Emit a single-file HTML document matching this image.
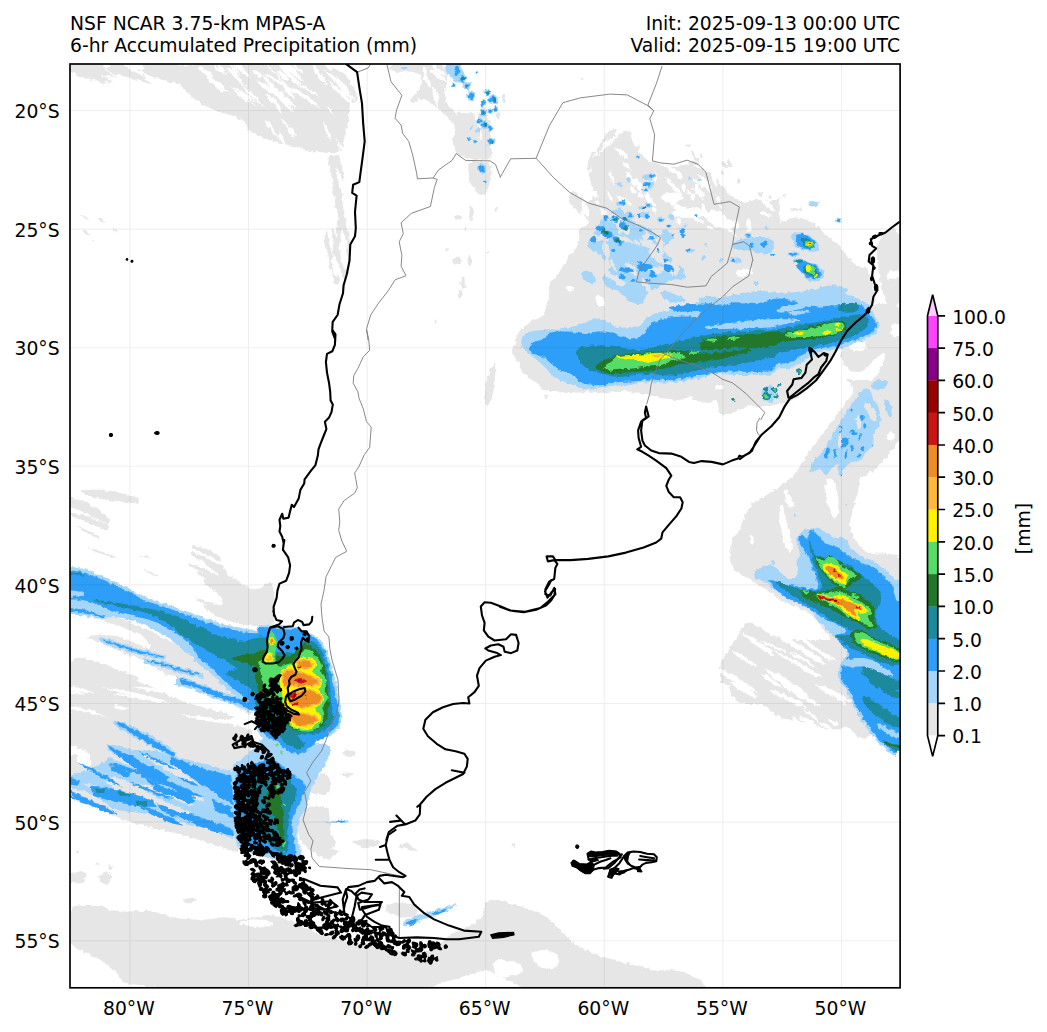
<!DOCTYPE html>
<html><head><meta charset="utf-8"><title>NSF NCAR 3.75-km MPAS-A 6-hr Accumulated Precipitation</title>
<style>
html,body{margin:0;padding:0;background:#fff}
svg{display:block}
text{font-family:"DejaVu Sans","Liberation Sans",sans-serif;font-size:18.75px;fill:#000}
</style></head><body>
<svg width="1047" height="1032" viewBox="0 0 1047 1032">
<rect width="1047" height="1032" fill="#fff"/>
<defs><clipPath id="ax"><rect x="70.0" y="64.0" width="830.1" height="923.8"/></clipPath>
<filter id="sp" filterUnits="userSpaceOnUse" x="50" y="45" width="870" height="960"><feTurbulence type="fractalNoise" baseFrequency="0.22" numOctaves="2" seed="3" result="n"/><feDisplacementMap in="SourceGraphic" in2="n" scale="4.5" xChannelSelector="R" yChannelSelector="G"/></filter>
</defs>
<g clip-path="url(#ax)">
<g filter="url(#sp)">
<path fill="#e6e6e6" fill-rule="nonzero" d="M591.6 166.8 L598.3 156.2 L604.3 148.8 L609.6 144.8 L616.3 138.8 L624.4 130.7 L629.7 131.4 L632.4 140.8 L635.1 147.5 L637.8 151.5 L641.8 155.5 L647.1 159.5 L652.5 163.5 L657.8 167.5 L663.2 168.8 L668.5 167.6 L675.2 166.2 L683.2 164.9 L689.9 164.9 L695.2 166.2 L701.9 168.9 L710 172.9 L716.7 178.2 L722 185 L726.7 191 L730.7 196.3 L734.7 200.3 L738.7 203 L744.7 203 L752.8 200.3 L760.8 199.7 L768.8 200.9 L774.6 200.9 L778.2 199.7 L780 221.7 L780 267.2 L722 289.9 L606.1 289.9 L549.5 287.9 L552.1 283.9 L556.9 279.9 L563.5 275.8 L566.5 270.5 L565.9 263.8 L567.9 257.8 L572.5 252.5 L576.2 247.1 L578.9 241.8 L579.6 236.4 L578.2 231.1 L580.3 227.7 L585.6 226.4 L588.3 223 L588.3 217.7 L585.6 214.3 L580.3 213 L575.6 209 L571.5 202.3 L570.9 198.3 L573.5 197 L576.9 199 L580.9 204.3 L585.6 207 L590.9 207 L593.3 202.3 L592.6 193 L591.3 184.3 L589.3 176.2ZM597.6 183.7 L597.1 180.2 L599 175 L602.1 172.3 L602.5 175.7 L600.7 181ZM594.7 167.2 L595.5 162.5 L599.2 155.2 L603.2 151.1 L602.4 155.8 L598.6 163.1ZM596 175.7 L595.9 172.5 L597.6 167.6 L600.1 164.8 L600.2 167.9 L598.5 172.9ZM597 157.5 L598.1 150.9 L602.4 139.9 L606.7 133.2 L605.6 139.8 L601.3 150.8ZM587.9 165.4 L588.2 160.9 L591.3 154 L595.1 150.3 L594.8 154.8 L591.7 161.7ZM618.1 160.1 L619.1 154.5 L623.7 145.9 L628.7 141.2 L627.7 146.9 L623.1 155.5ZM633.1 156 L633 152.1 L635.8 146.7 L639.7 144.2 L639.7 148.1 L636.9 153.5ZM595.9 153.3 L598.4 147.2 L604.5 137.3 L609.7 131.5 L607.2 137.5 L601.1 147.4ZM587 171.4 L588.5 165.6 L594 157 L599.5 152.5 L598 158.3 L592.5 166.9ZM610.9 138.6 L611 135.1 L613.6 130 L616.9 127.4 L616.7 130.9 L614.2 136.1ZM611.7 169.2 L611.7 165.5 L613.8 159.5 L616.5 156.1 L616.4 159.8 L614.4 165.7ZM600.9 144.5 L602.2 140 L606.4 133.3 L610.6 129.7 L609.3 134.2 L605.1 140.9ZM594.4 173 L595.6 169.2 L599.3 163.3 L602.7 160 L601.5 163.8 L597.9 169.7ZM606.5 142.8 L607.2 138.3 L610.6 131.2 L614.3 127.3 L613.7 131.8 L610.3 138.8ZM616 143.8 L616.1 140.7 L618 135.8 L620.4 132.9 L620.3 136.1 L618.4 141ZM608.4 153.1 L610.3 147 L615.9 137.5 L621.1 132.1 L619.2 138.1 L613.6 147.6ZM601.1 164.7 L603.4 159.1 L609.4 150.5 L614.7 145.6 L612.4 151.2 L606.4 159.8ZM596.2 177.3 L595.9 174.1 L598.3 169.9 L601.8 168.4 L602 171.7 L599.7 175.8ZM727.9 165.9 L728.4 163.7 L730.4 162.8 L732.4 164.3 L731.9 166.4 L729.9 167.3ZM700.4 154.1 L702.3 154.2 L703.7 155.8 L703.2 157.9 L701.3 157.9 L699.9 156.2ZM692.7 158.6 L695.1 157.4 L698.6 158.1 L700.5 160.5 L698.2 161.7 L694.6 161ZM693.5 156.1 L695.3 156.1 L697.1 157.7 L697.2 159.8 L695.4 159.8 L693.6 158.2ZM721.1 171.4 L722.9 171.3 L724.1 172.7 L723.6 174.6 L721.9 174.7 L720.6 173.3ZM684.4 146.5 L686 145.1 L689.1 144.3 L691.5 144.9 L690 146.3 L686.8 147.1ZM722.7 165 L724.9 164.9 L728.1 166.4 L729.7 168.5 L727.5 168.6 L724.2 167.1ZM737.5 178.6 L739.2 179 L740.4 180.8 L739.9 182.8 L738.2 182.4 L737 180.5ZM688.2 161.9 L690.8 162.1 L693.6 164.4 L694.2 167.3 L691.6 167.1 L688.8 164.8ZM690.8 162.1 L693.5 161.2 L697.5 162.2 L699.7 164.6 L697 165.5 L693 164.5ZM726.2 162.3 L727 160.5 L728.9 159.9 L730.6 161.4 L729.8 163.2 L727.9 163.8ZM756.2 194.1 L757.9 192.4 L761 192.2 L763.1 194.1 L761.4 195.8 L758.3 196ZM720.6 162.5 L723.2 162.6 L726.8 164.8 L728.2 167.6 L725.6 167.5 L722 165.3ZM691.1 151.4 L693.4 151.9 L695 154.2 L694.6 156.7 L692.4 156.3 L690.7 153.9ZM778.9 500 L830.4 500 L855.3 502.8 L853.4 508.2 L851.6 515.1 L849.8 523.5 L850.7 531.3 L854.4 538.6 L859 545.1 L864.5 550.6 L871.9 553.4 L881.1 553.4 L888 553.8 L892.6 554.8 L896 557.1 L908 560.8 L908 594.5 L908 658.1 L882.2 690 L847.8 690 L832.3 683.9 L836 671.8 L836 663.9 L832.3 660.1 L832.3 656.5 L836 652.8 L836 648.2 L832.3 642.7 L828.6 637.1 L825 631.6 L820.3 625.2 L814.8 617.8 L808.3 612.5 L801 609.3 L793.2 605.9 L784.9 602.1 L777.1 597.5 L769.7 592 L762.8 587.4 L756.3 583.8 L751.7 580.8 L749 578.4 L744.9 576.4 L739.4 574.5 L734.8 570.4 L731.1 564 L729.7 557.6 L730.5 551.1 L731.5 545.1 L732.4 539.6 L734.3 535.9 L737 534 L739.8 529.4 L742.5 522.1 L744.8 516.5 L746.7 512.9 L749 508.2 L751.7 502.8ZM722.8 658.3 L728.2 651 L732.9 643.6 L736.5 636.2 L740.7 629.8 L745.3 624.2 L749.9 622.4 L754.5 624.3 L761.4 628.4 L770.6 634.9 L777.5 637.6 L782.1 636.7 L787.6 638.1 L794.1 641.8 L801 644.5 L808.3 646.4 L814.8 646.8 L820.3 645.9 L825.9 648.2 L831.4 653.7 L835 658.8 L836.9 663.4 L836.9 668.5 L835 674 L835 680 L836.9 686.7 L808.3 690 L749.5 690 L720 683 L720 669ZM723 660.5 L729.4 656.8 L735.8 652.2 L742.2 646.9 L746.5 643.2 L748.6 641.1 L787 640 L861.6 640 L908 670.6 L908 732 L892.5 755.4 L879.7 741 L870.1 735.4 L863.7 738.6 L857.3 736.5 L850.9 729 L845.1 726.6 L839.8 729.3 L832.3 729.8 L822.7 728.2 L812.6 725.5 L801.9 721.8 L792.3 719.6 L783.8 719.1 L775.8 715.2 L768.3 707.7 L758.2 704 L745.4 704 L736.4 700.8 L731 694.4 L728.9 689.1 L730 684.8 L728.4 678.9 L724.1 671.4 L721.5 666.4 L720.3 663.7ZM80.1 490.2 L97.7 489.7 L115.4 491.5 L138 497.8 L139.3 502.8 L120.4 501.6 L107.8 500.3 L95.2 497.8 L82.6 494ZM62 495.3 L85.1 501.6 L100.2 510.4 L110.3 520.5 L107.8 524.2 L92.7 516.7 L80.1 510.4 L62 504.1ZM62 510.4 L90.2 516.7 L110.3 526 L107.8 530 L92.7 525 L75 517.4ZM77.6 525.5 L90.2 531.8 L100.2 537.6 L97.7 538.6 L87.6 533.6 L77.6 527.5ZM87.6 546.9 L102.8 552 L115.4 557 L112.8 557.8 L100.2 553.2 L87.6 548.2ZM140.5 554.5 L150.6 557.8 L149.4 558.8 L140.5 555.7ZM143.1 568.3 L158.2 575.4 L156.9 576.4 L143.1 569.9ZM228.1 574 L236.9 580.4 L245.1 585.4 L252.6 589.1 L260.2 588.5 L267.8 583.4 L272.5 588.5 L274.4 603.6 L275.3 615 L275.3 622.5 L269.3 625.7 L257.4 624.4 L246.4 622.2 L236.2 619.1 L228.7 614.6 L223.7 609 L223.7 604.9 L228.7 602.4 L229.9 597.3 L227.4 589.8 L225.6 582.2 L224.3 574.7ZM193.5 545.7 L206.1 548.7 L221.2 560.8 L218.7 561.3 L203.5 551.2 L193.5 547.2ZM196 553.2 L211.1 563.3 L226.2 578.4 L223.7 579.4 L208.6 565.8 L196 554.7ZM198.5 570.9 L211.1 576.4 L221.2 583.5 L219.2 584.5 L208.6 578.4 L198.5 572.4ZM196 598.6 L211.1 602.4 L221.2 606.1 L220.2 607.6 L208.6 604.6 L196 600.1ZM206.1 558.3 L218.7 568.3 L231.2 578.4 L226.2 578.4 L213.6 568.3 L204.8 559.8ZM77.5 604.6 L92.7 609 L109 614.4 L126.7 620.6 L145.6 628.8 L165.7 638.9 L184.6 648.3 L202.3 657.2 L216.1 665.4 L226.2 672.9 L235 681.1 L242.6 689.9 L248.3 698.7 L252 707.6 L252 712.6 L248.3 713.9 L240.1 709.5 L227.5 699.3 L213.6 691.1 L198.5 684.9 L184.6 679.8 L172 676.1 L160.7 671.1 L150.6 664.8 L139.3 659.1 L126.7 654 L114.1 649 L101.5 643.9 L92.7 640.1 L87.6 637.6 L90.8 635.8 L102.1 634.4 L114.1 635.7 L126.7 639.5 L138 643.9 L148.1 649 L151.2 647.7 L147.5 640.2 L139.3 633.9 L126.7 628.8 L114.1 624.4 L101.5 620.6 L88.9 617.5 L76.3 615 L62 610.9 L62 605.2ZM75 657.1 L85.2 658.4 L96.5 661.5 L109.1 666.6 L121.7 671 L134.2 674.8 L139.2 678 L136.8 680.5 L139.9 683 L148.7 685.5 L158.8 689.9 L170.1 696.2 L184.6 701.9 L202.3 706.9 L216.1 710.7 L226.2 713.2 L232.5 715.9 L235 718.6 L194.7 720 L111.6 720 L62 704.1 L62 672.4ZM76.3 704.4 L88.9 703.1 L101.5 703.1 L114.1 704.4 L124.2 706.3 L131.7 708.8 L139.9 709.5 L148.7 708.2 L157.5 709.5 L166.4 713.2 L175.8 714.5 L185.9 713.2 L196 714.2 L206 717.3 L216.1 720.5 L226.2 723.6 L235 725.8 L242.6 727.1 L248.3 729 L252 731.5 L252 743.5 L248.3 764.9 L245.1 795.1 L242.6 834.2 L238.8 853.1 L233.7 851.8 L223.6 848.4 L208.6 842.6 L193.4 837.9 L178.4 834.2 L162 830.1 L144.3 825.7 L131.7 822.2 L124.2 819.7 L112.9 815.2 L97.8 808.9 L85.2 804.2 L75 801.1 L62 775.9 L62 728.6ZM76.3 909.4 L88.9 910.1 L101.5 911.3 L114.1 913.3 L126.7 913.6 L139.3 912.2 L151.9 913.5 L164.5 917.3 L177.1 919.2 L189.7 919.2 L202.3 919.8 L214.9 921.1 L227.5 921.1 L240.1 919.8 L252.7 918 L265.3 915.5 L275.4 915.5 L282.9 918 L297.5 924.3 L319.2 934.3 L330 944.5 L330 954.9 L274.4 960 L163.3 960 L104.6 956.7 L98.4 950.2 L90.8 944.4 L82 939.3 L75.7 934.3 L62 929.3 L62 922.4 L62 913.5ZM86.4 876.4 L83.6 878.8 L81.2 881.7 L77.8 879.6 L74 878.2 L74.7 874.8 L77 872 L81.2 871 L85.2 872.9ZM109.3 878.9 L108.3 881.8 L105.1 883.9 L101.6 882.4 L99.3 880.3 L97.9 877.1 L100.9 874.4 L105 874.5 L109 875.5ZM193.5 901.6 L192 902.9 L189.3 903.8 L186.3 903.2 L183.5 902.4 L183.6 900.8 L185.9 899.7 L189.1 899.7 L191.4 900.5ZM79 851.2 L78.6 852 L77.9 852.9 L76.9 852.4 L76.3 851.6 L76 850.6 L76.9 850 L77.9 849.4 L78.9 850ZM99.2 863.8 L98.9 864.8 L98 865.2 L97 865 L96.1 864.3 L96.2 863.2 L96.9 862.4 L97.9 862.5 L98.9 862.8ZM112.3 867.5 L112.1 869 L110.6 869.2 L109.2 869.4 L108.5 868.2 L108.4 866.9 L109.1 865.5 L110.6 865.9 L112.1 866ZM303.1 807.7 L315.7 806.4 L324 806.4 L328 807.7 L330 820.3 L330 844.2 L325.5 855.6 L316.4 854.3 L308.1 849.3 L300.6 840.5 L296.8 829.2 L296.8 815.2ZM296.8 771.8 L306.8 774.3 L316.4 775 L325.5 773.7 L330 778.8 L330 790.1 L324.2 795.1 L312.6 793.8 L303 787.5 L295.5 776.2ZM227.5 56 L309.2 56 L350 76.6 L350 101.8 L348.5 120.4 L345.5 132.6 L343.3 142.4 L342 149.9 L334.5 153.2 L321 152.5 L306.7 150.2 L291.8 146.1 L275.5 141.4 L257.9 136 L247.7 129.6 L245 122 L235.5 116.3 L219.2 112.2 L205 105.8 L192.8 97 L183.3 88.5 L176.5 80.4 L176.5 73.2 L183.3 67.1ZM62 66.6 L76.8 68 L99.9 75 L114.3 82.7 L100.8 81.2 L77.7 74.2ZM137.4 69 L149.7 70 L170.4 76.3 L183.2 83.6 L170.9 82.6 L150.2 76.2ZM62 56 L62 56 L80.4 73.1 L93.3 81.7 L81.1 77.4 L62 67.2ZM84.3 56 L92.1 56 L103.2 66.6 L108.6 74 L100.8 74.7 L89.7 69.8ZM157.4 68.6 L164.4 68.9 L175.5 73.2 L182 78.5 L175 78.2 L163.8 74ZM84.9 56 L99.3 56 L123.8 71.3 L139 82 L124.6 76.1 L100.2 56ZM102.3 66.8 L112.7 67.1 L130.2 72.2 L140.9 78.6 L130.5 78.2 L113 73.2ZM145.1 56 L159.7 56 L183.9 77.8 L198.6 88.4 L183.9 84.6 L159.7 73.3ZM62 56 L62 56 L95.9 75.7 L111.2 86.6 L96.6 80.9 L62 67.6ZM151.6 56 L162.3 56 L179.9 70.8 L190.5 77.8 L179.9 76.7 L162.3 70.5ZM62 56 L62 56 L85.3 56 L99.6 76.9 L84.9 75.3 L62 56ZM99.1 56 L113.4 56 L137.6 75.3 L152.8 84.5 L138.6 80.4 L114.3 70ZM117.8 68.1 L126.2 69.1 L140.3 73.9 L149 79.2 L140.5 78.3 L126.4 73.5ZM150.6 56 L163.7 56 L186.3 70.2 L200.6 76.8 L187.5 75.5 L164.9 69.4ZM134 56 L147.8 56 L170 72.4 L183 83.4 L169.2 79.6 L147 68ZM147.3 56 L164.8 56 L193.6 72.2 L211 84.5 L193.5 81.1 L164.7 69ZM152.1 56 L162.3 56 L179.1 73.7 L189.1 81.7 L178.8 78.6 L162.1 69.9ZM62 56 L75.5 56 L101.3 66.9 L116.9 77.2 L101.4 74.7 L75.7 56ZM148.2 56 L157.6 56 L173 56 L182.5 72.1 L173.1 71 L157.6 56ZM62 56 L82.6 56 L98.5 56 L106.9 75.9 L96.3 74.1 L80.4 56ZM138.1 56 L148 56 L163.3 70.5 L171.8 78.6 L161.9 78.7 L146.6 72.8ZM137.6 56 L146.9 56 L160.9 56 L168.4 73.1 L159.1 72.4 L145 56ZM331.1 155 L337.9 155 L342 159.7 L343.3 169.2 L343.3 179.3 L342 190.2 L342 199.7 L343.3 207.8 L344.7 216 L346 224.1 L347.5 229.5 L349.2 232.2 L350 243.1 L350 262.1 L347.8 274.3 L343.5 279.8 L338.6 279.8 L333.1 274.3 L329.7 266.2 L328.4 255.3 L326.3 247.2 L323.7 241.8 L323.7 236.4 L326.3 230.9 L330.1 226.8 L334.8 224.2 L337.5 218.7 L338.2 210.6 L337.2 201.8 L334.5 192.2 L332.5 182.8 L331.1 173.2 L329.7 165.1 L328.4 158.4ZM89.1 220.3 L87.1 219.6 L84.9 218.7 L82.9 216.9 L80.8 215 L82.2 215 L83.7 215.3 L86.4 216.8 L87.5 218.5ZM105 222.7 L103.5 222.5 L101.2 221.4 L98.7 219.6 L97.1 217.7 L98.3 217.6 L100.1 218.2 L102.6 219.6 L104.4 221.5ZM90.4 235.2 L89.4 235.4 L86.4 233.6 L84 231.6 L81.7 229.5 L82.3 229.1 L84.7 230 L87.8 231.9 L89.7 233.9ZM117.6 232.3 L116.1 232 L114.6 231.7 L112.9 230.2 L112 228.9 L112.7 228.6 L114 228.7 L115.9 229.8 L116.8 231.1ZM94.3 240.4 L93.7 241 L93.2 241.5 L92.4 241.5 L92.2 240.7 L91.9 240 L92.5 239.4 L93.2 239.4 L93.8 239.8ZM332.7 110.2 L338.2 112.9 L341.6 119.7 L342.9 130.6 L342.9 140.1 L341.6 148.1 L338.8 151.5 L334.8 150.2 L332 144.8 L330.7 135.2 L330 125.1 L330 114.2ZM335.1 157 L339.8 161.1 L342.5 169.9 L343.3 183.4 L342.6 195.6 L340.5 206.5 L338.1 210.6 L335.5 207.8 L333.6 199.7 L332.7 186.2 L332.3 173.3 L332.6 161.1ZM332.7 223.5 L338.2 224.8 L342.2 227.5 L345 231.6 L345.6 239 L344.3 249.9 L342.2 259.4 L339.5 267.5 L336.8 270.2 L334 267.5 L332 262.1 L330.7 254 L330 243.1 L330 229.6ZM336.8 77 L339.5 78.3 L341.2 81.7 L341.9 87.1 L340.8 89.1 L338.2 87.8 L336.5 84.4 L335.8 79ZM350.7 85.1 L354.1 86.4 L356.1 91.2 L356.8 99.3 L355.8 102.7 L353 101.4 L351 96.6 L349.7 88.5ZM334.4 275 L337.8 276.3 L339.1 279.1 L338.5 283.1 L336.9 284.8 L334.5 284.2 L333.2 281.4 L332.8 276.7ZM402.2 56 L430 56 L445.3 68.1 L448 73.6 L448 80.4 L445.3 88.5 L445.3 96.6 L448 104.8 L453.4 110.2 L461.6 112.9 L469.7 113.6 L477.8 112.2 L484.6 114.2 L490.1 119.7 L492.1 127.2 L490.8 136.7 L490.8 145.5 L492.1 153.6 L490.1 158.4 L484.6 159.7 L477.8 160.1 L469.7 159.3 L462.9 157.3 L457.5 153.9 L454.1 148.8 L452.8 142.1 L453.5 136.6 L456.1 132.6 L455.5 127.8 L451.4 122.4 L446.7 117 L441.2 111.5 L435.1 106.1 L428.4 100.7 L421.6 99.3 L414.8 102.1 L410.7 102.7 L409.4 101.4 L411.4 98 L416.8 92.5 L420.2 86.4 L421.5 79.7 L419.5 74.9 L414.1 72.2 L406.6 71.2 L397.1 71.9 L391.4 70.5 L389.3 67.1ZM474.5 161.1 L486.7 162.4 L492.1 167.2 L490.8 175.3 L489.4 182.8 L488.1 189.5 L485.3 193.6 L481.2 194.9 L477.2 192.9 L473.1 187.5 L470.4 182.1 L469.1 176.6 L468.4 170.5 L468.4 163.8ZM473.8 211.9 L472.8 216.3 L471.6 220.7 L469.7 219.3 L468.3 215 L468.6 209.2 L469.8 205.5 L471.5 204.1 L472.8 207.7ZM461.1 217.4 L460.4 219 L458.1 219.6 L455.9 219.2 L454.5 218.1 L454.1 216.5 L455.8 215.4 L458.1 215 L459.9 216ZM462.9 260.8 L461.9 263.4 L458.4 264.4 L454.3 264.7 L453.1 261.9 L453.3 259.7 L454.4 257 L458.6 256.5 L461.4 258.5ZM471.2 260.8 L471.1 264.7 L470 265.7 L468.8 266.2 L468.2 262.6 L468 258.6 L468.9 256 L470 256.1 L470.8 257.6ZM465.8 282.5 L465.4 287.6 L463.3 288 L461.5 288.7 L460.3 284.9 L460.6 280.3 L461.4 275.7 L463.3 277 L465.3 277.4ZM462.8 293.3 L461.9 296 L460.6 297.8 L459.1 296.8 L457.9 294.9 L458 291.8 L459.2 290.1 L460.5 289.9 L461.6 291.1ZM467.3 228.2 L466.8 229.2 L466 229.9 L464.7 229.8 L464 228.8 L463.8 227.5 L465 227 L465.9 226.8 L467.1 227ZM488.7 252.6 L488.4 253.5 L487.6 253.9 L486.7 253.8 L485.8 253.2 L485.8 252.1 L486.6 251.3 L487.6 251.2 L488.2 251.9ZM447.8 249.9 L447.8 250.8 L446.9 251.4 L446 251 L445.2 250.4 L445.5 249.5 L446 248.8 L446.9 248.7 L447.7 249.1ZM498.1 209.2 L497.9 210.1 L497.1 210.5 L496.3 210.2 L495.5 209.7 L495.6 208.8 L496.2 208 L497.1 207.7 L497.8 208.4ZM437 321.8 L436.7 323.2 L436 324.4 L435.2 324 L434.9 322.4 L434.7 321 L435.2 319.6 L436 319.9 L436.8 320.2ZM505.7 98 L505.1 101 L504 103.3 L502.6 102.3 L501.7 99.7 L501.6 96.1 L502.7 94 L504 92.9 L505.2 94.8ZM500.2 114.3 L499.9 116.7 L498.6 118.6 L497.1 117.5 L496.5 115.3 L495.9 112.8 L497.1 110.9 L498.6 110.6 L499.5 112.3ZM342.3 68.1 L341.9 69 L341.1 69.7 L340.1 69.5 L339.4 68.7 L339.3 67.6 L340.3 67.2 L341.1 66.7 L342 67.2ZM583.3 79 L583.2 79.7 L582.5 80.2 L581.9 79.8 L581.3 79.4 L581.1 78.6 L581.8 78.1 L582.5 78 L583.2 78.2ZM619.1 260 L726.4 260 L780 293.4 L780 360.3 L764.8 394.4 L734.5 395.7 L714.6 395.7 L705.3 394.4 L695.9 395 L686.6 397.8 L677.9 397.8 L669.8 395 L663.1 392.4 L657.8 389.7 L653.8 387.7 L651.1 386.4 L647.8 386 L643.7 386.7 L635 387.4 L621.7 388 L608.3 389.1 L595 390.4 L582.9 391.8 L572.2 393 L560.9 392.4 L548.8 389.7 L539.4 385.7 L532.8 380.4 L527.4 376.3 L523.4 373.7 L520.4 369 L518.4 362.3 L515.4 357 L511.4 352.9 L510.7 349.6 L513.4 346.9 L515.4 342.6 L516.7 336.5 L519.4 331.2 L523.4 326.5 L529.1 322.5 L536.4 319.2 L544.1 315.1 L552.2 310.5 L554.2 304.8 L550.1 298.1 L548.5 292.1 L549.1 286.8 L551.5 282.1 L555.5 278 L559.5 272 L563.5 264ZM570.1 194.2 L572.8 191.5 L578.2 194.3 L586.3 202.4 L593.1 198.3 L598.6 182.1 L603.5 167.8 L607.8 155.6 L610 197.1 L610 292.4 L586.8 340 L540.4 340 L519.2 336.5 L523.3 329.4 L529.4 324.5 L537.5 321.8 L543 316.3 L545.6 308.2 L547.7 300.1 L549.1 292 L553.2 285.2 L559.9 279.7 L564 272.9 L565.3 264.9 L568 258.1 L572.2 252.6 L576.9 245.8 L582.3 237.7 L586.4 230.2 L589 223.5 L587.7 218.7 L582.3 216 L577.6 212.6 L573.5 208.5 L570.8 203.8 L569.4 198.3ZM650 161 L668 168 L686 170 L706 176 L720 188 L738 200 L761 211 L779 223 L796 217 L814 223 L825 234 L840 246 L854 264 L866 269 L872 278 L875 300 L870 318 L852 332 L840 345 L828 362 L815 380 L800 395 L790 402 L760 408 L752 405 L732 413 L722 415 L719 410 L717 400 L707 403 L691 399 L676 400 L661 398 L646 394 L626 391 L606 393 L583 391 L563 393 L543 390 L535 380 L560 300 L600 260 L650 200ZM883.8 233.7 L894 227.8 L908 246.2 L908 288.6 L896 308.6 L889.6 306 L885.2 300.1 L882.6 290.9 L880.6 283.1 L879.4 276.6 L878.1 268.1 L876.8 257.6 L876.8 248.4 L878.1 240.5ZM908 349.9 L908 430 L875.7 470 L828.8 470 L808 465.3 L813.3 455.9 L818.5 447.9 L823.7 441.4 L828.9 434.2 L834.2 426.3 L838.8 419.1 L842.7 412.6 L848 406.7 L854.5 401.4 L861 394.9 L867.5 387.1 L873.4 379.3 L878.7 371.4 L882.6 363.6 L885.2 355.7 L883.9 353.1 L878.7 355.7 L873.5 360.3 L868.2 366.8 L863 370.8 L857.7 372 L852.5 371.4 L847.3 368.8 L843.4 363.6 L840.7 355.7 L840.7 350.5 L843.4 347.8 L848 347.8 L854.5 350.5 L862.3 350.5 L871.5 347.8 L878.7 343.9 L883.9 338.7 L884.5 333.5 L880.7 328.2 L879.4 323.6 L880.6 319.7 L885.7 315.8 L894.7 311.8ZM874.1 304 L891.1 302.7 L908 313.1 L908 335.4 L893.7 347.8 L882 350.5 L872.8 350.5 L866.3 347.8 L864.3 341.3 L866.9 330.8 L867.6 320.4 L866.2 309.9ZM841.4 219.6 L840.9 220.9 L839.8 221.8 L838.2 221.7 L837.6 220.3 L837.4 218.9 L838.5 218 L839.8 217.6 L841 218.3ZM819.5 203.9 L818.4 205 L816.4 205.4 L814.1 205.5 L812.7 204.5 L812.9 203.4 L814.3 202.6 L816.4 202.4 L818.1 203ZM76 905.7 L88.1 904.7 L100.1 906.2 L112.1 910.2 L126.1 911.7 L142.2 910.7 L156.2 912.2 L168.3 916.2 L181.3 918.7 L195.4 919.7 L209.4 919.2 L223.4 917.2 L234.4 918.2 L242.5 922.2 L252.5 923.7 L264.6 922.7 L274.6 921.2 L282.6 919.2 L290.6 921.2 L298.7 927.2 L314.7 933.2 L338.8 939.3 L360.8 944.3 L380.9 948.3 L400.9 951.3 L421 953.3 L435 949.8 L443.1 940.7 L453.1 933.7 L465.1 928.7 L475.8 922.2 L485.3 914.2 L490 929.6 L490 968.2 L399.1 996 L217.2 996 L123.2 982.8 L117.1 973.1 L107.1 964.3 L93 956.3 L82 950.3 L74 946.3 L62 934.8 L62 915.7ZM485 901.6 L495.1 900.6 L505.1 901.6 L515.1 904.7 L526.1 908.2 L538.2 912.2 L548.2 918.2 L556.2 926.2 L564.2 934.2 L572.3 942.3 L582.3 948.8 L594.3 953.8 L606.3 957.8 L618.4 960.8 L631.4 964.3 L645.5 968.3 L659.5 970.3 L673.6 970.3 L684.6 972.3 L692.6 976.4 L701.6 980.7 L711.7 996 L657.5 996 L539.2 996 L480 966.2 L480 923.5ZM84.6 878.1 L84.5 882.3 L79.3 883.6 L74.7 882.6 L62 879.8 L62 876.1 L73.7 872.3 L79.1 873.3 L83 874.8ZM112.3 878.1 L109.6 881.5 L107.2 885.1 L103.3 883.6 L100.1 880.6 L101.6 876.2 L103.3 872.6 L107.2 871 L109.9 874.4ZM196.9 900.1 L194.2 901.5 L191.3 902.5 L187.6 902.2 L185.1 901 L184.7 899.3 L188 898.4 L191.4 897.7 L195 898.5ZM336.5 854 L334.4 856.6 L329 859.3 L321.4 857.7 L316.6 855.5 L315.4 852.4 L321.8 850.6 L328.5 850 L337.1 850.5ZM418 910.2 L414.6 915.1 L405.7 917.9 L396.5 915.7 L387.2 913 L385.4 907 L393.7 902.2 L405.5 902.9 L415.5 904.9ZM852.4 380 L882.1 380 L896.9 393.1 L896.9 419.2 L895.2 433.6 L891.7 436.2 L888.2 441.4 L884.8 449.3 L882.1 455.4 L880.4 459.8 L877.8 463.3 L874.2 465.9 L871.6 468.9 L869.9 472.4 L866.8 475 L862.5 476.8 L859.9 480.2 L859 485.5 L857.7 491.6 L856 498.6 L852.9 503 L848.6 504.6 L845.9 509 L845.1 516 L846.4 523.9 L849.9 532.5 L854.2 541.3 L859.5 550 L863 555.8 L864.6 558.5 L834.1 559.9 L771.4 559.9 L740 554.1 L740 542.6 L740.9 532.5 L742.6 523.9 L745.2 516 L748.8 509 L753.1 503.8 L758.3 500.3 L763.5 496.9 L768.8 493.4 L774 489.9 L779.2 486.4 L784.4 482.9 L789.7 479.4 L794 475 L797.5 469.8 L801 464.6 L804.5 459.3 L808 454.1 L811.5 448.9 L815.8 442.8 L821.1 435.8 L826.3 428.8 L831.6 421.9 L836.8 414.9 L842 407.9 L847.2 400.9 L852.5 394 L853.4 387.9 L849.9 382.6 L845.5 380 L840.2 380ZM886.2 456.7 L886.2 458.5 L885 459.2 L883.7 459.2 L883.4 457.4 L882.8 455.7 L883.8 454.4 L885 454.7 L886.3 454.9ZM880.4 458.5 L880.4 459.9 L879.7 460.3 L878.9 460.4 L878.7 459 L878.6 457.8 L879 456.9 L879.7 456.1 L880.4 456.9ZM873.7 470.7 L873.4 471.7 L872.8 472.9 L871.9 472.2 L871.4 471.3 L871.2 470 L871.7 468.6 L872.7 469 L873.7 469.2ZM908 556.1 L895.9 557.5 L892.5 557.9 L889.3 557.8 L887 556.8 L887.2 555.5 L889.6 554.6 L892.5 554.2 L895.6 554.8ZM780.3 199.5 L779.9 200.6 L779 201.6 L777.6 201.2 L776.7 200.2 L777.1 199 L777.6 197.8 L778.9 198.1 L779.7 198.6ZM785.7 195.2 L785.6 196.2 L784.7 196.7 L783.7 196.5 L783.1 195.7 L783.2 194.7 L783.6 193.7 L784.7 193.5 L785.7 194.1ZM802 209.7 L801.4 210.9 L797.1 211.4 L792.7 211.3 L789.9 210.3 L791.2 209.2 L792.4 208 L797 208.3 L801.4 208.5ZM771.6 196.6 L771 197.6 L770.1 197.9 L769.1 198.1 L768.7 197 L768.5 196.1 L769.2 195.4 L770.1 195.4 L770.8 195.9ZM818.4 203.9 L818.5 206 L814.4 206.5 L810.6 206.4 L807.6 205 L808.1 202.9 L810.2 201.1 L814.6 200.6 L818.7 201.7ZM820.9 202.4 L820.4 203.4 L819.6 204.3 L818.3 204.1 L817.6 203.1 L817.9 201.9 L818.5 201.1 L819.6 200.9 L820.7 201.2ZM319.2 836.8 L328 835.6 L333.5 837.5 L336 842.4 L334.1 846.8 L327.9 850.4 L322.3 851.1 L317.4 848.6 L314.9 844.9 L314.9 839.9ZM357.7 840.9 L368.9 840.2 L375.8 841.1 L378.2 843.6 L375.8 845.8 L368.3 847.7 L361.5 846.8 L355.2 843.1ZM402.4 844 L408.6 844.6 L413.6 846.8 L417.3 850.4 L416.1 851.7 L409.9 850.5 L404.9 848.3 L401.2 845.3ZM515.3 844.9 L515 846.8 L513.9 847.9 L512.6 847.5 L511.4 846.1 L511.9 844 L512.5 842.3 L513.9 842 L515.1 842.9ZM355.9 753.5 L354.9 755.7 L350.2 755.8 L345.5 756.5 L344.2 754.3 L342.5 752.3 L345.5 750.4 L350.3 750.7 L354.7 751.3ZM352.4 774.8 L351.8 776.1 L348 776.5 L344.5 776.3 L341.5 775.5 L339.9 773.9 L343.5 772.7 L348.3 772.6 L352.4 773.3ZM321.9 808.9 L320.3 810.9 L316.1 811.5 L312.3 811.2 L308.4 810 L308 807.7 L311.8 806.2 L316.3 805.7 L319.7 807.1ZM310.6 819.6 L308.2 822.6 L304.1 825.6 L298.7 823.5 L295.3 821.2 L293.7 817.6 L297.8 814.6 L304 813.8 L308.8 816.2ZM332.2 836.6 L331.1 843.1 L322 846.6 L312.4 844.7 L307.4 839.5 L305.7 833.3 L313.4 829.7 L321.4 828.9 L328.8 831.3ZM381.2 843 L376.2 845.8 L368.9 847.8 L360.8 846.2 L356.2 844.2 L352.7 841.4 L360.1 839.4 L368.3 839.3 L377 840ZM340.2 851.5 L336.6 853.6 L329.9 854.7 L322.2 854.3 L319.3 852.4 L318.8 850.6 L322.3 848.8 L329.9 848.4 L335.1 849.9ZM412.2 846.2 L409.1 847.7 L405.8 848.6 L401.8 848.2 L398.3 847.1 L398.4 845.3 L401.1 843.7 L406 843.3 L410.5 844.3ZM326.6 786.5 L323.8 789 L320.3 790 L316 790.4 L314.3 787.7 L314.1 785.2 L315.9 782.5 L320.6 782.1 L323.9 784ZM314.4 768.4 L312.9 772 L311.5 775.5 L309.3 774.3 L308.5 770.2 L307.6 765.8 L309.1 761.9 L311.3 763 L313.3 764.1ZM309.3 794 L308.9 797.1 L307 797.8 L305.3 797.7 L304.6 795.2 L304.1 792.5 L305.2 789.9 L307 790.6 L308.8 790.8ZM494.5 385.2 L491.8 398.7 L487.4 405.9 L484.2 403.1 L484.1 390.9 L487.5 378.1 L490.9 368.4 L495.2 362.2 L495.2 374.2ZM547.5 396.8 L547.6 398.3 L546.1 398.9 L544.8 398.4 L543.4 397.6 L543.8 396 L544.7 394.9 L546.1 394.6 L547.2 395.5ZM497.8 209.9 L497.6 210.9 L496.7 211.7 L495.6 211.3 L494.7 210.5 L494.6 209.2 L495.5 208.3 L496.7 208.2 L497.7 208.9ZM213.9 575.7 L220.5 576.8 L227.1 578.9 L233.7 582.2 L239.2 586.6 L243.5 592.1 L249 595.4 L255.6 596.6 L261.1 593.2 L265.5 585.6 L269.1 582.2 L271.8 583.3 L273.5 589.4 L274 600.4 L274 610.8 L273.5 620.8 L269.6 626 L262.5 626.5 L254.5 626.2 L245.8 625.2 L237 623.2 L228.2 620.5 L220.5 617.5 L213.9 614.1 L208.4 610.9 L204 607.5 L204 605.3 L208.4 604.2 L213.9 604.2 L220.5 605.3 L223.3 603.7 L222.1 599.3 L218.8 594.9 L213.3 590.5 L208.4 586.6 L204 583.4 L204 580.1 L208.4 576.8ZM193 545.5 L206.2 548.8 L221.6 556.5 L220.5 559.8 L206.2 554.3 L193 548.3ZM191.9 552.1 L206.2 557.6 L223.8 567.5 L228.2 575.1 L221.6 573 L206.2 563.1 L191.9 555.4ZM188.6 563.1 L206.2 569.7 L228.2 580.6 L226 583.9 L206.2 574.1 L188.6 565.9ZM198.5 571.9 L210.6 576.2 L223.8 585 L221.6 587.2 L210.6 580.6 L198.5 574.7ZM196.3 597.6 L210.6 602.6 L223.8 611.4 L221.6 613.6 L210.6 607 L196.3 600.4Z"/>
<path fill="#fff" fill-rule="nonzero" d="M702 202.6 L705.4 206 L708 213.3 L707.3 218.9 L703.9 215.5 L701.3 208.3ZM706.8 225.9 L709.3 225.8 L712.1 227.8 L712.9 230.5 L710.4 230.6 L707.6 228.7ZM686.5 190.4 L688.5 190.4 L690.7 192.1 L691.2 194.3 L689.2 194.3 L687 192.7ZM759.7 211.4 L762.5 210.6 L765.8 212.3 L766.9 215.4 L764.1 216.2 L760.8 214.5ZM614.5 146.7 L619.6 148.3 L626.6 153.8 L629.6 159.4 L624.5 157.8 L617.5 152.2ZM760.8 198.8 L765.9 200.4 L772.7 206 L775.6 211.6 L770.5 210 L763.7 204.4ZM638.2 193.5 L640.6 193.2 L642.7 194.9 L642.6 197.6 L640.2 197.9 L638.1 196.2ZM673.2 205.5 L675.6 204 L678.5 204.9 L679.5 208 L677.1 209.4 L674.2 208.5ZM727.8 219.8 L730.3 219.6 L732.4 221.5 L732.2 224.3 L729.7 224.6 L727.6 222.7ZM724.4 224.6 L728.8 227 L735 233 L738 238.1 L733.6 235.8 L727.4 229.8ZM684.1 210.8 L686.5 212.2 L687.5 215.4 L686 218.1 L683.6 216.8 L682.6 213.5ZM647.4 187 L649.3 191.6 L650.2 200 L649.2 205.8 L647.3 201.2 L646.4 192.8ZM693.2 217.5 L696.7 217.4 L701.8 219.5 L704.5 222.6 L701.1 222.7 L695.9 220.6ZM678.6 217.5 L680.6 219.3 L681 222.8 L679.1 225.3 L677 223.4 L676.6 219.9ZM702.9 213.9 L705.3 213.6 L708.3 215.1 L709.4 217.7 L707 218.1 L704 216.5ZM664.6 177.7 L668.8 179.1 L674.4 183.7 L677 188.2 L672.9 186.8 L667.2 182.2ZM734.9 219.2 L737.6 221.4 L739.1 226.1 L737.9 229.9 L735.3 227.8 L733.7 223ZM716 194.5 L718.9 197.8 L721.7 204.8 L721.9 210 L719.1 206.6 L716.3 199.7ZM629.9 177.2 L634.3 178.5 L640.2 183.3 L642.7 188.1 L638.3 186.8 L632.4 182.1ZM712.3 171.7 L715.1 175.5 L717.2 183.1 L716.5 188.6 L713.7 184.9 L711.6 177.3ZM643.9 194.3 L648.2 195.7 L653.6 200.7 L655.5 205.8 L651.2 204.4 L645.8 199.4ZM748.2 217 L750.6 220.8 L751.2 227.8 L749 232.6 L746.6 228.9 L746 221.8ZM683.4 183.3 L685.6 185.2 L686.1 189 L684 191.6 L681.8 189.7 L681.4 186ZM668.7 201 L673.2 201.5 L679.4 205.2 L682.4 209.5 L677.9 209 L671.7 205.3ZM697.9 211.6 L702.1 211.2 L708.4 213.6 L711.7 217.2 L707.6 217.5 L701.3 215.2ZM609.3 170.8 L611.9 173.8 L614.6 180.1 L615 184.8 L612.4 181.8 L609.7 175.5ZM667.3 166.8 L671.3 167.6 L676.7 171.3 L679 175.5 L675.1 174.7 L669.7 170.9ZM584.8 194.2 L587.2 194.2 L589.7 196.4 L590.1 199.2 L587.6 199.2 L585.1 197ZM694.8 182.6 L699 185.9 L703.2 193.6 L703.7 199.9 L699.5 196.6 L695.3 188.9ZM692.7 192.9 L694.8 194.7 L695.4 198.2 L693.8 200.8 L691.7 199.1 L691.1 195.6ZM655.1 172.2 L656.6 174.4 L656.9 178.5 L655.4 181.3 L654 179.1 L653.7 175ZM676.3 170.7 L679.7 171.6 L682.6 175.3 L682.4 179.2 L679.1 178.4 L676.1 174.7ZM635 178.7 L637.6 179.1 L639.9 181.7 L639.8 184.7 L637.3 184.3 L634.9 181.8ZM763 212.8 L765.7 212.8 L769.4 214.9 L771.1 217.6 L768.4 217.5 L764.7 215.5ZM699.4 174.3 L702.2 177.4 L704.4 183.7 L704 188.6 L701.2 185.6 L698.9 179.2ZM600.1 209.3 L603.1 209.8 L606.6 212.9 L607.5 216.3 L604.5 215.8 L601.1 212.7ZM637.6 181.6 L639.9 184.1 L641.8 189.4 L641.4 193.5 L639.1 190.9 L637.2 185.6ZM625.7 171.4 L629.9 174.3 L634.6 181.4 L635.6 187.4 L631.3 184.5 L626.7 177.4ZM581 209.2 L583.7 211.4 L585.7 216.4 L585.2 220.4 L582.5 218.2 L580.5 213.2ZM700.2 175.4 L704.4 177.8 L710.3 183.9 L712.9 189.2 L708.6 186.7 L702.8 180.6ZM670.2 186.3 L673.7 186.8 L678.8 189.6 L681.4 193 L677.9 192.5 L672.8 189.6ZM696.5 215.1 L698.1 216.5 L698.9 219.5 L698 221.9 L696.4 220.4 L695.6 217.4ZM581.8 199.5 L585.6 203.3 L589 211.5 L588.8 217.9 L585 214.1 L581.6 205.9ZM615.6 195.5 L620.7 196.2 L628.4 200.3 L632.4 205 L627.3 204.3 L619.6 200.1ZM607.5 191.1 L609.9 193.2 L612.3 197.9 L612.7 201.7 L610.4 199.6 L607.9 194.9ZM584.6 188.5 L589.2 188.7 L595.7 192.1 L598.8 196.5 L594.2 196.3 L587.7 192.9ZM691.4 179.2 L696.3 179.8 L704.3 183.2 L708.9 187 L703.9 186.4 L696 183ZM702.2 176.5 L705.8 179.9 L709.7 187.4 L710.5 193.3 L706.9 189.8 L703 182.4ZM630.1 185.9 L633.1 186.9 L635.6 190.3 L635.5 193.9 L632.5 193 L630 189.5ZM652.6 206.3 L655.2 207.5 L657 210.9 L656.1 214.1 L653.5 212.9 L651.8 209.5ZM595.5 199.5 L597.4 200.5 L599 203.3 L599 205.9 L597.1 204.8 L595.4 202ZM710.3 216.6 L712.9 216.8 L715.6 219.2 L715.9 222.2 L713.2 222.1 L710.6 219.7ZM622.2 160.6 L625.7 162.3 L630.3 167 L632.1 171.3 L628.6 169.6 L624 164.9ZM706.3 212.6 L709.7 214 L712.9 218.4 L713 222.7 L709.6 221.3 L706.4 216.9ZM691.3 188.6 L695.6 189.1 L702.3 192.3 L705.9 196 L701.6 195.5 L694.9 192.3ZM665.9 193.3 L676.5 192.6 L682.5 194.3 L683.9 198.3 L679.1 201 L668.5 202.3 L662.5 200.7 L661.1 195.9ZM679.2 208 L695.3 207.3 L703.9 209.7 L705.2 215 L697.9 217.7 L681.8 217.7 L673.1 215.3 L671.9 210.7ZM710.6 210.3 L720 211.7 L725.4 215.7 L726.6 222.3 L722.6 225.4 L713.3 224.7 L707.9 220.7 L706.6 213.4ZM719.4 218.4 L730 219.7 L735.4 222.4 L735.4 226.4 L730 228.4 L719.4 228.4 L714 225.7 L714 220.4ZM739.4 270.2 L747.4 268.2 L752.1 268.8 L753.4 272.2 L750.1 274.8 L742 276.9 L737.4 276.2 L736 272.9ZM781.7 505.5 L783.5 509.2 L785.1 514.2 L786.5 520.7 L787.9 527.1 L789.3 533.6 L790.9 539.6 L792.7 545.1 L792.7 549.3 L790.9 552 L788.6 551.1 L785.8 546.5 L783.5 540.1 L781.7 531.8 L780.3 524.4 L779.4 517.9 L779.4 512 L780.3 506.4ZM751.7 538.2 L753.3 540.9 L753.7 543 L752.8 544.4 L751.9 544.2 L750.9 542.3 L750.5 540.2 L750.8 537.9ZM731.3 650.5 L739 653 L750.9 660.3 L757.7 667 L750.1 664.5 L738.1 657.3ZM729.3 681.3 L737.9 683.5 L751.3 690.9 L759 698.1 L750.5 695.9 L737 688.5ZM770.4 671.3 L779.1 674.4 L792.7 682.9 L800.5 690.6 L791.8 687.6 L778.2 679.1ZM709.2 666.2 L718.4 668.5 L734.2 674.9 L744 680.7 L734.8 678.4 L719 672ZM791.9 642.4 L801.8 646.2 L817.6 656.3 L826.6 665.3 L816.6 661.5 L800.9 651.4ZM797.4 635.3 L807.2 640.6 L823.1 652.4 L832.6 661.8 L822.8 656.5 L806.8 644.7ZM802.8 641.6 L811.9 645.3 L827.1 653.9 L836.3 661.1 L827.2 657.5 L812 648.9ZM744.7 634.4 L753.3 638.4 L767 648.3 L774.9 656.7 L766.2 652.6 L752.5 642.7ZM771.1 672.8 L782 676.9 L799.5 687.8 L809.5 697.5 L798.6 693.4 L781.1 682.5ZM715.9 667.8 L727.6 672.1 L746.5 683.3 L757.8 693.1 L746.1 688.8 L727.1 677.6ZM794.1 652.5 L800.6 655.7 L811.1 663.1 L817.3 669.1 L810.9 665.8 L800.4 658.4ZM792.4 642.7 L798.3 645 L807.5 651.1 L812.7 656.5 L806.8 654.3 L797.6 648.2ZM774 632.5 L785.3 636.2 L803.5 646.5 L814.2 655.8 L802.9 652.1 L784.7 641.9ZM759.4 640.4 L767.3 642.3 L780.5 647.9 L788.8 652.8 L781 650.9 L767.7 645.4ZM768.4 689.3 L779.2 692.1 L797.2 700.4 L808.1 708.2 L797.2 705.4 L779.3 697.1ZM788.4 652.3 L794.5 654 L804.8 658.7 L811.1 663.1 L804.9 661.5 L794.6 656.7ZM813 683.7 L823.9 686.4 L842.1 694.6 L853 702.4 L842.1 699.7 L824 691.5ZM763.4 667.8 L773.3 672.1 L788.7 683 L797.4 692.5 L787.5 688.1 L772.1 677.2ZM799.6 667.3 L806.1 668.3 L816.6 672.7 L822.9 677.4 L816.4 676.5 L805.8 672.1ZM819 684.5 L827.2 688.8 L840.4 698.4 L848.3 706.2 L840.1 702 L826.8 692.3ZM782.8 685.6 L793.6 689.5 L811.7 699.1 L822.7 707.4 L811.9 703.5 L793.9 693.8ZM794.9 660.5 L800.8 662.8 L810 669.1 L815.2 674.7 L809.3 672.3 L800 666.1ZM741 633.1 L750.1 636.8 L765.2 645.6 L774.4 652.8 L765.3 649.1 L750.2 640.4ZM772.2 650 L783.8 654.8 L803.6 665.5 L816.1 673.9 L804.5 669.1 L784.7 658.4ZM759.5 672.6 L766.3 675.3 L776.9 682.3 L783 688.4 L776.3 685.7 L765.6 678.7ZM816.9 721.7 L821.6 722.7 L829.2 726.5 L833.6 730.3 L828.8 729.3 L821.3 725.5ZM802.3 707.6 L807.5 710.1 L815.5 716.4 L819.8 721.9 L814.6 719.4 L806.6 713ZM791.9 716.8 L795.7 718 L800.9 722.1 L803.2 726.2 L799.3 725.1 L794.2 721ZM807.1 721.4 L811 723.2 L816.9 727.9 L819.9 732.1 L816 730.2 L810.2 725.5ZM798.7 716.7 L804.8 717.6 L814.2 722.3 L819.4 727.4 L813.3 726.5 L803.9 721.8ZM827.7 719.3 L831.2 719.1 L836.1 721.4 L838.5 724.8 L835 725 L830 722.7ZM101.3 687.3 L117.9 689.2 L147.2 695.4 L166.4 701.3 L149.8 699.3 L120.4 693.2ZM112.2 693.7 L127.4 694.9 L154.4 699 L172.2 703.1 L157 701.8 L130 697.7ZM62 699.4 L62 703.2 L93.8 711.6 L109.2 718.4 L95.7 714.6 L62 706.2ZM62 690.6 L62 690.3 L77.8 691.9 L85.8 694.4 L78.8 694.6 L62 693ZM62 683.9 L62 684.3 L83.5 688.4 L96.1 693.5 L84.8 693.1 L62 689ZM133.2 686.8 L147 687.2 L171.4 690.7 L187.5 694.8 L173.7 694.4 L149.2 690.9ZM179.8 714.8 L195.6 715.4 L223.5 719.7 L241.8 724.7 L226 724.1 L198 719.8ZM80.1 748.5 L85.1 749.8 L88.9 754.2 L91.4 761.7 L90.2 766.1 L85.1 767.4 L81 765.5 L77.9 760.4 L76.6 755.4 L77.3 750.4ZM62 745.7 L75.7 746.3 L78.2 748.5 L79.5 752.3 L77.6 754.5 L62 755.1 L62 752.9 L62 747.9ZM119.2 704.7 L126.7 706.7 L128.9 708.4 L125.8 709.9 L121.4 709.9 L115.6 708.4 L113.4 706.7 L114.8 704.7ZM337.8 56 L341.6 56 L346.5 68.7 L348.5 72.6 L344.8 72.6 L339.9 69.7ZM235.6 91.3 L240.5 92.4 L247.4 97.1 L250.7 102 L245.8 100.9 L238.9 96.2ZM273.8 87.2 L280.7 91.4 L290.8 101.1 L295.9 109.2 L289 105.1 L279 95.3ZM276.5 69.7 L281 71.2 L286.9 76.3 L289.4 81.3 L285 79.7 L279.1 74.6ZM326.1 78.7 L334 84.5 L346.5 96.8 L353.7 106.1 L345.8 100.3 L333.2 88.1ZM273.4 56 L280.9 56 L292.9 78.3 L300 87.7 L292.5 81.4 L280.5 68.8ZM336.8 82.4 L341 83.9 L346.3 88.7 L348.3 93.5 L344.2 92 L338.9 87.1ZM208.3 56 L213.2 56 L221 69.5 L225.5 76.2 L220.6 71.6 L212.8 56ZM261.8 74 L266.8 77.5 L273.7 85.5 L276.9 92 L271.9 88.5 L265 80.6ZM226.4 68.3 L232.4 72.2 L241.9 80.7 L247.4 87.3 L241.4 83.4 L231.9 74.9ZM262 72.2 L269.4 74.9 L281.5 81.7 L288.7 87.7 L281.4 85.1 L269.3 78.2ZM341.7 67.9 L346.5 71.7 L353.6 79.9 L357.1 86.4 L352.3 82.6 L345.3 74.3ZM334.6 74 L339.1 77.9 L345.9 85.7 L349.7 91.7 L345.3 87.8 L338.4 79.9ZM205.9 77.6 L211 79.9 L218.9 85.7 L223.4 90.6 L218.4 88.3 L210.4 82.5ZM208.1 56 L214.2 56 L223.2 67.8 L227.7 74.7 L221.6 71.4 L212.7 56ZM215.1 84.5 L218.3 86.1 L222.4 90.6 L224.1 94.5 L220.9 92.8 L216.8 88.4ZM323.5 69.3 L331.2 74.1 L343.5 84.5 L350.7 92.6 L343 87.8 L330.7 77.5ZM270.6 88.7 L277.4 93.6 L287.8 104 L293.7 112.1 L287 107.2 L276.5 96.7ZM279.2 56 L286.7 70 L298.1 80.2 L304.2 88.5 L296.8 84.1 L285.4 73.9ZM330.2 56 L336.3 56 L345.8 56 L351.1 72.4 L345 69.8 L335.4 56ZM252.3 70 L256.2 70.4 L261 73.8 L262.9 77.9 L259.1 77.5 L254.2 74.1ZM197.9 66.9 L202.9 67.9 L210.3 72.4 L214.1 77.1 L209 76.1 L201.7 71.7ZM221.7 56 L227.4 56 L236.5 69.7 L242 75.1 L236.3 72.2 L227.1 56ZM292.6 87.3 L300.1 92 L312.9 101.5 L320.8 108.6 L313.3 103.9 L300.5 94.4ZM318.3 56 L322.6 56 L329.1 56 L332.4 70.7 L328 69.1 L321.6 56ZM298.8 83.5 L304.6 86 L314 92.2 L319.6 97.3 L313.8 94.7 L304.4 88.6ZM220.2 56 L225.9 56 L235 70.5 L240.2 78.1 L234.5 72.9 L225.4 56ZM280.8 56 L287.2 56 L297.5 67.2 L303.5 72.5 L297.1 70.6 L286.8 56ZM254 56 L260.6 56 L271.6 69.2 L278.4 76.6 L271.8 71.5 L260.7 56ZM339.7 90.3 L344.4 91.5 L351.6 95.7 L355.6 99.9 L350.9 98.7 L343.7 94.5ZM228.7 85.2 L236.1 89.8 L248.7 99.3 L256.5 106.2 L249.1 101.6 L236.5 92.2ZM278.3 56 L286 56 L297.8 73.5 L304.2 81.9 L296.5 77.6 L284.7 67.5ZM235 87.7 L241 90.6 L250.8 97.3 L256.7 102.7 L250.7 99.7 L240.9 93ZM255.3 80.2 L263.7 83.2 L277 91.5 L284.7 99 L276.3 96 L262.9 87.7ZM240.9 84.6 L247.8 89.4 L258.7 99.7 L265 107.6 L258.1 102.7 L247.2 92.5ZM213 56 L216.4 67.1 L221.5 70.4 L224.1 73.7 L220.7 72.9 L215.6 69.7ZM265.9 93.5 L269.6 95.6 L274.6 101 L276.6 105.7 L272.8 103.6 L267.9 98.2ZM273.8 70.4 L279.7 76.4 L289.3 88 L295 96.4 L289.1 90.4 L279.5 78.7ZM283.5 85 L291.6 88.5 L305.4 96.3 L314.1 102.3 L306 98.7 L292.2 91ZM200.7 70.8 L209.4 75.2 L223.1 85.6 L230.9 94.3 L222.2 89.9 L208.5 79.5ZM281.6 82.9 L286.5 85.8 L292.7 93.1 L295.1 99.4 L290.2 96.5 L284 89.3ZM291.4 87 L299.3 90.8 L312 99.7 L319.4 107.1 L311.5 103.4 L298.8 94.5ZM227.1 68.9 L231 69.3 L236.1 72.7 L238.2 76.7 L234.3 76.3 L229.2 73ZM230.8 56 L236.6 56 L245.9 72.4 L251.1 78.1 L245.3 75.3 L236 68.6ZM311 56 L316.7 68.9 L324.5 78.3 L328 85.9 L322.3 81.8 L314.5 72.4ZM335.5 137.2 L339.5 143 L345.4 154.1 L348.5 161.9 L344.5 156.1 L338.6 145.1ZM285.4 122.6 L287.9 124.8 L290.9 129.6 L292 133.4 L289.5 131.2 L286.5 126.4ZM264.9 119.4 L266.8 121.4 L268.8 125.6 L269.3 128.9 L267.5 126.9 L265.4 122.6ZM280.4 117.7 L285.2 121.7 L292.6 130.1 L296.5 136.5 L291.6 132.5 L284.3 124.1ZM323.2 120.1 L326.4 125.1 L329.8 134.9 L330.6 142 L327.5 137 L324 127.1ZM278.4 132 L281.5 135.3 L285 142.3 L286 147.6 L282.9 144.3 L279.4 137.4ZM272.5 96.5 L276.1 100.1 L280.3 107.8 L281.6 113.7 L278 110.1 L273.8 102.4ZM287.4 128.1 L290.1 130.4 L293.6 135.5 L295 139.4 L292.4 137.1 L288.8 132.1ZM326.4 106.1 L329 107.9 L332.7 112 L334.4 115.4 L331.8 113.6 L328.1 109.5ZM265.7 119.1 L270.2 124.1 L276.8 134 L280.1 141.3 L275.6 136.3 L269 126.4ZM339.3 240.9 L343.8 246.1 L347.9 256.8 L347.9 264.9 L343.4 259.8 L339.3 249.1ZM338.3 144.8 L341.7 155 L345.7 173.8 L347 186.6 L343.6 176.4 L339.6 157.6ZM341.8 227.8 L345.1 235.8 L347.2 250.6 L345.9 260.8 L342.6 252.8 L340.5 238ZM323.6 191.8 L329 203 L335.2 224 L337 238.7 L331.6 227.6 L325.4 206.5ZM332.6 255 L335.7 260.2 L337.6 270.2 L336.4 277.2 L333.3 272 L331.4 262.1ZM326.9 179.2 L330.8 185.6 L334.8 198.1 L335.5 207 L331.6 200.6 L327.6 188.1ZM342.1 249.1 L347.1 255.1 L352.2 267.3 L353.1 276.5 L348.2 270.5 L343 258.3ZM327.1 210.7 L330.7 221.4 L333.4 241 L332.6 254.4 L329 243.7 L326.3 224.1ZM340.3 252.1 L343.9 256.9 L347.7 266.4 L348.3 273.5 L344.6 268.8 L340.9 259.2ZM323.7 192.2 L329.6 200.7 L336.3 217.4 L338 229.7 L332.2 221.2 L325.5 204.4ZM331.9 251 L337.2 260.6 L343.7 278.8 L346 291.6 L340.8 282 L334.3 263.8ZM336.1 166.6 L340.8 175.4 L346.1 192.3 L347.4 204.3 L342.7 195.4 L337.4 178.5ZM476.4 121.1 L479.6 120.9 L482.5 123.5 L482.4 127.2 L479.2 127.4 L476.3 124.8ZM417.7 96.9 L420.1 100.3 L422.5 107.2 L422.9 112.2 L420.5 108.8 L418 101.9ZM473.5 103.3 L476.3 107.6 L478.1 116.1 L477 122.1 L474.2 117.7 L472.5 109.3ZM428.6 68.7 L434.1 70.2 L442.1 75.8 L446.1 81.3 L440.6 79.8 L432.6 74.2ZM446.3 99.2 L448.8 100.7 L451.5 104.7 L452.1 108.2 L449.6 106.6 L446.9 102.6ZM434.4 70.6 L438.9 73 L446 78.9 L449.8 83.7 L445.3 81.2 L438.3 75.4ZM429.1 110.9 L432.4 113.1 L435.7 118.5 L436.1 123.2 L432.9 121 L429.6 115.6ZM430.6 56 L435.4 66.9 L442.9 71.5 L446.9 76 L442.1 74.5 L434.6 69.9ZM451.2 100.8 L453.8 103.7 L456.5 109.7 L456.9 114.4 L454.2 111.5 L451.5 105.5ZM423.3 66.7 L425.2 68.6 L426.7 72.8 L426.5 76 L424.6 74 L423.1 69.9ZM480.2 129.6 L481.6 132.3 L481.9 137.3 L480.8 140.7 L479.4 138 L479 133ZM423.7 73.7 L427.2 76.4 L430.7 82.7 L431.1 87.9 L427.5 85.3 L424 79ZM433.1 86.4 L435.9 89.4 L438.3 95.7 L438 100.5 L435.2 97.5 L432.8 91.2ZM432.4 87.6 L434.9 92.6 L437.5 102.1 L437.9 108.7 L435.4 103.7 L432.8 94.3ZM596.9 295.1 L601 295.8 L603.6 298.5 L605 303.1 L603.6 305.8 L599.6 306.5 L596.9 303.8 L595.6 297.8ZM568.5 285.7 L571.9 286.4 L573.2 288 L572.5 290.8 L571 291.8 L568.6 291.1 L567.3 289.5 L567 286.8ZM716 385.4 L720 384.7 L722.3 385.4 L723 387.4 L721.3 388.7 L717.3 389.4 L715 388.7 L714.3 386.7ZM686.5 397.5 L690.6 397.1 L692.7 397.8 L693 399.5 L691.1 400.6 L687.1 401 L685 400.3 L684.6 398.6ZM889.1 271.6 L894.4 271 L908 272.6 L908 276.5 L895.5 278.8 L890.3 279.5 L887.5 277.9 L886.8 273.9ZM892 325 L895.4 323.6 L908 326.3 L908 332.8 L896.5 336.8 L893.3 338 L891.4 335.4 L890.8 328.9ZM499 959.3 L513.1 961.3 L521.1 965.3 L523.1 971.3 L517.1 975.3 L503 977.4 L495 973.4 L493 963.3ZM535.1 950.3 L549.2 950.3 L557.2 954.3 L559.2 962.3 L555.2 967.3 L545.2 969.3 L537.2 965.3 L531.1 955.3ZM240.5 921.2 L252.5 919.2 L263.5 919.7 L273.6 922.7 L273.6 925.2 L263.5 927.2 L252.5 926.7 L240.5 923.7ZM827.1 480.2 L830.6 478.5 L833.7 481.1 L836.3 488.1 L838.1 496.8 L838.9 507.3 L838.1 514.2 L835.5 517.8 L832.5 516 L829 509 L826.8 502.4 L825.8 496.4 L825.4 490.2 L825.4 484.2ZM785.6 489.4 L787.7 492 L790.1 496.4 L792.8 502.4 L793.2 506.4 L791.5 508.1 L789.3 506.8 L786.6 502.5 L785.1 497.2 L784.7 491.2ZM780.1 507.2 L781.8 510.8 L782.9 515.5 L783.4 521.7 L783 523.4 L781.6 520.8 L780.5 516 L779.7 509ZM751.4 534.3 L753 536 L753.7 538.2 L753.3 540.9 L752.5 541.5 L751.4 540.2 L750.7 538 L750.6 534.9ZM888.2 431.9 L891.7 431 L893.8 432.8 L894.8 437.1 L893.5 439.7 L890 440.6 L887.8 438.8 L886.9 434.5ZM577.2 864.6 L582.9 866.1 L586.4 866.6 L582.9 867.5 L578.3 866.4ZM582.9 870 L587.5 870.7 L588.7 871.9 L584.6 871.5Z"/>
<path fill="#a6d5fa" fill-rule="nonzero" d="M522.6 337.2 L524.2 335.2 L526.5 333.5 L529.3 332.2 L532.7 331.2 L536.8 330.5 L541.3 329.9 L546.3 329.4 L551.8 329 L557.9 328.7 L563.5 328.1 L568.9 327.3 L573.9 326.2 L578.6 324.9 L582.8 323.6 L586.4 322.2 L589.6 320.9 L592.3 319.5 L595 318.8 L597.6 318.6 L600.3 319 L603 320 L605.7 321.2 L608.3 322.5 L611 324 L613.7 325.7 L617 326.9 L621 327.5 L625.7 327.7 L631.1 327.4 L635.5 326.6 L639 325.2 L641.6 323.4 L643.3 321 L645.3 318.9 L647.6 317.1 L650.3 315.5 L653.3 314.2 L656.5 313 L660 312 L663.8 311.2 L667.8 310.5 L671.6 310 L675.3 309.7 L678.8 309.5 L682.2 309.5 L685.2 309.1 L687.9 308.2 L690.2 307 L692.2 305.3 L694.2 303.7 L696.2 302.2 L698.2 300.8 L700.3 299.4 L702.9 298.6 L706.3 298.2 L710.3 298.4 L715 299.1 L719.7 299.9 L724.3 300.9 L729 302.1 L733.7 303.5 L738.9 304.3 L744.6 304.7 L750.8 304.5 L757.4 303.8 L762.6 303 L766.3 302 L768.5 300.8 L769.1 299.4 L770.2 298.5 L771.8 298 L773.8 297.9 L776.3 298.3 L778.1 303.4 L779.4 313.2 L780 327.9 L780 347.2 L778.4 361.7 L775.1 371.2 L770.3 375.8 L763.8 375.5 L757.8 375.2 L752.2 375.1 L747.1 375 L742.4 375 L737.6 374.9 L732.6 374.8 L727.4 374.5 L722 374.2 L717 374.3 L712.3 374.8 L708 375.7 L703.9 377 L699.9 378.2 L695.9 379.2 L691.9 380 L687.9 380.7 L683.6 381.3 L678.9 381.8 L673.9 382.2 L668.5 382.5 L663.5 382.7 L658.8 382.7 L654.5 382.5 L650.4 382.2 L646.4 382.2 L642.4 382.5 L638.4 383.2 L634.4 384.2 L630.1 384.9 L625.4 385.4 L620.4 385.7 L615 385.7 L609.8 386 L604.8 386.7 L600 387.7 L595.3 389.1 L591 389.8 L587 389.8 L583.3 389.1 L579.9 387.7 L576.1 386.2 L571.7 384.5 L566.9 382.7 L561.5 380.7 L557 378.5 L553.3 376.2 L550.5 373.7 L548.5 371 L546.2 368.3 L543.5 365.7 L540.5 363 L537.1 360.3 L534.1 358 L531.4 356 L529.1 354.3 L527.1 352.9 L525.4 351.2 L523.9 349.2 L522.6 346.9 L521.6 344.2 L521.3 341.7 L521.6 339.4ZM585.1 270.7 L587.4 270.7 L589.6 271.4 L591.6 272.7 L593.4 274.7 L595.1 277.4 L595.9 279.6 L595.9 281.5 L595.1 282.9 L593.4 283.9 L591.7 284.2 L589.8 283.9 L587.9 282.9 L585.9 281.2 L584.3 279.5 L583.2 277.6 L582.4 275.7 L582.1 273.7 L582.4 272.2 L583.4 271.2ZM605.6 263.3 L608.3 262 L614.3 261 L623.7 260.3 L636.4 260 L652.4 260 L664.3 260.7 L672 262 L675.5 264 L674.8 266.7 L675.1 268.9 L676.5 270.5 L678.8 271.7 L682.2 272.4 L684.5 273.3 L685.9 274.5 L686.2 275.9 L685.5 277.6 L684.2 278.8 L682.2 279.4 L679.5 279.6 L676.2 279.2 L673 279.5 L670 280.3 L667.2 281.7 L664.5 283.7 L661.8 285.4 L659.2 286.7 L656.5 287.7 L653.8 288.4 L651.5 289.6 L649.5 291.2 L647.8 293.4 L646.4 296.1 L645.1 298.4 L643.7 300.4 L642.4 302.1 L641.1 303.5 L639.3 304.1 L636.9 304.1 L634.1 303.5 L630.7 302.1 L627.9 300.6 L625.5 298.9 L623.7 297.1 L622.4 295.1 L620.7 293.3 L618.7 291.6 L616.4 290.1 L613.7 288.7 L611.5 287 L609.9 285 L608.7 282.7 L608 280 L607.2 277.3 L606.2 274.7 L605 272 L603.6 269.3 L603.3 267 L603.9 265ZM666.5 291.4 L670.5 292.8 L674.2 294.1 L677.5 295.5 L680.5 296.8 L683.2 298.1 L684.4 299.4 L684 300.5 L682.2 301.6 L678.8 302.6 L675.5 302.9 L672.1 302.6 L668.8 301.6 L665.5 299.9 L663 298.2 L661.3 296.3 L660.5 294.4 L660.5 292.4 L661.5 291.2 L663.5 290.9ZM706 297.2 L710 297.9 L713.9 298.3 L717.6 298.1 L721.3 297.6 L724.8 296.5 L728.7 295.6 L733 294.7 L737.6 293.9 L742.6 293.1 L747 292.4 L750.7 291.8 L753.9 291.2 L756.4 290.8 L759.6 290.6 L763.3 290.9 L767.7 291.5 L772.7 292.5 L777.5 293.1 L782 293.4 L786.2 293.2 L790.3 292.8 L794.3 292.2 L798.3 291.8 L802.3 291.2 L806.3 290.8 L810 290.1 L813.5 289.4 L816.8 288.5 L819.8 287.5 L823.1 286.7 L826.6 286.1 L830.3 285.6 L834.4 285.4 L837.9 285.5 L840.9 286 L843.4 286.9 L845.4 288.1 L846.6 289.3 L847.1 290.4 L846.9 291.5 L845.9 292.5 L845.9 293.5 L846.9 294.5 L848.9 295.5 L851.9 296.6 L854.7 297.6 L857.2 298.6 L859.4 299.6 L861.5 300.6 L863.4 301.6 L865.1 302.6 L866.8 303.6 L868.2 304.6 L869.8 306.2 L871.2 308.5 L872.8 311.4 L874.2 314.9 L875.6 318 L876.7 320.7 L877.6 323.1 L878.4 325.1 L878.6 327 L878.4 328.7 L877.6 330.4 L876.4 331.9 L874.8 333.4 L872.9 334.9 L870.8 336.4 L868.2 337.9 L865.6 339.3 L862.9 340.6 L860 341.7 L856.9 342.7 L853.9 343.8 L850.9 344.9 L847.9 346.1 L844.9 347.3 L841.9 348.3 L838.9 349.1 L835.9 349.6 L832.9 349.8 L829.9 350.2 L826.9 350.7 L823.9 351.3 L820.8 352.1 L817.8 353.1 L814.8 354.3 L811.8 355.8 L808.8 357.6 L805.9 359.4 L803.2 361.3 L800.5 363.2 L798 365.2 L795 366.7 L791.5 367.7 L787.5 368.2 L783 368.2 L778.6 368.4 L774.3 368.8 L770.2 369.4 L766.2 370.1 L761.9 370.8 L757.4 371.5 L752.7 372.1 L747.6 372.6 L742.6 373 L737.6 373.4 L732.6 373.7 L727.6 373.9 L722.6 374.1 L717.6 374.2 L712.6 374.3 L707.5 374.3 L703.8 369.4 L701.3 359.6 L700 344.9 L700 325.4 L701 310.9 L703 301.5ZM777 393.3 L775.4 398 L771 402.3 L764.7 400.3 L760.1 396.3 L760.5 390.5 L765.4 387.4 L770.7 385.6 L776.8 387.7ZM588.6 240.4 L590.6 237.7 L592.4 235 L594.1 232.4 L595.6 229.7 L597 227 L598.5 224.5 L600.2 222.2 L602 220 L604 218 L606.2 216 L608.5 214 L611 212 L613.7 210 L616.2 208.8 L618.5 208.5 L620.7 209 L622.7 210.3 L624.7 212 L626.7 214 L628.7 216.3 L630.7 219 L632.9 221.2 L635.2 222.8 L637.7 224 L640.4 224.7 L643.2 225.7 L646.2 227 L649.4 228.7 L652.8 230.7 L655.8 231.9 L658.5 232.2 L660.8 231.7 L662.8 230.4 L665 229.2 L667.3 228.2 L669.8 227.4 L672.5 226.7 L675.2 226.5 L677.8 226.9 L680.5 227.7 L683.2 229.1 L684.9 230.4 L685.5 231.8 L685.2 233.1 L683.9 234.4 L682.2 235.6 L680.2 236.6 L677.9 237.4 L675.2 238.1 L672.5 239.3 L669.9 240.9 L667.2 243.1 L664.5 245.8 L663.2 248.3 L663.2 250.6 L664.5 252.8 L667.2 254.8 L669.9 256.8 L672.5 258.8 L675.2 260.8 L677.9 262.8 L680.1 264.8 L681.7 266.8 L682.9 268.8 L683.5 270.8 L683.2 272.5 L681.8 273.8 L679.5 274.8 L676.2 275.5 L673 276.3 L670 277.3 L667.2 278.5 L664.5 279.9 L661.8 281.2 L659.2 282.6 L656.5 283.9 L653.8 285.2 L650.8 286.4 L647.4 287.4 L643.8 288.2 L639.7 288.9 L635.1 289.4 L629.7 289.7 L623.7 289.9 L617 289.9 L611.7 289.1 L607.7 287.4 L605 284.9 L603.6 281.5 L603 278.3 L603 275.3 L603.6 272.5 L605 269.8 L605.6 267.1 L605.6 264.5 L605 261.8 L603.6 259.1 L601.9 256.8 L599.9 254.8 L597.6 253.1 L594.9 251.8 L592.6 250.5 L590.6 249.1 L588.9 247.8 L587.6 246.4 L587.1 244.7 L587.4 242.7ZM732.7 243.1 L738 240.4 L744.7 238.4 L752.8 237.1 L760.8 237.1 L768.8 238.4 L773.5 241.1 L774.8 245.1 L773.5 249.1 L769.5 253.1 L764.8 254.4 L759.5 253.1 L754.1 251.8 L748.8 250.5 L743.4 249.8 L738.1 249.8 L734 248.5 L731.4 245.8ZM734.7 258.8 L738.7 258.1 L741 259.1 L741.7 261.8 L740 263.2 L736 263.5 L733.7 262.5 L733 260.2ZM753.4 281.5 L757.4 280.9 L758.8 281.9 L757.4 284.5 L755.4 284.9 L752.8 282.9ZM639.5 156.2 L639.4 157.5 L638.1 158 L636.5 158.3 L635.7 156.9 L636 155.5 L636.8 154.5 L638.1 154 L639.4 154.8ZM651.5 177.6 L651.3 179.9 L648 181 L645.1 179.8 L643.2 178.5 L642.6 176.5 L644.5 174.5 L648 174.3 L651 175.4ZM654.2 185.6 L653 187.5 L650.5 188.7 L648 187.8 L646.2 186.5 L646.9 184.8 L647.7 183.1 L650.5 182.6 L652.9 183.7ZM622.6 185.6 L622.3 187.2 L620.9 188.7 L619 188 L618.3 186.3 L617.4 184.5 L618.8 182.9 L620.8 183.2 L622.2 184ZM630.9 180.2 L630.3 181.9 L628.8 182.5 L627.3 182 L626.8 180.8 L626.1 179.4 L627.4 178.6 L628.8 178 L630.2 178.7ZM624.6 204.3 L623 205.6 L621 206.5 L618.6 206.2 L615.9 205.3 L616.2 203.4 L618.2 202.1 L621 202.2 L623.6 202.7ZM644.6 207 L644.1 208.9 L642.3 209.8 L640.4 209.4 L638.9 208 L639.6 206.2 L640.7 205.1 L642.1 204.9 L643.7 205.4ZM649.4 215 L648.9 217.2 L645.5 218.7 L641.9 217.6 L640.3 215.9 L640.3 214.1 L641.3 211.8 L645.4 211.7 L648.9 212.7ZM662.2 217.7 L662.3 219.2 L660.8 219.4 L659.2 219.8 L658.4 218.4 L658.2 216.8 L659.4 215.9 L660.9 215.4 L662.3 216.1ZM695.6 251.1 L695.4 252.7 L693 252.8 L691.1 252.8 L689.7 251.8 L689.3 250.3 L690.9 249.2 L693.2 248.9 L695.2 249.6ZM723.9 260.5 L723.4 261.7 L722.4 262.6 L720.8 262.5 L719.8 261.3 L720.1 259.8 L720.9 258.6 L722.4 258.1 L723.4 259.3ZM707.3 244.4 L707.4 245.6 L706.2 245.9 L705.2 245.7 L704.3 245 L704.4 243.9 L705.2 243.2 L706.2 242.8 L707.3 243.3ZM691.8 178.9 L690.9 179.8 L690.2 180.4 L689.1 180.3 L688.3 179.5 L688.1 178.3 L689 177.4 L690.2 177.2 L691.2 177.8ZM700.7 180.2 L700.2 181 L699.5 181.4 L698.5 181.6 L698.2 180.6 L698.1 179.8 L698.5 178.9 L699.5 178.9 L700.5 179.2ZM767.4 228.4 L767.4 229.5 L766.4 230.1 L765.3 229.9 L764.7 228.9 L764.6 227.8 L765.5 227.3 L766.4 226.5 L767.3 227.3ZM674.4 217.7 L673.1 219.3 L671.6 220.1 L669.7 220.2 L668.9 218.5 L668.4 216.7 L669.7 215.2 L671.6 215 L673.3 215.9ZM687.3 225.7 L686 227 L684.9 227.6 L683.3 227.8 L682.5 226.5 L682.5 224.9 L683.5 223.9 L684.9 223.6 L686.4 224.1ZM705.2 257.8 L704.6 258.9 L703.6 260 L702.5 259.1 L701.5 258.4 L701.5 257.1 L702.4 256.3 L703.6 255.8 L704.5 256.7ZM606.6 237.3 L605.3 239 L602.4 237.7 L599.8 236.4 L598.2 233.8 L599.4 231.7 L602.4 231.5 L605.5 232.8 L606.4 235.3ZM619.9 222.7 L617.8 223.9 L614.9 222.8 L612.3 221.3 L611.7 219.1 L612.6 217.4 L614.9 216.8 L617.8 218 L619.5 220.3ZM634.6 217.5 L633 219.2 L629.8 218.2 L627.1 216.4 L626.2 213.9 L626.9 211.6 L629.9 211.7 L632.6 213.2 L634.2 215.3ZM651.4 205.2 L650.8 206.8 L648.8 208.1 L646.2 207.6 L645 206 L645 204.4 L646.3 203 L648.6 203.2 L651.3 203.3ZM649.1 190.2 L648.2 191.7 L646.3 192.8 L644.1 192.1 L642.7 190.9 L642 189.2 L644.1 188.3 L646.3 187.4 L647.9 188.8ZM656.2 175.2 L656.1 176.9 L653.8 177.8 L651.6 177.1 L649.7 176.1 L649.6 174.3 L651.6 173.3 L653.6 173.2 L655.5 173.7ZM636.4 272.4 L633.9 273.5 L630.5 273.3 L627 271.8 L624.5 269.3 L626.8 268 L629 267 L632.4 267.9 L635.8 269.9ZM658.9 274.9 L656 275.6 L653 276.1 L650.1 274.1 L647.7 271.9 L648.4 269.9 L651.3 269.1 L655 270.3 L657.1 272.5ZM671 260.3 L668.9 262.1 L666.4 263 L663.1 263.1 L661.8 261.2 L661 259.1 L663.2 257.4 L666.5 257.2 L669.2 258.3ZM637.2 280.3 L636 281.9 L633.9 283.2 L630.4 283.4 L628 281.5 L629.5 279.4 L630.9 277.7 L633.9 277.2 L636.2 278.5ZM687.1 235.2 L685.7 236.8 L683.9 238 L681.1 237.7 L679.8 236.1 L680.1 234.4 L681.6 233.3 L683.8 232.5 L685.5 233.8ZM691.8 250.3 L691 252 L688.9 253.2 L686.2 252.7 L684.7 251.1 L684.9 249.4 L686.7 248.4 L688.9 247.3 L691.2 248.5ZM767.1 245.2 L766.9 247.2 L764 247.9 L761 247.7 L759.3 246.1 L758.9 244.3 L760.9 242.7 L764 242.4 L766.1 243.8ZM736.1 260.3 L735.9 261.9 L733.8 262.5 L731.5 262.3 L730 261.1 L729.8 259.4 L731.5 258.2 L733.9 257.6 L735.5 258.9ZM664.2 220.2 L663.8 222.1 L661.2 222.5 L659 222.3 L657.6 221 L656.8 219.2 L659.2 218.4 L661.1 218.2 L663 218.8ZM617.1 250.3 L615.8 251.7 L613.9 253.1 L610.8 252.8 L609.6 251 L609 249.3 L611.4 248.4 L613.7 248.1 L616.7 248.4ZM662.5 250.3 L661 251.7 L658.8 252.7 L656.4 252.2 L653.6 251.3 L654.1 249.3 L655.9 247.9 L659 247.3 L660.9 248.8ZM752.5 235.2 L752.1 237 L748.9 237.5 L745.9 237.5 L744.4 236 L743.4 234.3 L746.2 233.3 L748.9 233.1 L751.5 233.7ZM841.2 220.2 L841.5 222.1 L839 223 L836.6 222.3 L835.3 221 L834.9 219.3 L836.8 218.4 L838.9 217.7 L841.2 218.5ZM726.9 300.3 L726.2 303.2 L715.3 303.6 L705.8 303.7 L699 301.7 L698.5 298.9 L705.4 296.7 L715.6 296.7 L725.1 297.6ZM761.2 305.3 L761.6 307.9 L750.6 308.4 L740.9 308.2 L735.7 306.4 L736.9 304.3 L739.9 302 L751.2 301.4 L759.7 303.1ZM810.6 528.1 L819 529 L825.9 531.8 L831.4 536.4 L836.9 538.2 L842.4 537.3 L846.1 539.1 L848 543.7 L851.2 548.3 L855.8 552.9 L861.8 556.6 L869.1 559.4 L876 563.1 L882.5 567.7 L887.5 571.8 L891.2 575.5 L894.6 579.6 L908 584.2 L908 612.4 L908 664.1 L886.9 690 L861.5 690 L846.1 686.2 L840.6 678.7 L838.7 671.7 L840.6 665.2 L843.4 659.7 L847 655.1 L846.1 649.6 L840.6 643.1 L836 638.5 L832.3 635.8 L826.8 630.2 L819.4 621.9 L814.8 616 L812.9 612.3 L809.2 609.1 L803.8 606.3 L798.2 603.5 L792.8 600.8 L786.3 597.5 L778.9 593.9 L772.9 589.7 L768.3 585.1 L763.2 581.4 L757.8 578.7 L754.5 576.4 L753.6 574.5 L755.4 571.8 L760 568.1 L764.6 565.4 L769.2 563.5 L773.8 565.4 L778.5 570.9 L784 575.5 L790.4 579.1 L794.5 579.1 L796.4 575.5 L797.1 570.4 L796.6 564 L797.5 559.4 L799.9 556.6 L799.6 551.5 L796.9 544.2 L796.4 538.6 L798.3 535 L801 531.7 L804.7 529ZM838.7 668.8 L841.9 662.4 L845.6 657.6 L849.9 654.4 L847.8 649.6 L839.2 643.2 L851 640 L882.9 640 L908 669.9 L908 729.5 L894.6 756.2 L886.1 749.8 L878.7 742.9 L872.3 735.4 L867 728.5 L862.6 722.1 L858.4 715.2 L854.1 707.7 L850.9 700.8 L848.8 694.4 L845.6 688.5 L841.3 683.2 L838.7 678.4 L837.6 674.1ZM775.1 562.6 L774.7 563.7 L773.6 564 L772.7 563.8 L772 563.1 L772.2 562.1 L772.6 561.3 L773.6 561.3 L774.5 561.6ZM769.5 570 L769.3 571.2 L768.1 571.5 L766.9 571.6 L766.4 570.5 L766.4 569.4 L767.1 568.6 L768.2 568 L769.4 568.6ZM765.5 568.1 L764.9 568.8 L764.4 569.2 L763.7 569 L763.2 568.5 L763.2 567.7 L763.5 567 L764.3 567.2 L765 567.4ZM795.7 515.6 L795.4 516.3 L794.7 516.5 L794.1 516.5 L793.8 515.9 L793.8 515.4 L794.1 514.9 L794.7 514.7 L795.2 515.1ZM847.1 505.5 L846.7 506.1 L846.3 506.5 L845.6 506.4 L845.1 505.9 L845.3 505.2 L845.6 504.6 L846.3 504.6 L846.9 504.9ZM829.3 534.1 L829.2 534.6 L828.7 534.7 L828.2 534.8 L828 534.3 L828 533.8 L828.2 533.3 L828.8 533.2 L829.2 533.6ZM840.8 539.6 L840.6 540.3 L839.9 540.9 L839 540.7 L838.5 540 L838.6 539.2 L839.1 538.7 L839.8 538.7 L840.6 538.8ZM62 565.3 L84.6 569.1 L103 576.5 L121.8 584.9 L146 597.5 L158 601.3 L169.8 605.3 L181.4 609.4 L193 613.5 L203.3 617.9 L214.9 621.4 L226.5 624.9 L238 627.2 L249.8 629.5 L261.4 630.1 L272 626 L272 718 L259 716 L254.4 712 L245 704 L238 698 L226.5 689 L214.9 677 L209 671 L197.4 665 L193 656.5 L181.4 648.4 L169.8 639 L158 632 L146.5 626.3 L134.9 621.6 L123.3 618 L111.6 617 L100 618 L85 614 L62 612ZM100 637 L117.4 641.5 L134.9 647.5 L152.3 652.2 L166 656 L165 660 L151.2 658 L133.7 653.5 L116.3 647.5 L100 642.8ZM143 658 L164 661.5 L181.4 667.3 L203 673 L203 678 L180.2 673.5 L162.8 667.5 L143 663.4ZM176 676 L191.6 679.9 L203.3 684.5 L214.9 689.2 L226.5 693.8 L240.5 697.3 L252 704 L250 713 L238 706 L226.5 702.5 L214.9 698.5 L203.3 693.5 L191.6 689 L176 685ZM62 604.5 L84.6 607.5 L107 614.8 L106 619.5 L84.6 616 L62 612.5ZM287.4 626.6 L294.4 627.3 L300.7 628.9 L306.3 631.4 L312 634.2 L317.7 637.3 L321.8 641.1 L324.2 645.5 L326.4 650.2 L328.4 655.3 L329.9 660.3 L331.2 665.4 L332.8 671 L334.7 677.4 L336.2 683.6 L337.5 690 L338.7 696.2 L340 702.6 L340.9 708.9 L341.6 715.1 L341.3 720.8 L340 725.9 L337.2 730.3 L332.8 734 L327.5 736.8 L321.1 738.8 L311.7 740.7 L299.1 742.5 L286.5 743.5 L273.9 743.5 L264.5 739.7 L258.1 732.2 L255 702.6 L255 650.9 L258.8 625.2 L266.3 625.6 L273.6 625.9 L280.5 626.1ZM73.8 774.3 L81.3 771.8 L90.8 768 L102.1 763 L109 756.7 L111.5 749.2 L117.8 746.6 L128 749.1 L138 750.4 L148.1 750.4 L157.5 751.6 L166.4 754.1 L175.8 756.7 L185.9 759.2 L196 761.8 L206 764.2 L217.4 767.4 L230 771.2 L238.8 773.7 L243.9 775 L243.9 792 L238.8 824.7 L232.5 839.2 L225 835.4 L214.9 831.6 L202.3 827.9 L189.7 824.1 L177.1 820.3 L164.5 817.1 L151.9 814.6 L139.3 812.8 L126.7 811.5 L114.1 809.6 L101.5 807.1 L91.4 805.2 L83.9 803.9 L77.6 800.1 L62 793.9 L62 786.9 L62 779.4ZM122 722 L137.7 728.4 L153.5 736.5 L169.2 746.7 L176.5 753.4 L175.2 756.8 L166.7 754.5 L151 746.3 L135.5 738 L120.4 729.5 L113.1 723.6 L113.8 720.5ZM114.7 744.8 L128.6 751.1 L139.9 758 L148.7 765.5 L152.5 770.4 L151.2 772.5 L146.2 772.8 L137.4 771.3 L126.7 766.1 L114.1 757.3 L107.8 750.1 L107.8 744.4ZM233.1 764.9 L242 758.5 L250.2 751.6 L257.7 744.1 L264 735.9 L269.1 727.1 L275.4 724.6 L282.9 728.3 L291.7 734 L301.8 741.6 L312.6 744.8 L324.2 743.4 L330 746.6 L330 754.1 L325.5 764.8 L316.4 778.8 L310.6 790.7 L308.1 800.8 L304.9 808.9 L301.2 815.2 L298.7 822.8 L297.4 831.7 L298.1 840.5 L300.6 849.3 L299.9 856.9 L296.1 863.1 L290.4 865 L282.9 862.5 L270.9 858.7 L254.6 853.7 L243.2 849.3 L237 845.5 L232.5 824.7 L230 786.9ZM448 56 L456.1 56 L461.5 68.1 L464.3 73.6 L463.6 78.3 L459.5 82.4 L455.5 82.4 L451.4 78.3 L448 73.6 L445.3 68.1ZM402.6 66.8 L406.6 66.8 L408 67.8 L406.7 69.9 L404.8 70.8 L402.3 70.4 L401 69.4 L400.6 67.7ZM462 70.9 L460.9 74.4 L458.3 76.8 L455 76.4 L454 72.4 L452.9 68.8 L455 56 L458.4 56 L461.2 67ZM466.4 79 L465.9 81.5 L463.7 83.6 L460.4 83.3 L458.4 80.6 L458.8 77.5 L460.9 75.5 L463.7 74.4 L466.6 75.9ZM470.9 85.8 L470.7 88.9 L467.8 90 L464.7 89.7 L463.5 87 L462.7 84.2 L464.7 81.9 L467.6 82.1 L471 82.4ZM474.2 96.6 L474.2 100.6 L471.6 101.6 L469.6 100.5 L467.3 98.7 L467.2 94.5 L469.3 91.9 L471.8 90.6 L474.2 92.6ZM486.2 103.4 L485.7 105.5 L483.9 107.1 L481.3 106.9 L480.5 104.4 L479.4 102 L481.7 100.7 L483.9 99.7 L485.4 101.6ZM486.8 112.9 L486.2 115.3 L483.9 116.4 L481.2 116.5 L479.4 114.3 L479.9 111.7 L480.8 108.6 L484.1 108.3 L487.2 109.6ZM482.7 121 L482.1 123.5 L479.7 123.9 L477.3 124.3 L476.1 122.2 L475.8 119.8 L477.8 118.6 L479.8 117.6 L481.3 119.3ZM489.3 125.1 L488.1 128 L485.3 128.9 L482.2 129.4 L481 126.4 L479.9 123.4 L482.8 121.9 L485.5 120.4 L487.6 122.6ZM493.9 127.8 L492.7 130 L490.7 131.2 L488.3 130.8 L487.5 128.7 L487 126.7 L488.3 124.7 L490.6 124.8 L492.5 125.8ZM495.4 141.4 L494.4 143.9 L492.1 145.3 L489.2 145.3 L487.5 142.8 L487.1 139.8 L489.2 137.5 L492 138.2 L494.8 138.5ZM470.6 138.7 L470 140.1 L468.7 140.6 L467.3 140.6 L466.4 139.4 L466.4 138 L467.2 136.6 L468.7 136.9 L469.9 137.3ZM477.6 141.4 L476.7 142.7 L475.5 143.6 L474 143.4 L472.8 142.2 L472.8 140.5 L474.3 139.9 L475.5 139.4 L476.5 140.2ZM486.2 168.5 L485.4 172.2 L482.6 173.5 L479.8 173 L478.1 170.2 L477.4 166.5 L479.4 163.1 L482.7 163.1 L485.3 165ZM487.2 182.1 L486.3 183.4 L485.1 184.5 L483.7 183.7 L482.7 182.8 L482.7 181.4 L483.7 180.5 L485 180.1 L486.2 180.7ZM455.8 85.8 L455 87.1 L453.9 88.2 L452 88.2 L451.6 86.4 L451.1 84.9 L452.2 83.6 L453.9 83.2 L455.6 84ZM478.2 72.2 L477.8 73.3 L476.8 74 L475.7 73.6 L474.7 72.9 L475.1 71.7 L475.8 71 L476.8 70.6 L477.7 71.2ZM499.1 99.3 L497.7 102.7 L493.9 104.6 L489.8 103.5 L486.8 101.1 L487.5 97.8 L490.2 95.7 L493.8 94.8 L497.3 96.2ZM491 92.6 L489.6 94.5 L487.9 95.6 L485.9 95.1 L484.6 93.6 L484.3 91.4 L485.9 90 L488 88.8 L490.1 90.2ZM498.1 108.8 L497.8 110.8 L495.9 111.3 L493.9 111.5 L492.6 109.9 L493.4 108.1 L494.1 106.4 L496 105.8 L497.2 107.4ZM493.3 111.5 L491.8 113 L490.5 114.2 L488.9 113.6 L487.4 112.5 L487.7 110.7 L488.6 109 L490.6 108.5 L492.5 109.5ZM479.8 130.5 L479.3 132.7 L478.2 133.5 L476.9 133.4 L475.8 131.8 L476 129.4 L476.8 127.3 L478.2 126.9 L479.4 128.2ZM472.5 127.8 L472.2 128.8 L471.3 129.3 L470.4 129 L469.5 128.4 L469.8 127.4 L470.4 126.7 L471.4 126 L472.5 126.6ZM840.7 219.6 L840.4 220.4 L839.7 221 L838.7 220.9 L838.3 220 L838.2 219.2 L838.8 218.6 L839.6 218.4 L840.4 218.8ZM863.8 389.6 L867.3 387.9 L869.9 389.6 L871.6 394.8 L874.2 400 L877.8 405.3 L879.9 412.2 L880.8 421 L879 427.1 L874.7 430.6 L873 435.8 L873.8 442.8 L872.1 448 L867.7 451.5 L864.6 454.9 L863 458.4 L859.5 460.6 L854.2 461.6 L849.9 463.3 L846.4 465.9 L843.7 469.8 L842 475 L840.2 476.8 L838.5 475 L838.1 471.1 L838.9 465.1 L837.2 464.2 L832.9 468.5 L829 472 L825.5 474.6 L823.3 474.1 L822.4 470.6 L819.8 469.3 L815.4 470.2 L812.3 471.6 L810.6 473.3 L810.2 471.6 L811 466.3 L813.2 461.5 L816.8 457.2 L820.7 452.4 L825 447.1 L829 441.4 L832.5 435.4 L835.9 429.2 L839.4 423.2 L842.9 417.5 L846.4 412.2 L849.9 407 L853.4 401.8 L856.9 397 L860.4 392.7ZM879 380 L885.2 380 L887.8 381.8 L886.9 385.2 L883.9 387.9 L878.6 389.6 L874.2 389.6 L870.8 387.9 L870.8 385.2 L874.2 381.8ZM884.8 398.7 L888.2 401.4 L890.9 405.8 L892.5 411.8 L892.1 415.3 L889.5 416.2 L887.3 414.4 L885.6 410.1 L884.3 405.3 L883.4 400ZM847.1 504.7 L846.9 505.1 L846.5 505.4 L846 505.3 L845.7 504.9 L845.6 504.4 L845.8 503.8 L846.5 504 L847.1 504ZM795.9 515.1 L795.7 515.8 L795.1 516.1 L794.5 515.9 L794.1 515.5 L794 514.8 L794.5 514.4 L795.1 514.3 L795.5 514.6ZM841.1 548.3 L840.9 548.8 L840.4 549 L839.8 549 L839.4 548.6 L839.5 548 L839.9 547.6 L840.4 547.2 L840.9 547.7ZM828.7 534.3 L828.5 534.7 L828.2 535.1 L827.7 534.9 L827.3 534.6 L827.5 534.1 L827.7 533.7 L828.2 533.7 L828.5 534ZM819.1 250.5 L811.7 252 L803.5 250.4 L794.5 245.5 L790.4 237.7 L794 232.3 L802.8 232.7 L811.8 236.5 L818.3 243.4ZM799.9 254.2 L797.8 256.3 L794.2 257.6 L790.4 256.8 L787.4 255.3 L787.8 253.1 L790.1 251.3 L794 251.6 L798.3 251.8ZM822.8 278.1 L817.2 281.4 L807.6 281.1 L801.1 273.1 L797.3 266.6 L800 261.8 L807.5 261.5 L816.9 264.3 L824.6 271.8ZM805.7 261.2 L803.6 263.1 L800.1 264.5 L796.6 263.2 L793.8 262.1 L793.9 260.2 L795.9 258.5 L800 258.3 L803.2 259.4ZM817.5 203.9 L817.5 205.8 L814.2 206.2 L811.1 206.2 L808.8 204.9 L809.2 203 L810.9 201.4 L814.4 201 L817.6 201.9ZM405.3 920.6 L409.5 918.1 L416 915.6 L424.8 913.1 L432.8 910.7 L440.3 908.2 L447.1 906.1 L453.3 904.2 L456.1 904.2 L455.5 906.1 L451.2 908.9 L443.1 912.5 L435.4 915.6 L427.9 918.1 L420.5 920.9 L413 924.1 L407.8 925.9 L404.7 926.5 L403.1 925.6 L403.1 923.1ZM330.1 821.2 L342.9 820.1 L349.3 820.4 L349.3 822 L344 823 L333.2 823.5 L326.8 823.3 L324.8 822.2Z"/>
<path fill="#e6e6e6" fill-rule="nonzero" d="M623 225.8 L627.3 226.1 L630.2 229.9 L628.9 234.6 L624.7 234.3 L621.8 230.5ZM652.6 249.3 L657 250.6 L660.8 255.7 L660.5 261.1 L656.1 259.8 L652.3 254.7ZM655.7 259.6 L661.5 259.4 L670.5 262.9 L675.5 267.7 L669.6 267.9 L660.6 264.4ZM600.4 263.8 L604.2 264.7 L606.9 268.7 L605.8 273 L602 272.1 L599.4 268.1ZM662.3 225.7 L667.9 224.6 L676.3 227.3 L680.7 232.4 L675.1 233.5 L666.7 230.8ZM654.2 210.6 L657.3 216.2 L657.8 226.3 L654.9 233.2 L651.8 227.6 L651.3 217.5ZM585.4 233.2 L590.6 232.6 L598.1 235.7 L601.7 240.7 L596.5 241.3 L589.1 238.2ZM613.9 215.3 L618.1 218.4 L622.1 225.8 L622.3 232 L618.2 228.8 L614.1 221.4ZM634.2 239.9 L636.9 240.2 L639.6 242.8 L639.9 246 L637.2 245.7 L634.5 243.1ZM658.7 235.5 L662 240 L663.8 248.8 L662 255.1 L658.6 250.7 L656.9 241.9ZM648.1 236.1 L651 235.1 L655.5 236 L658.1 238.4 L655.2 239.4 L650.7 238.6ZM649.8 211.8 L654.4 216 L658.1 225.3 L657.4 232.6 L652.9 228.4 L649.2 219.1ZM639.1 239.5 L645.5 239.1 L654.1 243.6 L657.9 250.1 L651.6 250.4 L642.9 245.9ZM625 262.4 L629.9 264.2 L636 270.2 L638.1 276 L633.2 274.2 L627.1 268.3ZM679.2 230.7 L683.1 229.8 L687.6 232.3 L688.8 236.7 L684.9 237.7 L680.4 235.2ZM675.2 226.3 L678.4 231.6 L680.2 241.7 L678.9 248.8 L675.7 243.6 L673.9 233.5ZM657 267.9 L660.2 266.7 L665.3 267.6 L668.2 270.3 L665 271.5 L659.9 270.6ZM603.6 260.3 L606.5 261 L609 264.3 L608.7 267.7 L605.8 267 L603.4 263.8ZM598.2 235.9 L601.8 234.2 L606.9 235.7 L609.1 239.8 L605.4 241.5 L600.4 240ZM657.6 247.3 L661.6 250.7 L663 257.8 L660 263.1 L656 259.6 L654.6 252.6ZM642.3 277.3 L646.7 280.2 L650.8 287.3 L650.9 293.4 L646.5 290.6 L642.4 283.5ZM599.3 260.8 L603.8 263.8 L609.8 270.8 L612.3 276.7 L607.8 273.8 L601.8 266.7ZM645.9 230.2 L649.9 234.5 L651.3 242.9 L648.4 249 L644.5 244.7 L643 236.3ZM616.2 213.6 L620.1 218.2 L622.7 227.6 L621.3 234.6 L617.4 230 L614.8 220.6ZM671.8 225.6 L675 229.2 L677.4 236.7 L676.7 242.3 L673.4 238.7 L671 231.3ZM649.7 227 L654.5 226.6 L660.9 229.8 L663.7 234.7 L658.9 235.1 L652.5 231.9ZM606 244.5 L608.6 246.6 L609.2 250.7 L606.7 253.7 L604.1 251.6 L603.5 247.5ZM666.8 258.8 L669.8 262.8 L672.9 271 L673.1 277 L670.1 273 L667.1 264.8ZM601.6 272 L605.5 271.2 L611 273.4 L613.6 277.3 L609.7 278 L604.2 275.8ZM663.9 225.4 L670 225.1 L679.2 228.6 L684.3 233.6 L678.3 233.9 L669 230.5ZM649.5 251.3 L653 249.7 L656.3 251.4 L656.7 255.7 L653.2 257.3 L649.8 255.6ZM657.2 237.6 L660.8 238.5 L663.8 242.5 L663.2 246.8 L659.6 245.9 L656.7 241.9ZM648.8 246.7 L653.9 245.8 L661 248.8 L664.2 253.9 L659.1 254.8 L652 251.8ZM604.1 240.1 L608.2 244.4 L610.3 253.1 L608.2 259.7 L604.1 255.4 L602 246.7ZM627 266.4 L630 264.8 L634.2 265.8 L636.4 269 L633.4 270.5 L629.2 269.6ZM647.9 268.7 L652.1 266.7 L658.2 268.2 L661.2 272.7 L657 274.7 L650.9 273.1ZM614.9 235.3 L620.6 235.7 L629.8 239.3 L635 243.7 L629.3 243.3 L620.1 239.7ZM613.6 279.6 L617.9 278.1 L623.3 280.4 L625.4 285.2 L621.1 286.6 L615.6 284.4ZM674.6 254.8 L678.2 260.2 L679.1 270.3 L675.7 277.1 L672.1 271.7 L671.3 261.7ZM606.1 274.2 L611.7 274.2 L620.3 277.7 L624.9 282.3 L619.4 282.3 L610.8 278.8ZM671.8 242.8 L677 243.7 L682.2 249.1 L682.7 255.1 L677.5 254.2 L672.4 248.9ZM609.8 258 L613.4 260.9 L616.7 267.6 L616.7 273 L613.1 270.1 L609.9 263.5ZM671.2 223.1 L676.8 225.4 L682.9 232.6 L684.2 239.6 L678.6 237.4 L672.5 230.1ZM606.1 257.8 L608.7 260.4 L610.1 265.9 L608.7 270 L606.1 267.4 L604.8 261.9ZM606.2 213.4 L612.6 213.6 L620.8 218.7 L623.9 225.6 L617.5 225.4 L609.3 220.2ZM84.1 784.1 L94 784.9 L110.1 790.7 L119.7 797.6 L109.8 796.8 L93.7 791ZM137.4 782.4 L152.5 786.1 L178.2 796.3 L194.2 805.8 L179.1 802.1 L153.5 791.9ZM62 787.1 L84 790.7 L103.2 801 L114.4 810.6 L102.5 807.1 L83.4 796.7ZM139.8 753.1 L155.8 759.1 L183 773.3 L199.9 785 L183.8 778.9 L156.7 764.7ZM152.4 798.4 L166.2 804.3 L189.5 817.5 L204.1 828.1 L190.3 822.2 L166.9 809ZM108 778.1 L118.4 778.6 L135.5 784.3 L145.8 791.3 L135.4 790.8 L118.3 785.1ZM170.6 786.5 L180.3 788.5 L196.5 795.2 L206.3 801.9 L196.6 799.9 L180.4 793.2ZM142.8 793.6 L162 799.6 L194.5 814.9 L214.7 828.2 L195.4 822.2 L162.9 806.8ZM109.4 775.8 L126.4 781.5 L154.6 796.2 L171.9 809 L154.9 803.2 L126.7 788.6ZM98.2 749.2 L112.6 753.2 L137 764.1 L152 774 L137.6 769.9 L113.2 759ZM151.3 759.6 L167.7 763.2 L195.8 773.5 L213.5 782.9 L197.1 779.3 L169 769.1ZM103.7 780.8 L118.6 784.3 L143.1 795.2 L158.1 805.7 L143.2 802.1 L118.7 791.2ZM864.7 403.1 L869.9 404 L873.8 408.3 L876.5 416.2 L876.5 420.5 L873.8 421.4 L871.6 420.1 L869.9 416.6 L867.3 411.8 L863.8 405.8ZM838.5 436.2 L840.2 433.6 L841.6 434.9 L842.4 440.2 L842 444.5 L840.3 448 L838.9 446.6 L838.1 440.6ZM856 417.5 L857.7 415.8 L859.5 417.5 L861.2 422.7 L861.2 426.6 L859.5 429.3 L857.7 427.6 L856 421.4Z"/>
<path fill="#2e9ff8" fill-rule="nonzero" d="M530.6 345.8 L532.3 344.1 L534.2 342.7 L536.4 341.5 L538.8 340.6 L541.5 339.9 L543.6 339 L545.1 337.8 L546 336.4 L546.3 334.7 L548 333.4 L551 332.4 L555.3 331.7 L561 331.4 L566.4 331.4 L571.6 331.7 L576.5 332.4 L581.2 333.4 L585.3 333.9 L588.6 333.9 L591.3 333.4 L593.3 332.4 L595.8 331.7 L598.8 331.4 L602.3 331.4 L606.3 331.7 L609.8 332.3 L612.8 333.1 L615.3 334.2 L617.4 335.6 L619.9 336.7 L622.9 337.5 L626.4 338.1 L630.4 338.4 L634.1 338.2 L637.4 337.6 L640.4 336.4 L643.1 334.7 L645.3 332.9 L646.9 330.9 L648.1 328.7 L648.8 326.4 L650.3 324.3 L652.6 322.5 L655.8 320.9 L659.8 319.5 L664.1 318.4 L668.8 317.6 L673.8 317 L679.2 316.7 L683.9 316.5 L687.9 316.5 L691.2 316.7 L693.9 317 L696.2 316.8 L698.2 316.2 L699.9 315 L701.3 313.3 L703 311.6 L705 310 L707.3 308.3 L710 306.6 L713 305.4 L716.3 304.8 L720 304.6 L724 305 L728.2 305.3 L732.5 305.7 L737 306 L741.7 306.3 L747.2 306.4 L753.4 306.2 L760.4 305.8 L768.3 305.1 L774.1 308.8 L778 316.8 L780 329.2 L780 345.9 L778.4 358.5 L775.1 367.1 L770.3 371.5 L763.8 371.8 L757.3 372 L750.7 372 L744.1 371.8 L737.3 371.5 L731.2 371.4 L725.5 371.6 L720.3 372 L715.6 372.7 L710.8 373.4 L705.8 374.3 L700.6 375.2 L695.2 376.2 L690.2 377.1 L685.5 378 L681.2 378.7 L677.2 379.4 L672.9 379.8 L668.2 380 L663.2 379.9 L657.8 379.5 L652.8 379.4 L648.1 379.6 L643.8 380 L639.7 380.7 L635.7 381.2 L631.7 381.5 L627.7 381.7 L623.7 381.7 L619.7 381.9 L615.7 382.4 L611.7 383.2 L607.6 384.2 L603.8 384.9 L600.1 385.2 L596.6 385.2 L593.3 384.9 L590.1 384.5 L587.1 384 L584.3 383.4 L581.6 382.7 L579.4 381.8 L577.8 380.6 L576.6 379.2 L575.9 377.5 L574.7 376.1 L573.1 374.9 L570.9 374 L568.2 373.3 L565.4 372.3 L562.4 371 L559.2 369.3 L555.8 367.3 L553 365.4 L550.6 363.5 L548.8 361.8 L547.5 360.1 L545.7 358.6 L543.3 357.3 L540.5 356.1 L537.1 355.1 L534.4 354 L532.2 352.9 L530.6 351.6 L529.6 350.3 L529.3 348.9 L529.6 347.4ZM707.5 302.4 L712.6 303.9 L717.6 304.9 L722.6 305.5 L727.6 305.7 L732.6 305.5 L737.4 305.2 L741.9 305 L746.1 304.7 L750.2 304.5 L754.1 304 L757.8 303.2 L761.5 302.2 L765 301 L768.6 300 L772.3 299.2 L776.2 298.7 L780.2 298.5 L783.5 298.5 L786 298.9 L787.7 299.6 L788.8 300.6 L789.1 301.6 L788.9 302.6 L788 303.6 L786.5 304.6 L784.8 305.6 L783.1 306.6 L781.2 307.6 L779.2 308.6 L778 309.5 L777.5 310.4 L777.7 311.2 L778.7 312 L780.5 312.4 L783 312.4 L786.2 312 L790.3 311.2 L794.3 310.4 L798.3 309.5 L802.3 308.6 L806.3 307.6 L809.8 307 L812.8 306.7 L815.3 306.9 L817.3 307.4 L819.8 307.5 L822.8 307.4 L826.3 307 L830.4 306.2 L834.1 305.6 L837.6 305.1 L840.9 304.7 L843.9 304.5 L846.9 304.3 L849.9 304.2 L852.9 304.1 L855.9 304.1 L858.5 304.4 L860.8 304.9 L862.7 305.6 L864.2 306.6 L865.6 307.8 L866.9 309.2 L868 310.7 L869 312.5 L870.1 314.2 L871.4 316 L872.8 317.7 L874.2 319.5 L875.4 321.2 L876.3 322.8 L876.9 324.4 L877.1 325.9 L876.9 327.3 L876.1 328.7 L874.9 330 L873.1 331.2 L871.2 332.5 L869 333.7 L866.7 335 L864.2 336.3 L861.5 337.5 L858.8 338.6 L855.9 339.7 L852.9 340.7 L849.9 341.7 L846.9 342.7 L843.9 343.7 L840.9 344.7 L837.9 345.5 L834.9 346.1 L831.9 346.6 L828.8 346.8 L825.7 347.2 L822.4 347.7 L819 348.3 L815.5 349.1 L812.3 350 L809.3 351.1 L806.5 352.4 L804 353.9 L801.7 355.4 L799.4 356.9 L797.3 358.4 L795.3 359.9 L792.8 361.2 L789.8 362.2 L786.3 362.9 L782.2 363.4 L778.2 364 L774.2 364.6 L770.2 365.3 L766.2 366.1 L761.9 366.7 L757.4 367.2 L752.7 367.6 L747.6 367.8 L742.6 368.1 L737.6 368.5 L732.6 369 L727.6 369.5 L722.6 369.8 L717.6 370 L712.6 369.9 L707.5 369.6 L703.8 365.1 L701.3 356.3 L700 343.3 L700 326 L701.3 313.4 L703.8 305.5ZM596.2 239.1 L596.4 241.4 L594.2 242.6 L591.9 242.1 L590 240.4 L590.7 238 L592.2 236.7 L594.2 235.5 L595.7 237.3ZM604.6 228.4 L603.3 230 L601 231 L597.6 231.5 L596.6 229.3 L595.2 227.1 L598.2 226 L601.1 225.2 L603.9 226.3ZM612.7 237 L610.3 238.7 L606.1 237.3 L602.2 235 L601.1 231.8 L603.2 230.3 L605.9 229.6 L609.4 231.4 L612.6 234.1ZM619.4 219 L618.4 221.1 L615.6 221.7 L613.1 221.5 L610.6 220.2 L610.8 217.9 L613.1 216.6 L615.6 216.3 L618 217.1ZM626.4 225.7 L625.9 228.1 L623.7 229.3 L621.5 228.3 L619.7 226.9 L619.3 224.3 L620.8 221.9 L623.6 222.3 L626.4 222.9ZM622.7 243.3 L621 245 L617 243.7 L614 241.3 L612.5 238.7 L613.4 236.6 L616.6 236.8 L619.7 238.6 L622.1 240.8ZM608.7 217.7 L607.9 219.6 L606.2 220.8 L604.5 219.6 L603.6 218.4 L603.4 216.9 L604.4 215.5 L606.2 214.7 L607.8 215.9ZM624.4 203 L624.4 204.1 L622.3 204.6 L620.4 204.1 L618.8 203.5 L618.2 202.3 L620 201.5 L622.2 201.4 L624.6 201.7ZM641 215 L640.9 216.5 L639.4 216.9 L638 216.9 L637 215.7 L636.8 214.2 L638.2 213.5 L639.4 213.3 L640.7 213.7ZM650.1 216.3 L649.3 217.4 L647.6 217.9 L645.9 217.5 L644.6 216.9 L645 215.9 L645.6 214.7 L647.5 215 L649.6 215.1ZM650.7 184.2 L650.3 185.8 L647.8 186.5 L645.3 186 L643 185.1 L643.1 183.4 L645 182.1 L647.7 182.3 L650.4 182.7ZM652.8 176.2 L652.5 177.4 L651.5 178.4 L650.1 178.1 L649.3 176.9 L649 175.5 L649.9 174.2 L651.5 173.8 L653.1 174.6ZM638.9 156.2 L638.7 157 L637.9 157.3 L637 157.5 L636.4 156.6 L636.7 155.8 L637.1 155.1 L638 154.8 L638.8 155.3ZM654.9 237.7 L653.7 238.8 L651.8 239.6 L649.2 239.4 L648.4 238.2 L648.3 237.2 L649.5 236.3 L651.7 236.1 L653.8 236.6ZM684.8 231.1 L683.6 232.5 L682.4 234.1 L680.4 233.7 L679.6 231.9 L679.6 230.2 L680.6 228.9 L682.4 228.2 L684 229.2ZM671 225.7 L670.4 227.3 L668.8 227.4 L667.6 227.3 L666.5 226.4 L666.7 225.1 L667.5 224 L668.9 223.6 L670.1 224.4ZM633 269.8 L630.6 271.5 L627.1 272.9 L622.9 271.8 L619.8 270.7 L620.1 269 L621.9 267.2 L626.8 267.4 L630.1 268.3ZM653.1 267.2 L650.2 269.4 L645.9 271 L640 270.8 L637.9 268.3 L636.7 265.8 L639.8 263.4 L645.6 264.1 L650.9 264.6ZM673.5 268.5 L672.1 270.8 L669.3 272 L665.9 272 L663.8 269.8 L663.9 267.2 L665.8 264.9 L669.4 264.4 L672.2 266.1ZM655.7 275.2 L655.8 276.8 L653.1 277.4 L650.6 277 L649.1 275.9 L648.8 274.4 L650.4 273.1 L653 273.5 L654.8 274.1ZM624.8 276.5 L623.8 278.3 L622.1 279 L620.4 278.8 L618.7 277.6 L619.5 275.7 L620.1 273.8 L622.2 273.8 L623.7 274.8ZM767.4 244.4 L766.4 246.2 L764.1 247.1 L761.8 246.5 L759.6 245.4 L760.4 243.6 L761.9 242.6 L764.2 241.5 L766.7 242.5ZM774.2 255.1 L773.9 256.1 L773.1 256.8 L771.9 256.7 L771.2 255.7 L771.1 254.5 L771.9 253.6 L773.1 253.4 L774 254.1ZM753.4 245.8 L752.9 247 L751.8 248.3 L750.3 247.7 L749.6 246.4 L749.3 245 L750.4 244 L751.8 243.7 L753.3 244.2ZM605 236.4 L604.4 237.2 L602.8 236.5 L601.3 235.7 L600.4 234.4 L601 233.3 L602.6 233.3 L604.4 234 L604.9 235.3ZM618 221.6 L616.9 222.2 L615.3 221.5 L613.9 220.7 L613.5 219.5 L613.9 218.7 L615.2 218.4 L616.7 219.1 L617.7 220.3ZM625.5 227.7 L624.8 228.8 L623.4 229.1 L622.1 229 L620.9 228.3 L621 227.1 L622.1 226.5 L623.5 226.1 L624.6 226.8ZM632.8 216.5 L632 217.3 L630.2 216.7 L628.7 215.8 L628.2 214.4 L628.5 213.3 L630.2 213.4 L631.6 214.2 L632.6 215.3ZM642.9 230.2 L642.1 231.2 L640.9 231.6 L639.7 231.5 L638.4 230.8 L639.1 229.8 L639.7 229 L641 228.7 L642.1 229.3ZM650 205.2 L649.7 206 L648.5 206.6 L647 206.4 L646.3 205.6 L646.3 204.8 L647.1 204.1 L648.4 204.2 L649.9 204.3ZM647.6 190.2 L647.1 191.1 L646 191.8 L644.7 191.3 L644 190.6 L643.5 189.6 L644.8 189.1 L646 188.5 L646.9 189.4ZM654.9 175.2 L654.8 176.2 L653.5 176.8 L652.2 176.3 L651.2 175.7 L651.1 174.6 L652.2 174 L653.4 174 L654.5 174.3ZM639.6 157.7 L639.3 158.3 L638.4 158.6 L637.3 158.6 L636.8 158 L636.6 157.3 L637.3 156.7 L638.4 156.8 L639.3 157ZM633.7 271.4 L632.4 272 L630.6 271.8 L628.7 271 L627.3 269.7 L628.5 269 L629.7 268.6 L631.6 269.1 L633.4 270.1ZM643.6 262.8 L642.2 263.6 L641 264.2 L639.3 264.2 L638.1 263.3 L637.9 262.2 L639.5 261.6 L641.1 261.1 L642.8 261.7ZM656.3 273.9 L654.7 274.2 L653.1 274.5 L651.5 273.4 L650.2 272.3 L650.5 271.3 L652.1 270.9 L654.1 271.6 L655.3 272.7ZM668.6 260.3 L667.5 261.2 L666 261.6 L664.3 261.7 L663.5 260.7 L663 259.7 L664.3 258.9 L666.1 258.7 L667.6 259.3ZM675.3 270.3 L674.7 271.3 L673.5 271.7 L672.1 271.6 L671.3 270.8 L671.3 269.8 L672.3 269.1 L673.5 268.8 L674.8 269.3ZM635.4 280.3 L634.7 281.1 L633.5 281.8 L631.6 281.8 L630.3 280.9 L631.1 279.8 L631.9 279 L633.6 278.7 L634.8 279.4ZM650.6 280.3 L649.9 281.2 L648.5 281.5 L647.1 281.3 L645.7 280.8 L645.4 279.7 L647 279.1 L648.5 278.9 L650.1 279.3ZM685.4 235.2 L684.6 236.2 L683.6 236.9 L682 236.7 L681.2 235.8 L681.4 234.8 L682.3 234.1 L683.5 233.6 L684.5 234.4ZM690.3 250.3 L689.8 251.3 L688.6 252 L687 251.7 L686.2 250.8 L686.3 249.7 L687.3 249.1 L688.6 248.5 L689.9 249.2ZM765.2 245.2 L765.1 246.4 L763.6 246.8 L762.1 246.7 L761.3 245.8 L761.1 244.7 L762.1 243.7 L763.6 243.5 L764.7 244.3ZM734.9 260.3 L734.7 261.2 L733.5 261.6 L732.3 261.5 L731.4 260.8 L731.2 259.7 L732.2 259 L733.6 258.7 L734.5 259.4ZM624.3 200.2 L624.3 200.9 L623.4 201.3 L622.2 201.2 L621.8 200.5 L621.8 199.9 L622.5 199.5 L623.4 199.2 L624.1 199.6ZM662.7 220.2 L662.4 221.4 L661 221.6 L659.7 221.5 L658.9 220.7 L658.4 219.6 L659.8 219.1 L660.9 219 L662 219.4ZM674.7 235.2 L674.2 235.8 L673.4 236.4 L672.3 236.3 L671.6 235.6 L671.8 234.9 L672.3 234.2 L673.4 234.3 L674.4 234.5ZM697.3 215.2 L696.9 215.9 L695.9 216.2 L695 216 L694.4 215.5 L694.3 214.9 L694.9 214.3 L695.9 214.4 L696.8 214.6ZM615.1 250.3 L614.5 251.1 L613.5 252 L611.9 251.8 L611.3 250.7 L611 249.7 L612.3 249.2 L613.4 249 L614.9 249.1ZM660.3 250.3 L659.6 251.1 L658.5 251.7 L657.3 251.4 L655.9 250.9 L656.1 249.7 L657 248.8 L658.5 248.5 L659.5 249.4ZM750.6 235.2 L750.4 236.3 L748.6 236.6 L746.9 236.6 L746.1 235.7 L745.5 234.6 L747.1 234.1 L748.6 233.9 L750 234.3ZM840 220.2 L840.1 221.4 L838.7 221.9 L837.3 221.5 L836.6 220.7 L836.4 219.7 L837.5 219.1 L838.7 218.7 L840 219.2ZM709 307.8 L704.3 310.5 L691.2 311.2 L676.5 311.9 L669 309.2 L672.1 306.6 L679.7 304.9 L691.4 304.1 L705.9 304.8ZM764.4 305.3 L759.5 307.7 L746.7 308.8 L732.8 308.5 L721.2 306.7 L727.8 304.3 L733.1 302.2 L746.2 302.4 L757.6 303.2ZM798.3 302.8 L794.9 304.8 L786.4 306.3 L777 305 L767.7 303.9 L769.3 301.8 L777.1 300.7 L785.5 300.2 L796.3 300.6ZM810.2 530 L813.9 530.8 L817.6 534 L821.2 539.5 L826.8 543.7 L834.1 546.5 L840.6 549.7 L846.1 553.4 L851.6 557.1 L857.1 560.8 L863.1 563.5 L869.6 565.4 L875.1 568.1 L879.7 571.8 L884.3 575.9 L888.9 580.5 L892.1 586 L894 592.5 L896 599.4 L908 606.8 L908 630.4 L908 670.1 L889.6 690 L869.8 690 L857.1 686.7 L851.6 680 L847 673 L843.4 665.7 L844.2 661.1 L849.8 659.2 L851.6 656 L849.8 651.4 L846.1 646.8 L840.6 642.2 L836.4 638.8 L833.7 636.4 L836.4 634.6 L844.8 633.2 L846.6 630.7 L842 627 L835.6 623.4 L827.2 619.6 L820.8 616.4 L816.2 613.7 L812.5 610.9 L809.8 608.2 L805.6 605.9 L800.1 604 L793.6 601.2 L786.3 597.6 L779.8 593 L774.3 587.5 L770.6 583.3 L768.8 580.6 L771.1 580.1 L777.6 581.9 L784.9 583.7 L793.2 585.6 L801 587.4 L808.3 589.3 L813.9 589.3 L817.5 587.4 L818.5 584.2 L816.6 579.6 L814.3 573.2 L811.6 564.9 L809.8 559.4 L808.8 556.6 L806.5 552.9 L802.9 548.3 L800.1 543.7 L798.2 539.1 L798.7 536.3 L801.4 535.5 L804.2 536.8 L807 540.5 L808.4 539.1 L808.4 532.7ZM852.6 640 L883.4 640 L908 669 L908 727.2 L895.7 753.8 L889.3 749 L882.9 743.4 L876.5 737 L871.2 730.6 L866.9 724.2 L862.1 716.8 L856.8 708.2 L853.1 700.8 L850.9 694.4 L847.2 687.5 L841.9 680 L840.3 672.5 L842.4 665 L845.6 659.7 L849.9 656.5 L848.3 651.2 L840.8 643.7ZM62 568.8 L84.6 572.6 L103 580 L121.8 588.4 L146 601 L158 604.8 L169.8 608.8 L181.4 612.9 L193 617 L203.3 621.4 L214.9 624.9 L226.5 628.4 L238 630.7 L249.8 633 L261.4 633.6 L272 629.5 L272 712 L259 710 L254.4 706.3 L245 698 L238 692.3 L226.5 683 L214.9 671.4 L209 665.6 L197.4 657 L191.6 646 L181.4 637 L169.8 629 L158 623 L146.5 619 L121.8 613.5 L112.5 610.7 L103 607 L89.3 601.4 L80 599.5 L62 599.5ZM103.5 639 L117.4 643.7 L134.9 649.5 L152.3 654.2 L164 656.5 L163.4 657.7 L151.2 655.6 L133.7 651.3 L116.3 645.5 L103.5 640.8ZM146.5 660 L164 663.5 L181.4 669.3 L200 674 L200 675.7 L180.2 671 L162.8 665.2 L146.5 661.4ZM180 678.4 L191.6 681.9 L203.3 686.5 L214.9 691.2 L226.5 695.8 L240.5 699.3 L252 706 L250 710 L238 703 L226.5 700 L214.9 696 L203.3 691 L191.6 686.5 L180 683ZM62 607 L84.6 609.8 L105 615.8 L104 617.2 L84.6 613.5 L62 609.8ZM287.1 628.4 L293.5 628.7 L299.8 630.1 L306 632.6 L311.4 635.5 L315.8 638.6 L319.4 642.4 L322.2 646.8 L324.6 651.5 L326.4 656.6 L328.2 662.2 L329.8 668.6 L331.4 674.5 L332.9 680.2 L334.2 686.1 L335.1 692.5 L336.2 698.8 L337.5 705.1 L338.4 711 L339.1 716.7 L338.4 721.7 L336.6 726.2 L333.1 729.9 L328 733.1 L322.1 735.6 L315.1 737.4 L307 739 L297.5 740.3 L288.1 741.2 L278.6 741.9 L269.2 738.1 L259.7 729.9 L255 701.1 L255 651.7 L258.8 627.1 L266.3 627.2 L273.6 627.5 L280.5 628ZM117.9 721.4 L145.6 735.3 L175.8 754.2 L173.3 756.7 L143.1 740.3 L116.6 723.9ZM107.8 745.4 L135.5 757.9 L150.6 770.5 L135.5 768 L110.3 750.4ZM127.9 759.2 L153.1 766.8 L170.8 778.1 L165.7 780.6 L145.6 775.6 L130.5 765.5ZM170.8 756.7 L201 768 L231.2 775.6 L233.8 805.8 L211.1 790.7 L188.4 775.6 L170.8 763ZM110.3 765.5 L130.5 773.1 L127.9 778.1 L111.6 770.5ZM62 775.6 L80.1 780.6 L77.6 785.7 L62 783.1ZM90.2 785.7 L107.8 786.9 L135.5 794.5 L153.1 800.8 L155.7 807.1 L135.5 805.8 L110.3 800.8 L92.7 795.7ZM153.1 785.7 L175.8 790.7 L196 800.8 L190.9 803.3 L170.8 795.7 L153.1 789.4ZM170.8 810.9 L190.9 813.4 L211.1 820.9 L231.2 828.5 L233.8 836.1 L211.1 831 L188.4 820.9ZM80.1 798.3 L87.6 800.8 L85.1 803.3 L80.1 802ZM211.1 798.3 L231.2 808.3 L233.8 818.4 L216.1 810.9ZM238.2 769.2 L247 766.8 L256.5 763 L266.6 757.9 L276 759.8 L284.8 768.7 L293.6 775.6 L302.4 780.6 L305.6 787.5 L303.1 796.4 L299.9 803.9 L296.1 810.2 L293.6 817.8 L292.3 826.6 L293 836 L295.5 846.2 L295.5 853.7 L293 858.7 L288.5 860 L282.2 857.5 L270.9 853.7 L254.6 848.6 L243.9 844.9 L238.8 842.4 L235.7 823.5 L234.4 788.1ZM246.4 703.8 L246.4 701.2 L267.3 700 L309.1 700 L330 708.8 L330 726.5 L328 735.9 L324 737.2 L318.2 740.9 L310.6 747.2 L304.3 751.6 L299.3 754.1 L292.4 752.9 L283.5 747.9 L277.2 741.6 L273.5 734 L269.1 726.4 L264 718.9 L257.7 712.6 L250.2 707.5ZM139.9 775.6 L153.2 781.2 L176 793.6 L190.3 803.6 L176.9 798 L154.1 785.5ZM108 763 L116.7 763.8 L131.2 768.4 L140.2 773.7 L131.5 772.8 L117 768.2ZM77.7 762.7 L89.7 767.3 L110.1 778 L122.7 786.9 L110.7 782.3 L90.4 771.5ZM161.7 805.9 L175.5 810.6 L199 821.8 L213.7 831.3 L199.9 826.6 L176.4 815.4ZM173.8 788.5 L180.4 789.5 L191 794.1 L197.2 799.1 L190.6 798.1 L180 793.5ZM62 794.3 L82.9 797.7 L104.7 806.8 L118.3 814.9 L105.5 811.6 L83.7 802.5ZM137.7 786.4 L147.2 788.4 L163.5 794 L173.8 799.2 L164.4 797.2 L148.1 791.5ZM129.3 768.3 L139.6 771.2 L156.9 778.9 L167.7 785.9 L157.4 783 L140.1 775.2ZM156.1 804.4 L162.9 805.3 L173.4 810.6 L179 816.7 L172.1 815.7 L161.7 810.4ZM150.3 777 L164.6 780.1 L189.1 789.2 L204.5 797.7 L190.2 794.6 L165.7 785.5ZM137.2 805 L149.5 808 L170.2 817.1 L182.8 825.7 L170.4 822.7 L149.8 813.6ZM137.1 750.3 L148.1 754.5 L166.8 763.8 L178.7 771.2 L167.8 767.1 L149 757.8ZM177.8 777 L183.4 778.3 L192.8 782.4 L198.6 786.3 L193 784.9 L183.6 780.8ZM128.4 781.4 L139.6 784.9 L159 793.2 L171.3 800.1 L160.1 796.5 L140.7 788.2ZM62 782.6 L62 787.2 L85.9 797.4 L99.3 805.5 L87.1 800.9 L62 790.7ZM187.7 771.6 L194.6 773.7 L205.9 779.6 L212.7 784.9 L205.8 782.8 L194.5 776.9ZM460.3 70.9 L459.6 73.3 L458 75 L455.9 74.7 L455.3 72 L454.6 69.4 L455.9 67 L458 66.7 L459.8 68.1ZM465.1 79 L464.8 80.5 L463.4 81.8 L461.4 81.7 L460.1 80 L460.3 78 L461.7 76.8 L463.4 76.1 L465.2 77.1ZM469.4 85.8 L469.3 87.7 L467.5 88.4 L465.6 88.2 L464.8 86.6 L464.3 84.8 L465.6 83.3 L467.4 83.5 L469.5 83.7ZM473 96.6 L473 99.4 L471.4 100.1 L470.2 99.4 L468.7 98.1 L468.7 95.1 L470 93.3 L471.5 92.4 L473 93.8ZM485.1 103.4 L484.8 104.7 L483.7 105.7 L482 105.6 L481.6 104 L480.9 102.5 L482.3 101.7 L483.7 101.1 L484.6 102.3ZM485.5 112.9 L485.1 114.4 L483.7 115.1 L482 115.2 L480.9 113.8 L481.1 112.1 L481.7 110.2 L483.8 110 L485.7 110.8ZM481.5 121 L481.2 122.7 L479.6 123 L478 123.2 L477.1 121.8 L477 120.2 L478.3 119.4 L479.6 118.8 L480.6 119.9ZM487.6 125.1 L486.8 126.9 L485.1 127.5 L483.1 127.8 L482.4 125.9 L481.7 124 L483.5 123.1 L485.2 122.2 L486.5 123.6ZM492.6 127.8 L491.8 129.3 L490.5 130.1 L488.9 129.8 L488.4 128.4 L488 127.1 L488.9 125.8 L490.4 125.8 L491.7 126.4ZM494.1 141.4 L493.4 143 L491.9 144 L489.9 144 L488.8 142.3 L488.5 140.3 L489.9 138.8 L491.8 139.2 L493.7 139.5ZM469.8 138.7 L469.4 139.5 L468.6 139.9 L467.7 139.9 L467.1 139.1 L467.1 138.2 L467.6 137.4 L468.6 137.6 L469.4 137.8ZM476.6 141.4 L476.1 142.2 L475.4 142.8 L474.4 142.6 L473.7 141.9 L473.7 140.9 L474.6 140.4 L475.4 140.2 L476 140.7ZM484.6 168.5 L484.1 171.1 L482.4 172 L480.6 171.7 L479.6 169.7 L479.1 167.1 L480.4 164.7 L482.4 164.7 L484 166ZM486.3 182.1 L485.6 182.9 L484.9 183.6 L484.1 183.1 L483.5 182.5 L483.4 181.6 L484.1 181.1 L484.9 180.9 L485.6 181.2ZM455 85.8 L454.5 86.6 L453.7 87.4 L452.5 87.4 L452.2 86.2 L451.9 85.2 L452.6 84.3 L453.7 84.1 L454.9 84.6ZM477.6 72.2 L477.4 73 L476.7 73.4 L475.9 73.2 L475.3 72.6 L475.5 71.9 L476.1 71.4 L476.7 71.1 L477.3 71.6ZM496.8 99.3 L495.9 101.6 L493.5 102.8 L490.9 102.1 L489 100.5 L489.4 98.3 L491.1 96.9 L493.4 96.3 L495.7 97.2ZM489.8 92.6 L488.9 93.8 L487.7 94.6 L486.4 94.2 L485.5 93.2 L485.3 91.8 L486.4 90.9 L487.8 90.1 L489.2 91ZM497.1 108.8 L496.9 110 L495.7 110.3 L494.6 110.4 L493.8 109.5 L494.3 108.4 L494.6 107.3 L495.8 107 L496.5 108ZM492 111.5 L491.1 112.4 L490.3 113.1 L489.4 112.8 L488.5 112.1 L488.6 111 L489.2 110 L490.4 109.7 L491.5 110.3ZM829.6 453.7 L828.3 456.6 L826.6 459.1 L825.3 457.4 L824.9 454.6 L825.6 451.3 L826.8 448.1 L828.7 447.3 L829.3 450.5ZM836.5 452.6 L835.7 455.6 L834.4 458 L833.7 455.8 L833 453.9 L834 450.7 L835 448.9 L836.2 447.6 L836.5 449.9ZM847.3 443.7 L845.9 447 L843.4 447.6 L841.9 445.9 L841.1 443.4 L842.1 439.9 L844.6 437.7 L847.2 437.6 L848.6 440.2ZM856 434.6 L854.7 435.1 L852.3 434.9 L850.5 432.5 L849.3 430.1 L851.3 429.8 L853 429.2 L855.2 431.1 L856.6 433.2ZM861.4 438 L860.5 440.1 L859.3 441.1 L858.3 440.8 L858.9 438.2 L859.7 436.1 L860.8 434.3 L861.7 434.3 L861.8 435.9ZM853.1 448.4 L852.2 450.9 L850.9 451.9 L850 451 L849.9 448.8 L850.6 446.5 L851.7 444.9 L852.9 444.1 L853.4 445.9ZM848 455.3 L846.9 457.9 L845.8 459.6 L845.1 458.2 L844.4 456.5 L845.2 453 L846.3 451.2 L847.5 450.1 L848 452.2ZM863.8 417.5 L863.2 418.9 L862.3 419.9 L861.3 419.4 L860.8 418.2 L860.3 416.6 L861.3 415.7 L862.3 415.3 L863.2 416.1ZM866.3 426.2 L865.6 427.5 L864.9 428.6 L863.9 428.3 L863.3 427 L863.4 425.4 L864 424.3 L864.9 423.7 L865.8 424.7ZM842.3 427.1 L842.4 428.1 L841.4 428.7 L840.4 428.4 L839.9 427.5 L839.8 426.6 L840.4 425.8 L841.4 425.7 L842.1 426.3ZM841.9 432.3 L841.3 433.2 L840.5 433.8 L839.6 433.4 L839.1 432.7 L838.9 431.8 L839.6 431.2 L840.5 431.2 L841.2 431.5ZM852.6 410.5 L852.5 411.3 L851.8 411.5 L851 411.5 L850.4 410.9 L850.6 410.1 L851.1 409.7 L851.8 409.5 L852.4 409.9ZM861.4 455.9 L860.7 456.9 L859.8 457.9 L858.5 457.5 L857.5 456.5 L857.8 455.3 L858.6 454.4 L859.7 454.2 L860.6 454.8ZM841.3 474.2 L840.9 474.7 L840.4 475 L839.8 474.9 L839.1 474.6 L839.3 473.8 L839.8 473.4 L840.4 473.1 L841.2 473.4ZM873.4 446.3 L873.3 447 L872.7 447.4 L871.9 447.3 L871.7 446.6 L871.6 445.9 L872.1 445.5 L872.7 445.3 L873.5 445.5ZM864.1 448.9 L863.8 449.6 L863.2 450.4 L862.3 450 L861.5 449.4 L861.6 448.4 L862.2 447.6 L863.2 447.3 L864.2 447.8ZM813.3 246.6 L810.1 249.2 L803.3 248.5 L795.7 243.9 L796.1 238.8 L796.2 234.1 L802.1 232.6 L809.7 237.2 L816.5 242.8ZM820.7 277.5 L814.8 278.8 L807.5 278.1 L801.9 272.6 L795.4 266.2 L798.1 261 L806.6 262 L815.2 265.2 L821.4 271.8ZM797.2 254.2 L796 255.6 L793.8 256.4 L791.5 255.9 L789.7 254.9 L789.9 253.5 L791.3 252.3 L793.6 252.5 L796.2 252.7ZM406.8 922.2 L411.7 920.3 L415.4 919.7 L417.9 920.3 L416.7 921.9 L411.8 924.4 L408.1 925 L405.6 923.7ZM432.2 913.2 L438.4 910.7 L443.4 909.2 L447.1 908.5 L446.5 909.8 L441.6 912.8 L436.6 914.4 L431.6 914.4ZM345.4 821 L343.9 821.9 L341.5 822.3 L338.6 822.1 L336.9 821.5 L336.9 820.6 L338.8 820.1 L341.6 819.6 L344 820.2Z"/>
<path fill="#a6d5fa" fill-rule="nonzero" d="M730.7 324.2 L734.7 323.3 L739.4 322.5 L744.7 321.7 L750.8 321 L757.4 320.4 L763.3 319.9 L768.2 319.7 L772.2 319.7 L775.3 319.9 L777.7 320.5 L779.2 321.4 L780 322.7 L780 324.4 L778.4 325.7 L775.1 326.7 L770.3 327.4 L763.8 327.7 L757.8 328 L752.2 328.4 L747.1 328.7 L742.4 329 L738.2 329 L734.6 328.7 L731.4 328 L728.7 327 L727.7 326 L728.4 325.1ZM713.8 325 L720.3 324.2 L726.6 323.5 L732.6 322.7 L738.4 322 L743.9 321.2 L749.1 320.6 L754.1 320.1 L758.9 319.7 L763.4 319.5 L767.8 319.3 L772.1 319.2 L776.2 319.1 L780.2 319.1 L784.3 319.2 L788.6 319.3 L793 319.5 L797.5 319.7 L800 320.1 L800.5 320.6 L799 321.2 L795.5 322 L791.7 322.8 L787.4 323.7 L782.8 324.6 L777.7 325.6 L772.7 326.4 L767.7 327 L762.7 327.5 L757.6 327.7 L752 328 L745.7 328.2 L738.9 328.5 L731.4 328.7 L724.8 328.9 L719.3 329 L714.8 329.1 L711.3 329.1 L708.5 328.9 L706.5 328.5 L705.2 328 L704.8 327.2 L706 326.5 L709 325.7ZM791.7 311.4 L796.8 310.9 L801 310.6 L804.5 310.6 L807.3 310.9 L809.3 311.4 L809.8 311.9 L808.8 312.5 L806.3 313.2 L802.3 314 L798.5 314.4 L795 314.4 L791.8 314 L788.7 313.2 L787.7 312.5 L788.7 311.9ZM843.3 660.6 L854.4 657.9 L864.5 657.9 L873.7 660.6 L880.1 664.3 L883.9 668.9 L881.1 669.8 L871.9 667.1 L862.7 666.2 L853.5 667 L846.1 666.1 L840.6 663.4ZM869.1 661.6 L877.6 664.3 L885.1 667.7 L891.4 672 L893.6 674.9 L891.4 676.5 L886.1 675.4 L877.6 671.7 L869.6 668.2 L862.1 665 L860 662.6 L863.2 661.1ZM877.1 725 L880.3 724.5 L886.1 726.6 L894.6 731.4 L908 735.4 L908 738.6 L895.7 738.6 L889.3 735.4 L883.5 731.7 L878.1 727.4ZM62 589.3 L83.7 592.1 L84.6 595.8 L62 597.7Z"/>
<path fill="#1c8a9c" fill-rule="nonzero" d="M577.9 348.9 L579.9 347.6 L582.9 346.6 L586.9 345.9 L591.9 345.6 L598 345.6 L603.7 345.8 L609 346.1 L614 346.6 L618.7 347.3 L623 348 L627 348.6 L630.7 349.3 L634.1 349.9 L637.9 350.1 L642.3 349.7 L647.1 348.9 L652.5 347.6 L657.2 346.4 L661.2 345.4 L664.5 344.6 L667.2 343.9 L670.2 343.2 L673.5 342.3 L677.2 341.4 L681.2 340.4 L685 339.5 L688.7 338.6 L692.2 337.9 L695.6 337.2 L699.4 336.5 L703.8 335.6 L708.6 334.7 L714 333.7 L719.2 332.9 L724.2 332.4 L729 332 L733.7 331.9 L739.7 331.7 L746.9 331.4 L755.4 331.1 L765.3 330.7 L772.6 332 L777.5 335.1 L780 339.9 L780 346.5 L778.5 351.6 L775.7 355.4 L771.3 357.8 L765.5 358.8 L760.1 359.8 L755.2 360.8 L750.8 361.8 L746.7 362.8 L742.1 363.7 L736.7 364.6 L730.7 365.3 L724 366 L717.3 366.8 L710.6 367.8 L703.9 369 L697.2 370.3 L691.2 371.6 L685.9 372.7 L681.2 373.8 L677.2 374.8 L672.9 375.4 L668.2 375.6 L663.2 375.3 L657.8 374.7 L652.8 374.3 L648.1 374.1 L643.8 374.2 L639.7 374.5 L635.7 374.9 L631.7 375.4 L627.7 376 L623.7 376.7 L619.7 376.9 L615.7 376.8 L611.7 376.2 L607.6 375.2 L603.8 374.2 L600.1 373.2 L596.6 372.2 L593.3 371.2 L590.3 370 L587.6 368.7 L585.3 367.2 L583.2 365.5 L581.6 363.8 L580.2 362.2 L579.2 360.5 L578.6 358.8 L577.9 357.2 L577.3 355.7 L576.6 354.3 L575.9 352.9 L575.9 351.6 L576.6 350.2ZM704.5 337.1 L707.5 336.3 L710.9 335.6 L714.6 335 L718.8 334.4 L723.3 333.9 L728 333.4 L732.7 332.9 L737.6 332.4 L742.6 331.9 L747.6 331.4 L752.6 331 L757.6 330.7 L762.7 330.5 L767.7 330.1 L772.7 329.6 L777.7 329 L782.8 328.2 L787.8 327.4 L792.8 326.5 L797.8 325.6 L802.8 324.6 L807.4 323.7 L811.7 323 L815.5 322.4 L819 321.9 L822.7 321.2 L826.4 320.5 L830.3 319.6 L834.4 318.6 L838.1 317.7 L841.6 317 L844.9 316.4 L847.9 315.9 L850.8 315.4 L853.5 315 L856.2 314.7 L858.7 314.5 L861 314.5 L863 314.7 L864.8 315.2 L866.2 316 L867.4 317.1 L868.1 318.6 L868.5 320.5 L868.5 322.7 L868 324.8 L867 326.7 L865.5 328.4 L863.4 329.9 L861.2 331.3 L858.7 332.7 L855.9 334 L852.9 335.3 L850 336.5 L847.3 337.6 L844.6 338.7 L842.1 339.7 L839.6 340.6 L837.1 341.5 L834.6 342.3 L832.1 343.1 L829.3 343.8 L826 344.4 L822.4 344.9 L818.3 345.4 L814.6 345.9 L811.1 346.4 L807.8 346.9 L804.8 347.4 L801.9 348 L799.2 348.6 L796.5 349.3 L794 350.1 L791.3 350.8 L788.3 351.4 L785 351.9 L781.5 352.4 L777.8 352.9 L774.1 353.3 L770.2 353.6 L766.2 353.8 L762.6 354.3 L759.3 354.9 L756.4 355.7 L753.9 356.7 L751.4 357.7 L748.9 358.7 L746.4 359.7 L743.9 360.7 L740.7 361.7 L737 362.7 L732.6 363.7 L727.6 364.7 L722.6 365.6 L717.6 366.3 L712.6 366.9 L707.5 367.4 L703.8 365.9 L701.3 362.4 L700 356.9 L700 349.4 L700.8 343.6 L702.2 339.5ZM844.9 303.4 L847.9 302.9 L850.6 302.7 L853.1 303 L855.4 303.6 L857.4 304.6 L858.6 305.7 L859.1 307 L858.9 308.4 L857.9 309.9 L856.4 311 L854.4 311.9 L851.9 312.5 L848.9 312.7 L846.3 312.7 L844 312.5 L842.1 312 L840.6 311.2 L839.6 310.3 L839.1 309.2 L839.1 307.9 L839.6 306.4 L840.8 305.1 L842.5 304.1ZM771.2 396.3 L770.2 399.1 L767 400.3 L763.9 399.6 L761.4 397.8 L761.9 395 L763.8 392.9 L767.1 391.8 L770.2 393.5ZM777.5 389.3 L777.3 391.6 L775.1 392.1 L773.2 391.7 L771.8 390.3 L771.9 388.3 L773.3 387.1 L775 386.9 L776.5 387.7ZM778.7 396.3 L778 397.5 L777 398.5 L775.7 397.9 L775 396.9 L774.4 395.5 L775.8 394.9 L777 394.2 L778.3 394.9ZM768.5 389.3 L767.9 390.7 L766.6 391.9 L764.9 391.5 L764.2 390 L763.9 388.5 L765.1 387.4 L766.5 387.4 L767.8 388ZM781.1 385.3 L780.3 386.2 L779.5 386.6 L778.3 386.9 L777.5 385.9 L777.5 384.7 L778.5 384 L779.5 384 L780.3 384.4ZM801.9 371.3 L801.6 373.2 L799.8 374.1 L797.6 374.1 L796.5 372.3 L796.2 370.1 L798 369.1 L799.8 368.2 L801.3 369.6ZM734.7 398.7 L734.9 400.2 L733.4 400.7 L732.1 400.4 L731.3 399.4 L730.9 397.9 L732 396.9 L733.4 397.1 L734.7 397.4ZM608.9 234.3 L607.4 235.1 L605.1 234.6 L602.6 233.3 L601.8 231.2 L602.5 229.5 L604.8 228.8 L607.5 230.5 L609.2 232.5ZM620.9 242.2 L619.7 243.4 L617.2 242.6 L615.3 241 L614.4 239.3 L615 238 L617 238.1 L619 239.2 L620.5 240.6ZM617.7 219 L617.1 220.3 L615.4 220.6 L613.8 220.5 L612.2 219.7 L612.4 218.4 L613.8 217.6 L615.4 217.4 L616.9 217.9ZM626.5 219 L625.7 220.1 L624.7 221 L623.1 221.2 L622.4 219.7 L622.4 218.3 L623.3 217.1 L624.7 217 L626.2 217.5ZM628 227.8 L627.6 229.9 L626.1 231 L624.6 230.1 L624 228.6 L623.7 226.9 L624.6 225.4 L626.1 225 L627.4 226.1ZM645.4 207.5 L645 208.6 L643.9 208.9 L642.7 209.1 L641.8 208.2 L641.9 206.9 L642.9 206.2 L643.9 205.9 L645 206.3ZM809.3 539.6 L811.1 545.1 L812.9 549.7 L814.8 553.4 L817.6 555.7 L821.2 556.6 L825.9 558 L831.4 559.9 L837.8 561.7 L845.2 563.5 L851.6 566.7 L857.1 571.3 L861.8 575 L865.4 577.8 L870 581.5 L875.5 586.1 L879.2 591.1 L881.1 596.6 L880.6 602.2 L877.9 607.7 L876 612.3 L875.1 616 L876 620.6 L878.8 626.1 L885 631.6 L894.7 637.1 L908 645.4 L908 656.5 L896 661.1 L889.2 659.2 L881.1 656.9 L871.9 654.2 L864.1 651.4 L857.6 648.7 L850.2 645 L841.9 640.4 L836.9 637.4 L835 636 L837.8 635.3 L845.2 635.3 L850.7 634.6 L854.4 633.2 L853.5 631.1 L848 628.4 L841.5 625.2 L834.2 621.5 L827.7 617.9 L822.2 614.1 L816.6 610.4 L811.1 606.8 L805.6 603.5 L800.1 600.8 L794.1 597.1 L787.6 592.5 L781.6 587.9 L776.1 583.3 L775.7 581.5 L780.3 582.3 L786.3 584.2 L793.6 587 L801 589.3 L808.3 591.1 L814.8 591.1 L820.3 589.3 L822.2 585.6 L820.3 580.1 L818 574.1 L815.3 567.6 L813 561.2 L811.1 554.7 L809.8 547.8 L808.8 540.5ZM863.6 666.6 L870.9 668.5 L878.3 671.2 L885.7 674.9 L891.9 678.6 L908 682.2 L908 685.6 L908 688.5 L894.2 690 L883.6 690 L875.5 687.1 L870 681.5 L865.4 675.4 L861.8 668.9ZM866.9 674.1 L888.2 686.9 L908 695.4 L908 699.7 L892 697 L878.1 687.4 L867.5 678.9 L860 671.4ZM863.7 696.5 L870.1 698.6 L879.7 704.5 L892.5 714.1 L908 721.5 L908 726.9 L894.6 727.4 L886.1 723.1 L878.1 717.8 L870.6 711.4 L865.3 705 L862.1 698.6ZM886.1 741.8 L894.6 745 L908 747.9 L908 750.6 L896.2 750.8 L890.9 748.8 L886.7 745.8 L883.5 742.1ZM852.6 640 L883.4 640 L908 646.9 L908 660.8 L892.5 665.6 L879.7 661.3 L868 656.5 L857.3 651.2 L848.3 646.4 L840.8 642.1ZM94 599.5 L112.5 602 L131 605 L146.5 608 L158 610.5 L169.8 614 L181.4 618.5 L191.6 623.7 L203.3 628.4 L214.9 634.2 L226.5 637.7 L238 640 L247.4 641.2 L252 637.7 L261.4 636.5 L272 636.5 L272 655 L261.4 664.4 L259 685.3 L254.4 692.3 L245 685.3 L235.8 679.5 L226.5 674.9 L228.8 670.2 L238 669 L226.5 661 L214.9 655 L203.3 648 L191.6 641 L180 634 L169.8 624.5 L158 618 L146.5 613 L131 609 L112.5 605 L94 601.3ZM62 571.2 L84.6 574.4 L85.5 575.8 L62 574.9ZM257.8 638 L263.5 638.6 L266.6 640.8 L267.3 644.6 L270.8 648.1 L277 651.2 L283.3 652.8 L289.7 652.8 L294.1 652.2 L296.6 650.9 L298.6 648.5 L300.2 645 L303.4 642.5 L308 641 L312.3 641.5 L316.1 644 L319.2 647.1 L321.8 650.9 L323.8 655.3 L325.4 660.4 L326.6 665.1 L327.6 669.5 L328.3 673.9 L329 678.3 L329.6 683 L330.3 688.1 L330.6 693.1 L330.6 698.1 L331.2 703.1 L332.5 708.2 L333.1 713.2 L333.1 718.3 L331.8 722.7 L329.3 726.5 L325.5 729.6 L320.5 732.1 L314.9 733.7 L308.5 734.3 L300.7 734.6 L291.2 734.6 L281.8 733.1 L272.3 729.9 L264.5 725.2 L258.1 718.9 L255 696.3 L255 657.2ZM95.2 788.2 L105.3 788.2 L104 793.2 L96.5 792.7ZM135.5 800.8 L148.1 802 L145.6 805.8 L136 804.6ZM117.9 792 L130.5 793.7 L129.5 796.2 L118.4 795.2ZM251.4 775 L261.5 773.7 L270.3 773.7 L277.8 775 L284.8 777.5 L291 781.2 L294.8 786.2 L296.2 792.6 L294.9 799.5 L291.1 807.1 L288.6 815.9 L287.3 826 L287.3 834.8 L288.6 842.3 L287.9 848.6 L285.4 853.7 L282.3 855 L278.5 852.5 L274.1 848.7 L269 843.6 L264 837.3 L258.9 829.8 L253.9 821 L248.9 810.8 L246.4 798.2 L246.4 783.2ZM275.4 725.8 L282.9 727.1 L289.2 729.6 L294.3 733.4 L299.3 737.8 L304.3 742.9 L304.3 746.6 L299.3 749.1 L293 747.9 L285.4 742.8 L279.1 736.5 L274.1 729ZM465.1 78.4 L464.4 79.7 L463.3 80.3 L462 80.1 L461 79.2 L461.3 77.8 L461.9 76.6 L463.2 76.8 L464.2 77.4ZM468.2 85.8 L468.2 86.7 L467.2 87.1 L466.3 87 L465.9 86.2 L465.7 85.3 L466.3 84.5 L467.2 84.6 L468.2 84.7ZM489.2 92.6 L488.5 93.5 L487.6 94.1 L486.6 93.8 L486 93.1 L485.8 92 L486.6 91.3 L487.7 90.7 L488.7 91.4ZM496 99.3 L496.1 101 L494.5 101.4 L492.9 101.5 L492.2 100 L492 98.6 L492.9 97.2 L494.5 97.4 L495.5 98.2ZM485.5 112.9 L485.4 114 L484.4 114.7 L483.4 114.1 L482.4 113.5 L482.3 112.3 L483.3 111.5 L484.4 111.2 L485.6 111.7ZM486.1 124.6 L486 125.7 L485 126.4 L483.8 126 L483.2 125.1 L483.3 124.1 L483.8 123.2 L484.9 123.1 L486.1 123.4ZM493.1 141.9 L493.1 142.9 L492.2 143.4 L491.3 143 L490.9 142.3 L490.9 141.5 L491.3 140.7 L492.2 140.5 L493.1 141ZM813.4 246.5 L811 248.1 L806.7 247.5 L802 244.6 L801.7 241.2 L802 238 L806.1 237.5 L810.6 240.4 L815.4 243.7ZM818.8 275.5 L815.2 277.4 L809.4 275.8 L803.6 272.5 L802.4 268 L804.4 265.2 L808.9 264.8 L815.2 266.5 L817 271.3ZM803.6 261.2 L802.2 262.3 L799.8 263.1 L797.3 262.4 L795.3 261.7 L795.4 260.6 L796.8 259.6 L799.7 259.5 L801.9 260.1Z"/>
<path fill="#22772a" fill-rule="nonzero" d="M596.6 365 L598.6 363.6 L600.8 362.3 L603.1 360.9 L605.6 359.6 L608.3 358.3 L611.3 357.1 L614.6 356.1 L618.3 355.3 L622.4 354.6 L626.7 354 L631.4 353.5 L636.4 353.1 L641.8 352.8 L647.1 352.5 L652.5 352.1 L657.8 351.8 L663.2 351.4 L668.2 351.2 L672.9 351 L677.2 350.9 L681.2 350.9 L685.5 351.1 L690.2 351.6 L695.2 352.4 L700.6 353.4 L704.8 354.5 L707.8 355.7 L709.6 356.9 L710.3 358.3 L709.6 359.5 L707.6 360.5 L704.3 361.3 L699.6 362 L694.9 362.7 L690.2 363.3 L685.6 364 L680.9 364.6 L676.5 365.4 L672.5 366.2 L668.8 367.1 L665.5 368.2 L662 369 L658.3 369.7 L654.5 370.2 L650.4 370.5 L646.4 370.8 L642.4 371.2 L638.4 371.5 L634.4 371.8 L630.4 372.1 L626.4 372.5 L622.4 372.8 L618.3 373.2 L614.6 373.3 L611.3 373.3 L608.3 373.2 L605.6 372.8 L603.1 372.2 L600.8 371.4 L598.6 370.3 L596.6 369 L595.6 367.7 L595.6 366.3ZM705.6 338.7 L709 337.7 L713.2 336.9 L718.2 336.2 L724 335.7 L730.7 335.4 L737.4 335 L744.1 334.5 L750.8 333.9 L757.4 333.2 L763.3 332.6 L768.2 332.1 L772.2 331.7 L775.3 331.4 L777.7 332.1 L779.2 333.7 L780 336.4 L780 340.1 L778.9 342.9 L776.6 344.9 L773.3 346.1 L768.8 346.4 L764.6 346.7 L760.7 347.1 L757.1 347.4 L753.7 347.8 L750.4 347.9 L747 347.7 L743.7 347.3 L740.4 346.6 L737.1 346 L733.7 345.5 L730.4 345.1 L727 344.7 L723.5 344.4 L719.8 344 L716 343.7 L711.9 343.4 L708.6 343 L705.9 342.5 L703.9 341.9 L702.6 341.2 L702.4 340.5 L703.4 339.6ZM693.2 353 L697.3 353.4 L701.9 353.6 L707.3 353.4 L713.3 352.9 L720 352.1 L726.3 351.3 L732.3 350.6 L738 349.9 L743.4 349.3 L747.4 349 L750.1 349.2 L751.4 349.8 L751.4 350.8 L750.1 351.8 L747.4 352.7 L743.4 353.6 L738 354.4 L732.3 355.2 L726.3 356 L720 356.7 L713.3 357.4 L707.3 357.5 L701.9 357.1 L697.3 356.1 L693.2 354.6 L691.2 353.6 L691.2 353ZM615 363.8 L625.7 359.5 L632.4 367ZM633.7 363 L641.7 364.8 L635.1 367ZM707.5 339.4 L712.6 338.9 L717.6 338.4 L722.6 337.9 L727.6 337.4 L732.6 336.9 L737.6 336.4 L742.6 335.9 L747.6 335.4 L752.7 334.9 L757.7 334.5 L762.7 334 L767.7 333.6 L772.7 333.1 L777.7 332.6 L782.7 332 L787.7 331.2 L792.8 330.4 L797.3 329.5 L801.3 328.7 L804.8 327.8 L807.8 327 L810.8 326.2 L813.8 325.4 L816.8 324.7 L819.8 324.1 L823.1 323.4 L826.6 322.7 L830.3 322 L834.4 321.2 L837.8 320.9 L840.5 320.9 L842.6 321.2 L844.1 322 L845.3 322.9 L846.2 323.9 L846.8 325 L847 326.2 L846.8 327.5 L846 328.7 L844.8 330 L843 331.2 L841 332.4 L838.6 333.6 L835.9 334.6 L832.9 335.7 L829.6 336.6 L826.1 337.3 L822.4 337.9 L818.3 338.4 L814.3 338.9 L810.3 339.3 L806.3 339.6 L802.3 339.8 L798.3 340.1 L794.3 340.5 L790.3 340.9 L786.2 341.4 L782 341.9 L777.5 342.3 L772.7 342.6 L767.7 342.8 L763.4 343.2 L759.9 343.7 L757.2 344.3 L755.1 345.1 L752.2 345.8 L748.5 346.4 L743.9 346.9 L738.4 347.4 L733.1 347.9 L728.1 348.4 L723.3 348.9 L718.8 349.4 L714.6 349.8 L710.9 350.1 L707.5 350.2 L704.5 350.2 L702.2 349.6 L700.8 348.3 L700 346.4 L700 343.9 L701.3 341.9 L703.8 340.4ZM704.5 355.8 L707.5 355.6 L710.9 355.1 L714.6 354.5 L718.8 353.7 L723.3 352.7 L727.3 352 L730.8 351.6 L733.9 351.6 L736.4 351.8 L737.6 352.3 L737.6 353.1 L736.4 354.1 L733.9 355.3 L731.1 356.4 L728.1 357.4 L724.8 358.3 L721.3 359.1 L717.6 359.7 L713.9 360.2 L710 360.6 L706 360.8 L703 360.7 L701 360.2 L700 359.3 L700 358.1 L700.8 357.1 L702.2 356.3ZM608.3 233.6 L607.5 234.4 L605.7 234.3 L604.7 232.8 L603.5 231.5 L604.5 230.9 L605.7 230.5 L607.5 231.1 L608.1 232.5ZM620.2 242.1 L619.3 242.6 L617.9 242.2 L616.6 241.4 L616.3 240.4 L617 239.8 L617.8 239.2 L619.4 239.8 L620 241ZM816.2 556.1 L820.8 558 L825 558 L828.6 556.1 L832.3 556.6 L836 559.4 L840.6 562.6 L846.1 566.3 L851.2 569 L855.8 570.9 L859 573.6 L860.9 577.4 L859.5 580.1 L854.8 581.9 L851.1 584.2 L848.4 587 L844.7 587.9 L840.1 587 L836 585.1 L832.3 582.4 L828.6 579.1 L825 575.5 L821.7 571.3 L819 566.7 L816.7 562.1 L814.8 557.5ZM802.4 589.3 L808.8 591.1 L814.8 592 L820.3 592 L825.9 591.1 L831.4 589.3 L836 587.9 L839.6 587 L843.4 587.9 L847 590.6 L851.6 592.5 L857.1 593.4 L862.7 596.2 L868.2 600.8 L872.4 605 L875.1 608.6 L875.6 612.3 L873.7 616 L874.2 620.6 L876.9 626.1 L875.5 628.9 L870 628.9 L864.5 627 L859 623.4 L853.5 620.6 L848 618.7 L842.4 616 L836.9 612.3 L831.4 609.1 L825.9 606.3 L820.3 604 L814.8 602.2 L809.7 599.9 L805.1 597.1 L801.9 593.9 L800.1 590.2ZM851.6 631.6 L857.1 629.8 L862.7 630.7 L868.2 634.4 L874.7 638.1 L882 641.8 L889.2 644.5 L896 646.4 L908 651.4 L908 659.7 L896 662.4 L889.2 659.7 L882 656.9 L874.7 654.2 L868.2 651.4 L862.7 648.7 L858 645.9 L854.4 643.2 L851.6 639.5 L849.8 634.8ZM856.3 640 L873.3 640 L886.1 642.1 L894.6 646.4 L908 651.7 L908 658.1 L894.6 660 L886.1 657.3 L876.5 653.6 L865.9 648.8 L857.3 644.8 L850.9 641.6ZM885.9 741.5 L893.8 744.2 L908 746.3 L908 747.9 L894.9 747.7 L889 745.5 L885.1 743.4 L882.9 741.3ZM230 659.2 L240.5 655 L254.4 653.4 L264.9 649.3 L272 655 L266 664.4 L252 666.7 L245 662 L238 661ZM256.9 652.5 L260.7 654.3 L263.9 655.6 L266.4 656.3 L270.8 656.6 L277 656.6 L283.3 656.3 L289.7 655.6 L295 652.8 L299.4 647.7 L302.6 644.6 L304.4 643.3 L307.6 644 L312 646.5 L315.4 649.3 L317.9 652.4 L320.1 656.2 L322.1 660.7 L323.6 664.8 L324.9 668.5 L325.5 672.3 L325.5 676.1 L326.1 679.9 L327.4 683.6 L327.9 687.4 L327.5 691.2 L327.9 695.3 L328.8 699.7 L329.2 704.1 L328.8 708.5 L328.2 712.9 L327.3 717.3 L325.9 721.1 L323.9 724.2 L321.1 727.1 L317.4 729.6 L313 731.2 L307.9 731.8 L302.9 731.8 L297.8 731.2 L293.4 729.6 L289.6 727.1 L285.8 723.3 L282.1 718.3 L277 712.6 L270.8 706.4 L264.5 698.8 L258.1 689.9 L255 677 L255 660ZM266.2 795.8 L268.1 790.7 L270.4 787.1 L273.2 784.8 L275.9 784.4 L278.4 786.1 L280 790.4 L280.7 797.3 L281.8 805.8 L283 815.9 L283.9 825.9 L284.4 836.1 L284.2 843.6 L283.1 848.7 L282 848.7 L280.7 843.6 L279.4 837.3 L277.9 829.8 L276 822.9 L273.9 816.5 L271.6 811.5 L269.1 807.7 L267.2 803.9 L265.9 800.2Z"/>
<path fill="#55dd66" fill-rule="nonzero" d="M605.3 365.3 L610 362 L613.6 359.3 L616.4 357.3 L623.1 355.8 L633.8 354.7 L644.5 353.7 L655.1 352.8 L665.9 352.6 L676.5 353.3 L683.2 354.6 L685.9 356.6 L683.9 358.3 L677.1 359.6 L670.5 361.6 L663.8 364.3 L656.5 366 L648.4 366.6 L641.7 367.3 L636.4 368 L630.4 368.7 L623.7 369.3 L617 370 L610.4 370.7 L606 370 L604 368ZM706 339.3 L711.3 338.5 L715.3 338.6 L718 339.7 L717.3 340.5 L713.3 341.3 L709.3 341.1 L705.3 340.2ZM730 337.8 L735.3 337.3 L738.7 337.6 L740 338.6 L738 339.4 L732.7 339.9 L729.3 339.7 L728 338.6ZM689.9 352.1 L695.2 351.7 L698.6 352 L699.9 353.1 L697.9 353.7 L692.6 354 L689.2 353.7 L687.9 352.8ZM786.7 333.4 L791.8 331.9 L797.8 330.6 L804.8 329.6 L811.3 328.2 L817.3 326.5 L823.3 324.9 L829.4 323.3 L834.9 322.4 L839.9 322.2 L843.1 323.4 L844.6 325.9 L844.1 328.2 L841.6 330.5 L837.4 332.6 L831.4 334.3 L824.4 335.6 L816.3 336.4 L808.3 336.9 L800.3 337.1 L793.8 337 L788.7 336.8 L785.7 336 L784.7 334.8ZM710 339.5 L714 338.9 L716.5 339.1 L717.6 340.1 L716.1 340.9 L712 341.5 L709.5 341.3 L708.5 340.3ZM729.1 337.8 L735.1 337.2 L738.6 337.4 L739.6 338.6 L737.1 339.4 L731.1 339.9 L727.6 339.7 L726.6 338.7ZM768.5 396.7 L767.3 397.7 L766.2 398.7 L764.6 398.2 L763.9 397.3 L763.1 396 L764.8 395.4 L766.1 395.3 L767.3 395.8ZM775.8 389.7 L775.7 390.7 L774.9 391.3 L773.8 391 L773.4 390.1 L773.4 389.3 L773.9 388.5 L774.9 388.3 L775.8 388.7ZM801.1 371.5 L800.9 372.3 L800.1 372.5 L799.3 372.5 L798.7 371.9 L798.9 371.1 L799.2 370.2 L800.1 370.4 L800.9 370.6ZM816.9 558 L821 559.9 L824 559.9 L825.9 558 L828.6 557.1 L832.3 557.1 L835 558.5 L836.9 561.2 L840.6 564.5 L846.1 568.1 L851 571.4 L855.1 574.1 L856 576.4 L853.7 578.3 L851.1 579.7 L848.4 580.5 L846.5 582.9 L845.7 586.5 L843.4 587.5 L839.6 585.6 L836 583.3 L832.3 580.6 L829.1 577.8 L826.3 575 L823.5 571.3 L820.8 566.7 L818.2 562.6 L815.9 558.9ZM803.3 590 L807.9 591.3 L809.3 592.9 L807.4 594.8 L805.1 594.1 L802.4 590.9ZM815.5 593.2 L820.6 593.7 L825.9 593.4 L831.4 592.5 L835.5 591.5 L838.3 590.7 L842 591.6 L846.6 594.3 L851.6 597.1 L857.1 599.9 L862.7 603.1 L868.2 606.8 L871.2 610 L871.7 612.7 L870.8 615 L868.4 616.9 L869.1 620.1 L872.8 624.7 L872.8 627 L869.1 627 L865.4 625.2 L861.8 621.5 L858 619.2 L854.4 618.3 L850.7 617.3 L847 616.5 L844.3 614.6 L842.4 611.9 L838.8 609.1 L833.2 606.3 L827.7 603.5 L822.2 600.8 L817.8 597.8 L814.6 594.6ZM851.9 594.1 L856 594.6 L858.6 595.7 L859.4 597.6 L858 598.3 L854.4 597.8 L851.8 596.7 L850.5 594.8ZM856.7 631.8 L861.3 632.3 L867.3 634.8 L874.6 639.5 L883.6 643.8 L894.2 648 L908 652.8 L908 658.3 L896 660 L889.2 657.6 L882 654.9 L874.7 651.6 L868.2 648.9 L862.7 646.5 L858.5 643.6 L855.8 639.9 L854.4 636.5 L854.4 633.2ZM260 660 L265.1 659.4 L270.1 660.7 L275.2 663.8 L279.3 665.4 L282.4 665.4 L286.2 664.8 L290.6 663.5 L294.1 661.6 L296.6 659.1 L298.8 656.2 L300.7 653.1 L302.6 650.9 L304.4 649.6 L306.6 649.3 L309.1 650 L311.3 651.5 L313.2 654 L315.1 655.9 L317.1 657.2 L318.6 659.1 L319.9 661.6 L321 664.1 L321.9 666.6 L321.9 668.8 L321 670.8 L321.4 673 L323.4 675.5 L324.9 678 L326.2 680.5 L326.5 683 L325.8 685.5 L324.9 687.4 L323.6 688.7 L323.9 690.5 L325.9 693 L327.1 695.6 L327.7 698.1 L327.4 700.6 L326.1 703.1 L324.6 705 L322.7 706.3 L322.4 708.5 L323.7 711.6 L324.3 714.8 L324.3 717.9 L323.4 721.1 L321.4 724.2 L318.9 727.1 L315.8 729.6 L312 731.2 L307.6 731.8 L303.2 731.6 L298.8 730.7 L295 729.1 L291.9 726.9 L289.4 724.2 L287.4 721.1 L286.2 718.2 L285.5 715.8 L284.9 712.9 L284.3 709.8 L283.4 707 L282 704.5 L280.1 702.6 L277.6 701.2 L274.2 699.4 L269.8 696.9 L266.4 693.1 L263.9 688 L262 681.1 L260.6 672.3 L259.4 666 L258.1 662.2ZM268.1 633.3 L270.3 632 L272.6 632.3 L275.1 634.2 L276.5 638 L276.9 643.7 L276.6 648.1 L275.6 651.2 L275.3 655.5 L275.7 660.8 L273.3 663.6 L268.2 664 L264.9 663.5 L263.4 662.2 L262.9 660.4 L263.5 657.9 L264.6 655.3 L266.2 652.8 L267.1 650.2 L267.5 647.8 L267.5 643.4 L267.1 637ZM278.8 786.2 L278.4 787.3 L277.5 788.5 L276 788.2 L275.3 786.8 L275.5 785.6 L276.2 784.6 L277.5 784.2 L278.7 784.9ZM285.4 804.6 L285 805.2 L284.4 805.8 L283.5 805.7 L282.9 805 L282.9 804.1 L283.5 803.4 L284.4 803.4 L285.1 803.7ZM285 843.6 L284.4 845.5 L283.9 847.1 L283 846.8 L282.3 845 L282.4 842.3 L282.9 840.1 L283.9 839.9 L284.5 841.6ZM285.3 851.2 L285 851.9 L284.3 852.1 L283.6 852.1 L283.4 851.5 L283.2 850.8 L283.7 850.3 L284.4 850.1 L285 850.4ZM278.1 745.4 L277.5 746.1 L276.8 746.4 L276 746.3 L275.4 745.8 L275.4 744.9 L275.9 744.1 L276.8 744.3 L277.4 744.7ZM283 752.9 L282.8 753.9 L281.9 754.4 L281.1 753.9 L280.6 753.3 L280.2 752.4 L280.9 751.7 L281.9 751.5 L282.4 752.3ZM814.5 244 L812.9 245.5 L810.9 247.4 L808.1 246.1 L805.6 245 L804.8 242.8 L807.7 241.6 L810.9 240.9 L813 242.4ZM815.2 273.8 L812.1 274.2 L809 273.2 L806.5 270.6 L805.5 267.4 L807.1 265.1 L810.6 265 L814.4 267.1 L815 270.6Z"/>
<path fill="#fff200" fill-rule="nonzero" d="M618.4 356 L625 355.2 L632.4 354.9 L640.4 354.9 L647.1 354.4 L652.4 353.6 L659.1 353.2 L667.2 353.5 L671.9 354.4 L673.1 356 L670.5 357.5 L663.8 358.8 L657.8 360.4 L652.5 362.1 L647.8 362.6 L643.7 362 L639.1 361 L633.8 359.6 L627.8 358.9 L621.1 358.5 L617 357.9 L615.7 356.8ZM792.8 333.4 L797.8 332.5 L802.3 332.4 L806.3 332.9 L806.3 333.6 L802.3 334.7 L798.3 335.2 L794.3 335.3 L791.8 335 L790.8 334.2ZM824.3 331.3 L828.4 330.5 L830.9 330.7 L831.9 331.9 L830.6 332.9 L827.1 333.8 L824.6 333.6 L823.1 332.3ZM835.9 322.9 L838.9 322.4 L840.8 322.9 L841.6 324.4 L840.6 325.5 L837.8 326.1 L835.9 325.6 L834.9 324ZM837.6 328.9 L840.1 328.4 L841.6 328.7 L842.1 329.9 L841.1 330.7 L838.6 331.1 L837.1 330.8 L836.6 329.7ZM823.1 564.7 L826.8 563.3 L830 562.8 L832.7 563.3 L836 565.1 L839.6 568.4 L843.4 571.4 L847 574.1 L848 576.9 L846.1 579.6 L845.7 582.4 L846.5 585.1 L845.2 585.6 L841.5 583.7 L837.9 581.9 L834.1 580.1 L830.9 577.8 L828.2 575 L825.4 571.6 L822.7 567.4ZM816.2 593.8 L820.8 594.5 L825.9 595.2 L831.4 596.2 L836 595.9 L839.6 594.6 L843.4 595.3 L847 598 L851.6 600.8 L857.1 603.5 L862.2 606.3 L866.8 609.1 L867.7 611.4 L865 613.2 L861.8 613.7 L858.1 612.8 L857.6 614.6 L860.4 619.2 L859.9 620.6 L856.2 618.7 L853 616.9 L850.3 615 L848 613.7 L846.1 612.8 L843.8 610.9 L841.1 608.2 L837.4 605.9 L832.8 604 L828.2 602.2 L823.6 600.3 L819.4 597.9 L815.8 595ZM862.7 638.1 L868.2 639.9 L874.7 642.4 L882 645.7 L889.2 648.4 L896 650.8 L908 653.9 L908 657.8 L896 658.8 L889.2 656.7 L882 654 L874.7 650.7 L868.7 647.7 L864.1 645 L861.3 642 L860.4 638.8ZM863.7 641.1 L870.1 643.2 L879.7 646.4 L892.5 650.7 L908 654.1 L908 656.8 L894.6 656.8 L886.1 654.1 L877.6 650.7 L869.1 646.4 L863.2 643.2 L860 641.1 L858.9 640 L860 640ZM298.2 658.5 L301.3 657.2 L304.5 657.1 L307.6 658 L310.4 658.6 L312.9 659 L314.8 660.1 L316.1 661.9 L316.4 664.1 L315.8 666.6 L314.2 668.5 L311.7 669.8 L311.7 671.3 L314.2 673.2 L316.8 675.2 L319.2 677 L321 679.2 L321.9 681.8 L321.9 684 L321 685.8 L319.6 687.1 L317.6 687.7 L318 689.3 L320.5 691.8 L322.4 694.4 L323.7 696.9 L324 699.4 L323.3 701.9 L321.8 703.8 L319.2 705.1 L317.1 706.3 L315.1 707.6 L315.4 709.5 L317.9 712 L319.5 714.8 L320.2 717.9 L319.6 720.8 L317.6 723.3 L315.1 725.6 L312 727.4 L308.5 728.8 L304.8 729.8 L301 729.8 L297.2 728.8 L294.1 727.1 L291.6 724.6 L289.5 721.7 L287.9 718.6 L286.6 715.8 L285.7 713.2 L284.7 709.8 L283.8 705.4 L283 700.7 L282.4 695.6 L281.5 691.2 L280.2 687.4 L279.1 683.6 L278.2 679.9 L278.3 676.1 L279.6 672.3 L281.8 669.8 L284.9 668.5 L288.1 667.3 L291.2 666 L293.8 663.8 L295.7 660.7ZM270.6 637.5 L272.8 637.2 L274 638.8 L274.4 642.2 L273.4 644.5 L271.2 645.4 L269.6 644.9 L268.7 643.1 L268.5 641 L269.2 638.8ZM267.1 653.4 L270 652.1 L272 653.1 L273.3 656.2 L273.6 658.9 L272.9 661.1 L270.9 662.2 L267.4 662.2 L265.2 661.4 L264.3 659.9 L264.3 657.8 L265.2 655.3ZM812.7 243.7 L812.2 245 L810.5 245.9 L808.3 245.8 L807.6 244.3 L807.1 243 L808.7 242.1 L810.4 242.1 L812.6 242.2ZM811.9 268.4 L811 270.1 L809.1 271.1 L807 270.6 L806 269.2 L805.7 267.6 L807 266.2 L809 266.2 L811.1 266.7ZM817.7 275.7 L816.9 276.5 L816.1 276.9 L815 276.9 L814.1 276.2 L814.4 275.3 L814.8 274.3 L816.2 274.1 L817.2 274.7Z"/>
<path fill="#fbb83c" fill-rule="nonzero" d="M652.5 354.9 L657.8 354.4 L662 354.5 L664.9 355.3 L663.6 356.2 L657.9 357.3 L653.8 357.2 L651.1 355.9ZM299.4 659.8 L302.5 659 L305.7 659 L308.8 659.8 L311.3 661.1 L313.2 662.7 L313.6 664.6 L312.3 666.8 L310.1 668.2 L307 668.9 L303.8 668.9 L300.7 668.2 L298.3 666.9 L296.7 665.1 L296.4 663.2 L297.3 661.2ZM285.2 669.8 L290.3 668.5 L294.1 668.5 L296.6 669.8 L299.7 671 L303.5 672.3 L307 673.5 L310.1 674.9 L313.3 676.1 L316.4 677.4 L318.6 679.2 L319.9 681.8 L319.6 683.8 L317.6 685.4 L315.1 686.4 L312 686.6 L309.1 686.5 L306.6 685.8 L304.8 686.5 L303.5 688.3 L301.3 688.7 L298.2 687.4 L295.3 686.5 L292.8 685.8 L290.2 686.8 L287.8 689.3 L285.7 689.3 L284.1 686.8 L282.8 683.6 L281.9 679.9 L281.7 676.1 L282.4 672.3ZM307 688.3 L310.1 689 L313.3 689.9 L316.4 691.2 L319.2 693.1 L321.8 695.6 L322.7 698.5 L322.1 701.6 L320.5 703.7 L318 704.6 L315.1 705.2 L312 705.6 L309.1 706.3 L306.6 707.6 L303.8 708.2 L300.7 708.2 L297.5 707.6 L294.4 706.3 L291.5 704.8 L289 702.8 L287.4 700.6 L286.8 698.1 L288.1 696.2 L291.2 694.9 L294.4 693.4 L297.5 691.5 L300.7 690 L303.8 688.6ZM293.4 711 L297.2 711.7 L301.3 712.3 L305.7 712.9 L309.8 713.5 L313.6 714.2 L316.3 715.8 L317.8 718.2 L317.8 720.5 L316.3 722.3 L313.9 723.9 L310.8 725.2 L307.6 726.1 L304.5 726.8 L301.3 726.8 L298.2 726.1 L295.3 724.9 L292.8 723 L290.7 720.8 L289.2 718.3 L289.2 715.4 L290.7 712.3ZM268.6 656.3 L270.4 655.6 L271.5 656.5 L271.9 659 L270.9 660.5 L268.7 660.8 L267.6 659.9 L267.6 657.7Z"/>
<path fill="#ee8c26" fill-rule="nonzero" d="M825.6 566.8 L828.9 565.8 L832.3 566.8 L836 569.5 L839.6 572.5 L843.4 575.7 L844.3 578 L842.4 579.4 L839.6 579.4 L836 578 L832.7 576.1 L830 573.9 L827.5 571.3 L825.1 568.6ZM818.5 594.8 L824 595.7 L829.5 596.7 L835 597.9 L839.6 599 L843.4 599.8 L847 601 L850.7 602.4 L855.3 604.2 L860.8 606.6 L862.7 608.4 L860.8 609.8 L858 610 L854.4 609.1 L853.9 610.9 L856.7 615.5 L856.7 616.9 L853.9 615 L851.6 613.2 L849.8 611.4 L847 609.4 L843.4 607 L838.8 605 L833.2 603.1 L827.7 601.3 L822.2 599.4 L818.5 597.5 L816.6 595.3ZM300.4 661.2 L302.9 660.5 L305.4 660.5 L307.9 661.2 L310 662.2 L311.5 663.5 L311.8 664.8 L310.9 666.2 L309.1 667.1 L306.6 667.6 L304 667.6 L301.1 666.9 L299.2 666 L298.1 664.7 L298 663.5 L298.7 662.2ZM286.7 671.7 L290.8 670.4 L294.1 670.4 L296.6 671.7 L299.7 672.9 L303.5 674.2 L307 675.4 L310.1 676.7 L312.9 677.8 L315.4 679 L317.2 680.4 L318.1 682.1 L317.8 683.5 L316.3 684.4 L314.2 685 L311.7 685.2 L309.1 685 L306.6 684.3 L304.6 684.9 L303 686.5 L300.8 686.9 L298 685.8 L295.3 685 L292.8 684.3 L290.4 685 L288.2 687 L286.6 687.1 L285.5 685.2 L284.6 682.7 L283.7 679.6 L283.6 676.6 L284.3 673.7ZM307 690.2 L310.1 690.9 L313.1 691.7 L315.9 692.8 L318.2 694.3 L320.2 696.5 L320.8 698.6 L320.2 700.8 L318.8 702.3 L316.6 703.1 L314.2 703.7 L311.7 704 L309.1 704.8 L306.6 706.1 L303.8 706.7 L300.7 706.7 L297.7 706.1 L294.8 704.8 L292.4 703.5 L290.3 702 L289.1 700.3 L288.6 698.5 L289.6 697.1 L292.1 696.3 L294.8 695 L297.7 693.4 L300.7 691.9 L303.8 690.5ZM294.4 712.9 L297.5 713.4 L301.3 713.9 L305.7 714.6 L309.5 715.2 L312.6 715.8 L314.8 717 L316.1 718.6 L316.1 720.1 L314.8 721.5 L312.8 722.7 L309.9 723.7 L307.1 724.6 L304.3 725.2 L301.5 725.2 L298.6 724.6 L296.1 723.5 L293.9 721.8 L292.2 720.1 L290.9 718.2 L290.9 716.1 L292.2 713.8ZM270.9 638.8 L272.5 638.4 L273.3 639.5 L273.3 642 L272.6 643.6 L271.1 644.3 L270.3 643.2 L270.2 640.3Z"/>
<path fill="#cc1414" fill-rule="nonzero" d="M833.2 568.1 L836.3 568.5 L836.9 571.8 L834.1 572.2ZM837.8 574.6 L840.6 575.1 L840.6 577.3 L838.2 577.3ZM815.7 594.8 L823.1 596.1 L830.5 598.5 L837.8 600.3 L839.7 602.2 L830.5 601.3 L821.3 599ZM855.3 605.9 L859.9 606.8 L860.8 608.6 L856.2 608.2ZM295.3 678.9 L297.8 678.3 L300.7 678.1 L303.8 678.5 L305.9 679.4 L306.8 681 L306.2 682.2 L304 683.2 L301.3 683.5 L298.2 683.1 L296 682 L294.6 680.2ZM291.9 692.8 L295 692.1 L296.9 692.7 L297.5 694.7 L296.6 696.2 L294.1 697.5 L291.9 697.8 L289.9 697.2 L289.3 695.9 L290 694.1ZM293.1 703 L296.2 702.7 L298 703.1 L298.3 704.5 L296.9 705.2 L293.8 705.6 L292 705.1 L291.7 703.8ZM298.8 666.5 L300.7 666.1 L301.7 666.5 L301.8 667.4 L301 668 L299.4 668.4 L298.3 668 L298 667.1ZM306.3 694.3 L306.1 694.9 L305.5 694.9 L305 695 L304.6 694.6 L304.8 694.1 L305 693.6 L305.5 693.6 L306 693.8ZM306.6 698.1 L306.5 698.5 L306.1 698.6 L305.7 698.7 L305.5 698.3 L305.5 697.9 L305.7 697.5 L306.1 697.5 L306.6 697.7ZM811.3 243.7 L811.1 244.5 L810.3 244.9 L809.1 244.9 L808.8 244.1 L808.6 243.3 L809.4 242.8 L810.2 242.8 L811.3 242.9Z"/>
<path fill="#990000" fill-rule="nonzero" d="M827.7 598.5 L837.8 600.3 L837.8 602.2 L828.6 600.3ZM292.8 694.3 L295.9 693.7 L295.3 696.9 L292.2 696.9Z"/>
<path fill="#880088" fill-rule="nonzero" d="M300.3 680.5 L299.9 681.2 L299.3 681.8 L298.6 681.3 L298.2 680.8 L298.1 680.1 L298.6 679.7 L299.2 679.6 L299.8 679.9Z"/>
</g>
<path d="M129.9 64.0V987.8M248.5 64.0V987.8M367.1 64.0V987.8M485.7 64.0V987.8M604.3 64.0V987.8M722.9 64.0V987.8M841.5 64.0V987.8M70.0 940.7H900.1M70.0 822.1H900.1M70.0 703.5H900.1M70.0 584.9H900.1M70.0 466.3H900.1M70.0 347.7H900.1M70.0 229.1H900.1M70.0 110.5H900.1" stroke="#000" stroke-opacity="0.065" stroke-width="1.1" fill="none"/>
<path d="M500 177.6 L510.7 158.8 L536.1 158.3 L549.5 125.4 L562.9 102.7 L580.2 97.9 L609.9 94.1 L627.3 94.9 L647.1 105.3 L653.8 110.7 L649.8 118.7 L654.6 134.8 L652.4 161 L660.5 162.9 L673.8 164.2 L687.2 160.2 L697.9 164.2 L705.9 172.2 L711.3 193.6 L714 204.3 L730 201.6 L739.4 207 L735.4 225.7 L732.7 244.4 L743.6 241.7 L749.5 246 L753 260.5M536.1 158.3 L541.5 164.2 L553.5 177.6 L569.5 192.3 L588.3 203 L607 208.3 L620.4 217.7 L639.1 225.7 L652.4 232.4 L660.5 237.7 L657.8 244.4 L648.4 257.8 L639.1 271.2 L636.4 281.9 L649.8 283.2 L671.2 284.5 L687.2 287.2 L705.9 285.9 L711.3 276.5 L727.3 263.1 L732.7 244.4M653.8 110.7 L647.9 105.1 L656.5 83.2 L662.1 66M752.7 260 L748.7 276 L732.7 286.7 L722 297.4 L711.3 305.5 L697.9 317.5 L687.2 328.2 L676.5 340.2 L668.5 350.9 L660.5 359 L655.1 372.3 L651.1 384.4 L649.8 393.7 L646.6 404.4M661 352.5 L676.5 359 L699 366.7 L714 373.7 L722 379 L732.7 383 L746.1 393.7 L756.8 404.4 L764.8 412.4 L760.8 419.9M357.1 72.2 L368 68.1 L370.7 64.1M387 64.9 L391 81.7 L401.9 95.3 L396.5 110.2 L395.1 118.3 L401.1 125.1 L402.7 133.3 L408.7 141.4 L412.7 155 L416.8 173.9 L417.4 178.8 L433.1 178 L437.2 179.4 L434.4 187.5 L430.4 206.5 L411.4 213.3 L401.1 222.8 L403.3 233.6 L399.2 241.8 L401.9 255.3 L401.1 266.2 L406 275.7 L395.1 279.8 L388.3 290.6 L378.8 302.8 L370.7 315 L366.6 328.6 L368 340M433.1 178 L438.5 169.9 L452.1 160.4 L456.2 153.6 L465.6 160.4 L490.1 160.9 L495.5 164.4 L500.4 177.2M366.5 330 L368.6 338.5 L369.7 350.3 L363.3 356.7 L357.9 368.4 L353.7 375.8 L353.2 383.3 L357.9 391.8 L359 398.2 L363.3 408.9 L366.5 421.7 L371.2 427 L369.7 447.3 L364.3 454.7 L359 466.5 L354.7 472.9 L355.8 479.3 L357.3 487.8 L354.7 493.1 L344.1 500.6 L338.7 509.1 L339.8 521.9 L338.7 530.4 L341.9 541.1 L346.2 550M760 417.8 L757 422.8 L756.5 430.4 L758.3 434.2 L760 435.4M399.3 885.9 L399.3 938 L444 938.8M346.2 550 L346.3 551.6 L335.7 557.4 L331.8 565.2 L326 576.8 L324 590.4 L321 604 L322 617.5 L324 631 L328.9 636.9 L329.8 648.5 L332 660 L338 680 L339 700 L336 715 L328 735 L325.8 740.7 L321.5 751 L313 762 L306.6 772.6 L310.9 781 L304.5 791.8 L307 805 L303 820 L308.7 834.5 L313 840.9 L310.9 849.4 L312 858 L319.4 866.5 L349 868.6 L370.6 869.7 L404.7 877" stroke="#7a7a7a" stroke-width="0.9" fill="none" stroke-linejoin="round"/>
<path d="M346.3 64.1 L357.1 72.2 L359.3 87.1 L362 103.4 L363.1 122.4 L364.7 141.4 L362.6 157.7 L360.4 173.9 L359.3 182.1 L353.1 184.8 L352.2 192.9 L356.6 195.6 L355 211.9 L355.8 228.2 L355 236.3 L350.3 244.5 L349.5 260.8 L346.8 274.3 L343.6 285.2 L343 293.3 L339.5 304.2 L337.6 315 L332.7 321.8 L332.2 331.3 L335.4 340M332.3 330 L335.5 334.3 L334.9 344.9 L332.3 351.3 L327 353.9 L325.9 362 L327 372.6 L329.1 383.3 L330.2 391.8 L330.6 400.4 L332.8 404.6 L331.5 412.1 L329.1 417.4 L324.9 421.7 L326.4 429.1 L323.8 435.5 L320 445.1 L318.5 449.4 L317.8 455.8 L315.3 465.4 L311 470.7 L304.6 479.3 L304.2 483.5 L300.4 489.9 L298.7 498.4 L294 507 L291.8 504.8 L290.1 511.2 L288.6 517.6 L283.3 518.7 L282.2 513.8 L279.5 519.8 L280.3 526.2 L279.5 531.5 L282.2 536.8 L283.7 543.2 L282.9 550M284.3 540 L282.9 549.7 L288.2 557.4 L290.1 565.2 L289.1 572.9 L286.2 580.7 L279.5 583.6 L277.5 590.4 L276.6 598.1 L273.6 606.9 L274 615.6M273.3 611.2 L274.5 615 L276.4 620 L282.1 621.3 L278.9 624.4 L271.4 627M284 627 L292.8 626.3 L294 622.6 L297.8 620 L302.2 621.9 L303.5 625.1 L309.2 624.4 L311.7 621.3 L312.3 616.9M298.5 627.6 L301.6 631.4 L306.6 631.4 L309.2 636.4 L308.5 642.1 L305.4 640.2 L302.9 637.7 L301 642.7 L301.6 649 L299.7 654 L298.5 657.8 L295.3 661 L293.4 664.1 L294.7 667.9 L296.6 671.7 L295.3 674.8 L291.5 676.7 L289 680.5 L289.6 684.3 L287.7 688 L288.4 693.1 L285.9 696.9 L285.2 701.9 L286.5 705.7 L290.9 709.5 L297.8 712.6 L299.1 714.5 L294 713.9 L287.7 710.7 L284.6 708.2M287.7 695.6 L292.8 691.8 L299.1 689.3 L304.7 688 L305.4 691.2 L301.6 695.6 L295.3 699.4 L290.3 701.3 L287.7 695.6M386.3 840 L388.8 832 L397.6 825.7 L405.2 824.4 L415.3 820.6 L419.8 814.3 L420.3 804.2 L426.6 796.7 L435.4 789.1 L445.5 782.8 L455.6 777.8 L463.1 774 L466.9 766.4 L467.7 758.9 L464.4 753.8 L455.6 751.3 L445.5 749.3 L436.7 743.8 L427.9 736.2 L423.3 728.7 L425.4 719.8 L432.9 712.3 L443 707.2 L453.1 704 L463.1 703 L469.4 703.5 L468.2 697.2 L474.5 692.1 L478.8 685.8 L477 675.7 L479.5 668.2 L485.8 660.6 L494.6 656.8 L500.9 655.1 L497.2 653.1 L488.3 650.5 L485.3 648.5 L490.9 645.5 L498.4 644.2 L503.5 646.8 L504.7 651.8 L511 653.1 L517.3 650.5 L518.6 643 L516.1 634.9 L511 634.2 L506 639.2 L494.6 640.5 L488.3 636.7 L483.8 630.4 L484.6 622.8 L482 615.3 L480.8 606.5 L484.6 602.2 L490.9 602.7 L500.9 606.5 L511 610.7 L523.6 612.2 L536.2 609.7 L546.3 605.2 L551.3 600.2 L554.4 595.1 L555.1 588.8 L551.3 592.6 L547.5 597.6 L545 591.3 L548.8 585 L551.3 580M405.2 824.4 L396.4 815.6M400.2 820.6 L390.1 821.9M464.4 772.7 L451.8 770.2M420.3 804.2 L417.3 806.8M500 606.8 L510.1 610.5 L525.2 611.8 L540.3 608 L547.9 601.7 L550.4 599.2 L555.4 594.2 L554.2 587.9 L550.4 595.4 L545.4 594.2 L545.4 589.1 L549.1 581.6 L554.2 579 L555.4 567.7 L557.4 563.9 L554.2 560.1 L547.9 561.4 L546.6 556.4 L552.9 556.4 L555.4 560.1 L570.5 560.1 L588.2 558.9 L608.3 556.4 L626 552.6 L643.6 547.5 L656.2 542.5 L661.2 538.7 L662.5 532.4 L668.8 524.9 L676.4 516.1 L681.4 508.5 L682.7 502.2 L680.1 497.2 L673.8 497.2 L668.8 492.1 L666.3 485.8 L668.8 479.5 L671.3 475.7 L666.3 468.2 L656.2 460.6 L648.7 455.6 L642.4 451.8 L637.3 449.3 L641.1 446.8 L638.6 437.9 L638.1 430.4 L641.1 421.6 L644.9 419.1 L648.7 416.5 L646.1 406.5 L644.9 412.8 L646.1 417.8 L642.4 420.3 L641.1 430.4 L642.4 440.5 L644.9 445.5 L651.2 450.5 L658.7 453.1 L671.3 453.6 L681.4 456.8 L689 461.9 L694 463.1 L701.6 461.1 L711.6 461.9 L723 464.4 L731.8 460.6 L738.1 458.6 L739.4 455.6 L741.9 456.8 L749.4 453.1 L754.5 445.5 L760 436.7M899.1 222.2 L891.8 227.5 L885.2 232.7 L878.7 235.3 L870.8 239.2 L872.1 245.8 L876.1 248.4 L869.5 254.9 L868.7 261.5 L873.4 265.4 L872.1 275.9 L874.7 283.7 L877.4 290.3 L873.4 296.8 L872.1 304.7 L868.2 311.2 L863 316.4 L855.1 323 L847.3 330.8 L840.7 341.3 L835.5 351.8 L830.3 360.9 L823.7 370.1 L815.9 380.5 L806.7 388.4 L797.6 394.9 L789.7 398.8 L784.5 406.7 L779.2 417.2 L771.4 426.3 L762.2 434.2 L755.7 442 L751.8 451.2 L745.2 455.1 L740 459M788.4 397.5 L787.1 391 L792.3 384.5 L793.6 379.2 L801.5 377.9 L805.4 372.7 L806.7 364.8 L812 359.6 L810.6 353.1 L809.3 347.8 L814.6 351.8 L818.5 357 L823.7 353.1 L827.7 354.4 L826.3 360.9 L821.1 367.5 L818.5 374 L813.3 377.9 L808 383.2 L802.8 387.1 L796.3 392.3 L789.7 397.5M395.6 830 L388.2 835 L385.7 844.9 L387.4 852.3 L389.4 859.8 L393.1 867.2 L399.3 872.2 L405.5 875.9 L403.1 877.2 L385.7 874.7 L379.5 875.9 L374.5 880.9 L367 882.1 L358.4 885.9 L348.4 887.1 L345.9 890.8 L347.2 897 L344.7 904.5 L343.5 911.9 L337.2 913.2 L324.8 909.5 L314.9 904.5 L305 899.5 L300 897M385.7 844.9 L380 846.9M389.4 859.8 L375.7 859.8M379.5 878.4 L384.4 883.4 L391.9 882.1 L398.1 885.9 L404.3 892.1 L401.8 895.8 L409.3 897 L414.2 904.5 L424.2 913.2 L434.1 919.4 L449 925.6 L463.9 930.6 L481.3 931.8 L478.8 936.8 L468.9 938 L458.9 939.3 L446.5 939.3 L434.1 938 L416.7 937.3 L399.3 938 L391.9 935.5 L389.4 926.8 L381.9 925.6 L374.5 921.9 L367 916.9 L362.1 909.5 L362.1 907 L379.5 904.5 L381.9 902 L364.6 902 L358.4 899.5 L355.9 893.3 L359.6 889.6 L364.6 888.4M277.4 677.5 L274 680M277.4 677.5 L277.5 679.4M270.8 680.6 L274 680M270.8 680.6 L272.6 682M274 680 L277.5 679.4M274 680 L275.3 684.1M272.6 682 L271 685.3M275.3 684.1 L271 685.3M275.3 684.1 L274.8 687.4M264.5 685.7 L264.5 690.3M271 685.3 L274.8 687.4M271 685.3 L272.4 689.5M274.8 687.4 L277 685.6M274.8 687.4 L272.4 689.5M277 685.6 L278.7 686.6M277 685.6 L278.9 689.3M278.7 686.6 L278.9 689.3M278.7 686.6 L277.1 691.2M264.5 690.3 L266.8 690.4M266.8 690.4 L266.8 691.5M266.8 690.4 L268.4 694.5M278.9 689.3 L277.1 691.2M260.6 693.5 L261.5 696.4M266.8 691.5 L268.4 694.5M271.1 692.4 L268.4 694.5M257.4 696.3 L260 697M273.5 694.4 L272.6 697.5M267.3 699.8 L264.3 702.5M267.3 699.8 L266.9 700.4M272.6 697.5 L269.5 700.9M272.6 697.5 L274.8 701.5M276.3 698.5 L280.3 699M276.3 698.5 L274.8 701.5M258.9 701.9 L261.5 704.7M264.3 702.5 L261.5 704.7M264.3 702.5 L265.1 704.1M266.9 700.4 L265.1 704.1M266.9 700.4 L267.7 704.1M266.9 700.4 L270.3 704M269.5 700.9 L267.7 704.1M269.5 700.9 L270.3 704M274.8 701.5 L276.7 705.6M277.1 702.8 L276.7 705.6M278.9 702.8 L281.9 705.8M261.5 704.7 L264.4 707M265.1 704.1 L267.7 704.1M265.1 704.1 L266.2 706.9M267.7 704.1 L270.3 704M267.7 704.1 L264.4 707M267.7 704.1 L266.2 706.9M270.3 704 L271.3 708.2M270.3 704 L273 707.5M276.7 705.6 L281.2 705.6M276.7 705.6 L275.5 710.4M281.2 705.6 L280.3 710.3M281.9 705.8 L278.5 707.8M281.9 705.8 L282.2 708.3M281.9 705.8 L280.3 710.3M257.6 708.6 L261.1 710.2M264.4 707 L266.2 706.9M271.3 708.2 L273 707.5M271.3 708.2 L273.5 710.1M273 707.5 L276.1 707.8M273 707.5 L271.6 710.6M273 707.5 L275.5 710.4M276.1 707.8 L278.5 707.8M276.1 707.8 L273.5 710.1M276.1 707.8 L275.5 710.4M278.5 707.8 L282.2 708.3M278.5 707.8 L275.5 710.4M278.5 707.8 L280.3 710.3M282.2 708.3 L280.3 710.3M282.2 708.3 L284.3 709.6M261.1 710.2 L263.1 711.9M261.1 710.2 L257.8 712.7M263.1 711.9 L266.8 711.9M263.1 711.9 L266.7 713.1M263.1 711.9 L262.1 715.6M266.8 711.9 L265.3 713.1M271.6 710.6 L275.5 710.4M273.5 710.1 L275.5 710.4M273.5 710.1 L277.2 712.7M275.5 710.4 L280.3 710.3M284.3 709.6 L286.4 714M265.3 713.1 L262.1 715.6M269.4 713.8 L271.7 716.2M281 713.9 L281.9 712.9M281.9 712.9 L286.4 714M286.4 714 L289 715.1M286.4 714 L287 716M286.4 714 L289 716.1M289 715.1 L289.4 719.3M264.3 717.8 L261.3 720.3M268.7 717.9 L271.7 716.2M268.7 717.9 L270.1 719M271.7 716.2 L273.9 720.4M272.7 715.6 L270.1 719M272.7 715.6 L273.9 720.4M278.1 718.2 L277.3 722.4M287 716 L286.2 719.8M289 716.1 L286.2 719.8M261.3 720.3 L257.6 722M261.3 720.3 L260.8 722.7M270.1 719 L268.2 722.9M280 719.2 L277.3 722.4M286.2 719.8 L289.4 719.3M265.6 724.2 L263.8 726.5M268.2 722.9 L268.2 727.4M263.8 726.5 L268.2 727.4M263.8 726.5 L263.9 728.4M268.2 727.4 L270.6 727.1M277.7 726.8 L279.3 728.3M263.9 728.4 L267.9 729.3M277.2 730.6 L279.3 728.3M277.2 730.6 L273.1 731.2M279.3 728.3 L282.7 729.4M279.3 728.3 L282.8 731.4M282.7 729.4 L282.8 731.4M273.1 731.2 L276.2 731.7M276.2 731.7 L274.5 735M276.2 731.7 L276 735.4M274.5 735 L276 735.4M281.9 716.5 L281.5 718.2M262.7 719.2 L265.2 719.9M262.7 719.2 L258.4 720.6M265.2 719.9 L269.2 718.3M283.3 718.9 L280.3 722.1M261.6 722.7 L259.4 725.1M276.5 721.5 L276.4 724.7M276.5 721.5 L278.6 725.8M280.3 722.1 L278.6 725.8M280.3 722.1 L280.9 725.6M280.3 722.1 L284.4 724M273.5 725.3 L276.4 724.7M273.5 725.3 L273.3 728.1M276.4 724.7 L278.6 725.8M276.4 724.7 L280.9 725.6M276.4 724.7 L273.3 728.1M278.6 725.8 L280.9 725.6M280.9 725.6 L281.6 728.8M263.6 729.2 L267.8 729.7M275.5 730.6 L279.2 731.2M279.2 731.2 L278.5 733.8M281.8 730.8 L278.5 733.8M251.6 741.3 L261.9 744.7 L268.8 751.6 L265.3 758.5 L273.9 763.6M244.7 724.1 L251.6 721.3 L258.5 724.8 L255 729.2M252.9 764.8 L250.3 767.3M252.9 764.8 L253.1 766.8M252.9 764.8 L250.5 768.8M252.9 764.8 L254.7 768.6M242.3 766.1 L241.5 768.8M242.3 766.1 L244.8 769.8M244.2 767.4 L241.5 768.8M248.2 765.6 L249 769.5M250.3 767.3 L253.1 766.8M250.3 767.3 L249 769.5M253.1 766.8 L250.5 768.8M235.1 768.8 L238.3 769.5M244.8 769.8 L249 769.5M244.8 769.8 L243.7 773.9M244.8 769.8 L247.4 772.3M249 769.5 L247.4 772.3M249 769.5 L251.5 773.4M250.5 768.8 L247.4 772.3M257.1 770.6 L254.6 772.8M243.7 773.9 L247.4 772.3M243.7 773.9 L241.5 776.2M243.7 773.9 L247 776.9M243.7 773.9 L242.1 778.1M247.4 772.3 L251.5 773.4M251.5 773.4 L251.3 775.6M254.6 772.8 L254 776.1M241.5 776.2 L242.1 778.1M241.5 776.2 L244.3 779.4M244.5 776.4 L247 776.9M244.5 776.4 L244.3 779.4M244.5 776.4 L242.5 780.7M247 776.9 L251.3 775.6M247 776.9 L244.3 779.4M247 776.9 L248.4 779.9M251.3 775.6 L254 776.1M251.3 775.6 L251.1 779.6M254 776.1 L253 778.1M237.9 779.4 L242.1 778.1M237.9 779.4 L242.5 780.7M242.1 778.1 L244.3 779.4M242.1 778.1 L242.5 780.7M244.3 779.4 L242.5 780.7M244.3 779.4 L245 782.2M244.3 779.4 L247.2 780.6M248.4 779.9 L251.1 779.6M248.4 779.9 L245 782.2M248.4 779.9 L247.2 780.6M248.4 779.9 L249.8 781.4M251.1 779.6 L253 778.1M251.1 779.6 L247.2 780.6M251.1 779.6 L253.8 781.6M253 778.1 L249.8 781.4M235.6 782.9 L234.6 783.6M242.5 780.7 L247.2 780.6M245 782.2 L247.2 780.6M245 782.2 L249.8 781.4M245 782.2 L244.4 785.5M245 782.2 L245 786.3M249.8 781.4 L253.8 781.6M234.6 783.6 L235.3 787.9M244.4 785.5 L247.1 786.8M244.4 785.5 L242.6 789.7M248.9 785.5 L247.1 786.8M254 784.2 L254.9 787.4M237.4 788.5 L235.7 789.6M237.4 788.5 L236.9 792.8M242.2 786.8 L245 786.3M245 786.3 L247.1 786.8M245 786.3 L242.6 789.7M235.7 789.6 L237.6 791.4M237.6 791.4 L236.9 792.8M237.6 791.4 L239.2 793.1M242.6 789.7 L240.7 793.3M245 791 L245.8 794.2M251.2 791.9 L249 793.7M251.2 791.9 L250.4 792.9M251.2 791.9 L253.2 794M251.2 791.9 L248.5 795.3M254.6 791.4 L250.4 792.9M254.6 791.4 L256.5 795.6M236.9 792.8 L239.2 793.1M239.2 793.1 L240.7 793.3M240.7 793.3 L242.1 797.3M240.7 793.3 L243.4 796.7M245.8 794.2 L249 793.7M245.8 794.2 L250.4 792.9M245.8 794.2 L243.4 796.7M245.8 794.2 L248.5 795.3M249 793.7 L250.4 792.9M249 793.7 L248.5 795.3M250.4 792.9 L253.8 796.2M253.2 794 L256.5 795.6M235.8 795.6 L237 798.7M235.8 795.6 L238.9 798.3M239.5 796.9 L238.9 798.3M242.1 797.3 L242.9 799.5M242.1 797.3 L244.8 799.9M243.4 796.7 L242.9 799.5M243.4 796.7 L244.8 799.9M251.8 797.9 L253.8 796.2M251.8 797.9 L251.9 800.6M251.8 797.9 L253 799.4M251.8 797.9 L250.5 801.6M253.8 796.2 L256.5 795.6M253.8 796.2 L253 799.4M256.5 795.6 L256.4 799.3M237 798.7 L238.4 801.8M238.9 798.3 L242.9 799.5M242.9 799.5 L247.2 800.5M247.2 800.5 L251.9 800.6M247.2 800.5 L248.6 803.2M247.2 800.5 L248.1 804.9M251.9 800.6 L253 799.4M251.9 800.6 L250.5 801.6M251.9 800.6 L252.8 802.5M253 799.4 L250.5 801.6M253 799.4 L252.8 802.5M256.4 799.3 L256.7 803.8M238.4 801.8 L242.8 802.3M238.4 801.8 L236.9 806.3M238.4 801.8 L239.5 805.4M242.8 802.3 L239.5 805.4M242.8 802.3 L242.9 806.6M242.8 802.3 L244.2 805.5M248.6 803.2 L250.5 801.6M248.6 803.2 L252.8 802.5M248.6 803.2 L248.1 804.9M248.6 803.2 L248.5 807.7M252.8 802.5 L256.7 803.8M252.8 802.5 L253.7 805.1M256.7 803.8 L253.7 805.1M256.7 803.8 L255.7 807.9M236.9 806.3 L239.5 805.4M239.5 805.4 L242.9 806.6M239.5 805.4 L238.6 809.2M242.9 806.6 L244.2 805.5M242.9 806.6 L244 808.8M244.2 805.5 L248.1 804.9M248.1 804.9 L248.5 807.7M248.1 804.9 L249.7 807.7M253.7 805.1 L249.7 807.7M253.7 805.1 L252.6 808.5M257.1 804.6 L255.7 807.9M238.6 809.2 L241.6 809.6M238.6 809.2 L239.3 811.5M241.6 809.6 L244 808.8M244 808.8 L248.5 807.7M244 808.8 L246 812.3M248.5 807.7 L252.6 808.5M249.7 807.7 L252.6 808.5M249.7 807.7 L252.6 811.3M252.6 808.5 L255.7 807.9M252.6 808.5 L252.6 811.3M255.7 807.9 L252.6 811.3M255.7 807.9 L257.2 811.6M239.3 811.5 L236.6 813.3M239.3 811.5 L239.3 814.3M252.6 811.3 L257.2 811.6M252.6 811.3 L251.1 813.7M236.6 813.3 L239.3 814.3M236.6 813.3 L238.5 817M239.3 814.3 L238.5 817M247.6 814.2 L251.1 813.7M247.6 814.2 L245.6 817.6M247.6 814.2 L248 818.2M251.1 813.7 L250.4 817.7M251.1 813.7 L254.6 816.6M254.4 815.9 L250.4 817.7M254.4 815.9 L256.6 818M235.5 818.6 L238.5 817M235.5 818.6 L235.7 820.5M235.5 818.6 L236.6 823.2M238.5 817 L235.7 820.5M238.5 817 L239.8 821.1M242.3 818.9 L245.6 817.6M242.3 818.9 L239.8 821.1M242.3 818.9 L242.7 819.6M242.3 818.9 L243.8 819.7M242.3 818.9 L244.7 822.3M245.6 817.6 L250.4 817.7M245.6 817.6 L242.7 819.6M245.6 817.6 L243.8 819.7M245.6 817.6 L246.8 820.7M245.6 817.6 L244.7 822.3M248 818.2 L243.8 819.7M248 818.2 L250.5 821.2M248 818.2 L248.3 823M250.4 817.7 L254.6 816.6M250.4 817.7 L250.5 821.2M254.6 816.6 L256.6 818M254.6 816.6 L254.3 821.2M256.6 818 L259.2 816.6M256.6 818 L255.4 821.8M235.7 820.5 L236.6 823.2M235.7 820.5 L238.5 824.1M239.8 821.1 L242.7 819.6M239.8 821.1 L236.6 823.2M239.8 821.1 L241.9 823.6M242.7 819.6 L243.8 819.7M242.7 819.6 L246.8 820.7M242.7 819.6 L244.7 822.3M243.8 819.7 L246.8 820.7M243.8 819.7 L241.9 823.6M250.5 821.2 L248.3 823M254.3 821.2 L251.3 824.1M254.3 821.2 L253.9 824.9M255.4 821.8 L253.9 824.9M236.6 823.2 L238.5 824.1M236.6 823.2 L237.9 826.6M238.5 824.1 L241.9 823.6M238.5 824.1 L237.9 826.6M241.9 823.6 L241.6 826.7M244.7 822.3 L245.1 826.3M248.3 823 L249.7 827.4M251.3 824.1 L253.9 824.9M251.3 824.1 L249.7 827.4M251.3 824.1 L252.9 827.2M253.9 824.9 L252.9 827.2M256.2 824.4 L252.9 827.2M256.2 824.4 L257.7 826.1M261 824.6 L257.7 826.1M261 824.6 L259.1 826.3M241.6 826.7 L242.6 830M245.1 826.3 L249.7 827.4M245.1 826.3 L242.6 830M245.1 826.3 L244.3 830.6M245.1 826.3 L247 828.5M249.7 827.4 L252.6 830.2M249.7 827.4 L249.5 832.2M252.9 827.2 L255.8 830.2M257.7 826.1 L259.1 826.3M238.4 830.9 L242.6 830M238.4 830.9 L241.8 831.6M242.6 830 L247 828.5M242.6 830 L241.8 831.6M244.3 830.6 L247 828.5M244.3 830.6 L241.8 831.6M250.5 829.5 L252.6 830.2M252.6 830.2 L248.4 831.9M252.6 830.2 L249.5 832.2M252.6 830.2 L252.8 833.3M255.8 830.2 L258.8 830.9M258.8 830.9 L261.8 831.8M243.7 833 L240.7 836.5M243.7 833 L244.7 835.5M248.4 831.9 L249.5 832.2M248.4 831.9 L252.8 833.3M248.4 831.9 L250.1 834.8M248.4 831.9 L252.4 834.4M249.5 832.2 L252.8 833.3M249.5 832.2 L250.1 834.8M249.5 832.2 L252.4 834.4M252.8 833.3 L248.6 834.9M252.8 833.3 L256.9 835.3M260.2 832.6 L261.8 831.8M260.2 832.6 L256.9 835.3M260.2 832.6 L259.1 836M239.6 836.9 L240.7 836.5M239.6 836.9 L239.8 838.8M239.6 836.9 L242.1 838.9M239.6 836.9 L241 841M240.7 836.5 L244.7 835.5M240.7 836.5 L239.8 838.8M240.7 836.5 L241 841M244.7 835.5 L248.6 834.9M248.6 834.9 L252.4 834.4M248.6 834.9 L245.3 838.3M250.1 834.8 L252.4 834.4M250.1 834.8 L249.5 839.6M252.4 834.4 L256.9 835.3M252.4 834.4 L255.9 837.6M256.9 835.3 L259.1 836M259.1 836 L255.9 837.6M259.1 836 L260 840.4M239.8 838.8 L242.1 838.9M239.8 838.8 L241 841M242.1 838.9 L245.3 838.3M242.1 838.9 L241 841M242.1 838.9 L245.8 840.6M245.3 838.3 L245.8 840.6M249.5 839.6 L245.8 840.6M241 841 L243.8 843.7M245.8 840.6 L243.8 843.7M245.8 840.6 L247.7 844.1M260 840.4 L259.8 844.9M243.8 843.7 L247.7 844.1M243.8 843.7 L242.9 848M243.8 843.7 L243.7 846.7M247.7 844.1 L251.9 845.3M247.7 844.1 L243.7 846.7M247.7 844.1 L246.4 848.3M251.9 845.3 L251.5 846.5M251.9 845.3 L250.8 849.6M259.8 844.9 L257.4 848.5M259.8 844.9 L259 848.5M259.8 844.9 L262.3 847.4M242.9 848 L246.4 848.3M243.7 846.7 L241.7 850.1M246.4 848.3 L244.9 851.2M251.5 846.5 L253.8 847.4M251.5 846.5 L248.9 850M253.8 847.4 L257.4 848.5M253.8 847.4 L256.2 851.2M257.4 848.5 L259 848.5M257.4 848.5 L256.2 851.2M257.4 848.5 L259.1 851.9M259 848.5 L256.2 851.2M259 848.5 L262.4 850.3M241.7 850.1 L244.9 851.2M248.9 850 L247.2 853.2M256.2 851.2 L259.1 851.9M256.2 851.2 L254.6 852.7M256.2 851.2 L257 853.3M256.2 851.2 L258.6 854M259.1 851.9 L254.6 852.7M259.1 851.9 L257 853.3M259.1 851.9 L258.6 854M259.1 851.9 L263.1 853.6M262.4 850.3 L266.8 851.2M266.8 851.2 L263.1 853.6M257 853.3 L258.6 854M258.6 854 L263.1 853.6M261.7 765.7 L262.5 768.4M261.7 765.7 L261.3 770.8M262.5 768.4 L265.8 769.6M262.5 768.4 L261.3 770.8M265.8 769.6 L270.3 769.1M265.8 769.6 L261.3 770.8M278.2 768.2 L278 772.6M263.9 771.8 L261.8 776.2M263.9 771.8 L266.8 775M271.1 772.4 L266.8 775M278 772.6 L273.3 774.8M278 772.6 L278.2 774.5M259 775.8 L259.5 778M259 775.8 L262.8 778.7M261.8 776.2 L266.8 775M261.8 776.2 L259.5 778M261.8 776.2 L262.8 778.7M261.8 776.2 L264.9 777.8M261.8 776.2 L259.3 780.8M266.8 775 L271.6 774.8M266.8 775 L264.9 777.8M271.6 774.8 L273.3 774.8M271.6 774.8 L274.2 778.7M259.5 778 L262.8 778.7M259.5 778 L259.3 780.8M259.5 778 L261.8 782.1M262.8 778.7 L267.1 778.1M262.8 778.7 L259.3 780.8M262.8 778.7 L261.8 782.1M262.8 778.7 L265 781.5M264.9 777.8 L267.1 778.1M274.2 778.7 L273.5 782.7M261.8 782.1 L266 784.9M273.5 782.7 L270.7 786.1M278.7 781.5 L280.2 781.3M258.7 789.7 L257.5 793.5M272.6 787.3 L271.2 790.2M271.2 790.2 L274 792.5M271.2 790.2 L270.8 794.6M270.8 794.6 L272.8 796.8M265.1 797.7 L263.5 801.7M267.4 809.5 L264.1 811.2M264.1 811.2 L268.4 811.7M266.3 818.1 L264.7 822.5M266.3 818.1 L270.7 821.1M267.4 824.8 L270.2 823.2M267.4 824.8 L265.1 828.1M267 829.9 L272 830.5M268.6 835.9 L264.5 836.7M268.6 835.9 L267.1 838.3M274.9 833.5 L273.8 838.2M276.8 835.1 L278.7 838.5M264.5 836.7 L267.1 838.3M264.5 836.7 L264.3 841.2M267.1 838.3 L270.2 839.1M270.2 839.1 L273.8 838.2M273.8 838.2 L278.7 838.5M278.7 838.5 L277.6 841.8M281.9 841.2 L278 844.5M267.1 848.9 L271 852.3M271 852.3 L272.6 854.8M271 852.3 L274.1 854.2M272.6 854.8 L274.1 854.2M272.6 854.8 L276.8 853.9M274.1 854.2 L276.8 853.9M276.8 853.9 L280.5 854.8M280.5 854.8 L278.4 858.2M280.5 854.8 L280 857.5M280.5 854.8 L284.6 857.5M278.4 858.2 L280.2 860.4M280 857.5 L284.6 857.5M280 857.5 L284.8 859.6M284.6 857.5 L280.2 860.4M292.6 858.9 L288.6 861.7M292.6 858.9 L295.6 861.7M288.6 861.7 L289.8 864.5M288.1 863.8 L289.8 864.5M245.4 855.4 L248.8 857.2M245.9 861.9 L244.4 863M245.9 861.9 L246.6 862.8M251.7 860.9 L254.2 860M260.1 861.5 L262.8 862.1M260.1 861.5 L256 863.2M280.2 860.9 L282.5 862.3M287 862.3 L288.6 859.5M274.4 863.2 L272.8 867.1M275.9 864.4 L272.8 867.1M288.7 863.8 L291.2 865.3M299.3 864.4 L302.4 865.4M299.3 864.4 L297 868.7M299.3 864.4 L301.7 867.9M302.4 865.4 L304.9 863.1M302.4 865.4 L301.7 867.9M302.4 865.4 L301.3 869.7M260.8 868.3 L263.9 868.4M260.8 868.3 L262.6 872.5M263.9 868.4 L267.1 870.9M263.9 868.4 L262.6 872.5M275.7 866.2 L277.6 869.4M275.7 866.2 L279 869.1M281.9 868.5 L283.8 869.9M281.9 868.5 L283.8 872.5M297 868.7 L293.9 871.9M297 868.7 L301.3 869.7M301.7 867.9 L304.4 868.2M301.7 867.9 L298.3 871.3M267.1 870.9 L262.6 872.5M267.1 870.9 L266.8 873.8M279 869.1 L275.4 872.4M283.8 869.9 L285.9 870.1M289.7 870.4 L291.3 872.4M293.9 871.9 L298.3 871.3M293.9 871.9 L291.3 872.4M298.3 871.3 L301.3 869.7M298.3 871.3 L295.4 874.8M298.3 871.3 L299.4 872.9M301.3 869.7 L305.1 870.9M253 874 L256.6 875M253 874 L252.7 877.9M256.6 875 L259.2 875.1M259.2 875.1 L263.2 877.8M262.6 872.5 L266.8 873.8M275.4 872.4 L278.9 875.5M283.8 872.5 L285.7 875.9M287 874.4 L291.3 872.4M263.2 877.8 L265.7 877.2M285.7 875.9 L286.6 879.5M254.6 881.2 L258.4 879.1M260.1 879.5 L262.8 880.8M260.1 879.5 L259.7 883.8M270.6 880.9 L273.4 885.1M288.4 880.5 L285.8 884.6M292.5 880.2 L294.6 882.6M282.1 884.5 L279.8 886.6M282.1 884.5 L282.7 887.5M285.8 884.6 L282.7 887.5M303.1 883.6 L299.7 885.2M303.1 883.6 L302.1 887.5M265.9 885.5 L266.2 889.7M279.8 886.6 L282.7 887.5M279.8 886.6 L283.1 889.9M282.7 887.5 L283.1 889.9M294.4 887.4 L293.6 889.5M299.7 885.2 L302.1 887.5M302.1 887.5 L304.3 892M305.9 885.8 L307.7 888.9M261.2 889.1 L266.2 889.7M261.2 889.1 L265.6 891.6M266.2 889.7 L270.2 889.5M266.2 889.7 L265.1 891.7M270.2 889.5 L265.6 891.6M278.3 889.3 L283.1 889.9M278.3 889.3 L280.1 893.7M283.1 889.9 L280.1 893.7M283.1 889.9 L286.7 893.5M293.6 889.5 L291.9 893M305 891.1 L307.7 888.9M305 891.1 L304.3 892M307.7 888.9 L312.3 890.2M307.7 888.9 L304.3 892M312.3 890.2 L310.3 893.9M265.1 891.7 L265.6 891.6M265.1 891.7 L264.9 895.9M265.6 891.6 L264.9 895.9M273.4 892.9 L270.1 896.4M273.4 892.9 L277.1 894.7M280.1 893.7 L277.1 894.7M280.1 893.7 L277.8 898.2M286.7 893.5 L289.2 892.1M289.2 892.1 L291.9 893M310.3 893.9 L312.6 898.4M270.1 896.4 L274.2 899.4M273.2 896.8 L277.1 894.7M277.1 894.7 L277.8 898.2M295.1 895.9 L299 895.4M271 899.3 L274.2 899.4M271 899.3 L272.5 902.2M274.2 899.4 L277.8 898.2M280.7 900.2 L282.7 900.6M280.7 900.2 L277.6 902.3M282.7 900.6 L283.4 902M282.7 900.6 L287.3 901.4M312.6 898.4 L315.8 898.1M272.5 902.2 L275.3 904.7M277.6 902.3 L275.3 904.7M277.6 902.3 L279.3 904.7M283.4 902 L287.3 901.4M304.2 902.3 L307.8 901.8M304.2 902.3 L305.2 904.5M311.7 901.5 L312.3 905.7M323.1 903.3 L325.9 905M330.3 902.6 L327.9 905.7M275.3 904.7 L279.3 904.7M279.3 904.7 L282.4 907.1M282.4 907.1 L285.5 909.2M289.4 906.8 L285.5 909.2M289.4 906.8 L289.7 909.6M298.8 905.4 L298.1 908.9M298.8 905.4 L301 908.6M312.3 905.7 L311 908.4M327.9 905.7 L328.1 910.2M282.8 910.1 L283.2 912.7M285.5 909.2 L283.2 912.7M289.7 909.6 L293.4 908.1M293.4 908.1 L298.1 908.9M295.5 909.9 L291.3 912.1M298.1 908.9 L298.8 911M301 908.6 L305.5 909.8M305.5 909.8 L304.7 914.7M313.8 910.3 L315.9 913.1M313.8 910.3 L318.4 912M318.1 909 L315.9 913.1M318.1 909 L318.4 912M328.1 910.2 L330.6 911.8M283.2 912.7 L284.8 912.3M283.2 912.7 L286.4 914.1M284.8 912.3 L286.4 914.1M315.9 913.1 L318.4 912M315.9 913.1 L311.7 914.4M318.4 912 L321.3 914.1M336.2 913.5 L335.3 915.7M311.7 914.4 L308.6 917.4M311.7 914.4 L310.3 918.2M313.6 915.5 L310.3 918.2M328.5 916.2 L328.1 919.2M335.3 915.7 L337.4 919.5M297.9 919.1 L298.6 921.8M297.9 919.1 L301.8 921.8M308.6 917.4 L310.8 920.7M310.3 918.2 L310.8 920.7M328.1 919.2 L327.3 922.2M337.4 919.5 L333.5 920.8M337.4 919.5 L341.6 920.3M342.7 919.4 L346.3 918.5M352.6 919.7 L352 920.9M298.6 921.8 L303.4 923.5M301.8 921.8 L303.4 923.5M306.1 921.6 L303.4 923.5M306.1 921.6 L305.7 925.4M310.8 920.7 L313.5 922.9M327.3 922.2 L323.7 925.5M327.3 922.2 L329.1 925.6M331.5 922.7 L333.5 920.8M331.5 922.7 L335.1 925.9M348.8 922.6 L345.8 924.4M348.8 922.6 L353.1 925.1M360.8 921.9 L362.6 922.7M362.6 922.7 L357.9 923.6M296.9 925 L299.9 924.4M305.7 925.4 L309.1 923.8M309.1 923.8 L311.1 927.3M323.7 925.5 L325.8 928.2M323.7 925.5 L326.7 928.7M329.1 925.6 L325.8 928.2M335.1 925.9 L337.2 925.8M345.8 924.4 L348.8 925.9M345.8 924.4 L344.8 927.4M348.8 925.9 L347 927.3M353.1 925.1 L354.3 927.1M353.1 925.1 L356.8 928.4M357.9 923.6 L354.3 927.1M311.1 927.3 L315.1 926.8M341.2 927.3 L344.8 927.4M344.8 927.4 L341.9 931.2M344.8 927.4 L346.5 930.4M354.3 927.1 L352.7 930.3M354.3 927.1 L356.1 930M356.8 928.4 L359.1 929.5M356.8 928.4 L352.7 930.3M381.1 928.8 L379.2 933.6M337.2 931.9 L336.7 933.6M341.9 931.2 L346.5 930.4M352.7 930.3 L356.1 930M367.3 930.2 L370.1 932.2M367.3 930.2 L365.9 934.8M367.3 930.2 L368.2 933.2M370.1 932.2 L365.9 934.8M375.3 932.7 L375.9 935.3M375.3 932.7 L379.2 933.6M388.1 931.2 L390.9 931.8M388.1 931.2 L388.1 935.3M390.9 931.8 L388.1 935.3M336.7 933.6 L334.3 937M347.2 935.7 L349 935.3M347.2 935.7 L343.4 937.5M349 935.3 L349.6 938.2M365.9 934.8 L365.2 937.7M375.9 935.3 L379.2 933.6M375.9 935.3 L377.7 939.9M379.2 933.6 L382.7 934.8M379.2 933.6 L380.8 938.4M382.7 934.8 L384.5 933.4M382.7 934.8 L380.8 938.4M384.5 933.4 L388.1 935.3M384.5 933.4 L387.4 937.3M391.6 933.9 L394.6 936.8M357.7 938.1 L355.5 940.3M365.2 937.7 L367.1 939.5M371.7 938.3 L367.1 939.5M371.7 938.3 L368.9 939.5M394.6 936.8 L392.8 941.3M349.9 940.5 L349.8 942.7M355.5 940.3 L355.8 943.6M363 940.3 L367.1 939.5M363 940.3 L363.2 943M373.5 941.3 L377.7 939.9M373.5 941.3 L370.1 944.5M392.8 941.3 L394.7 942.1M394.7 942.1 L398.5 943.3M403.7 941.5 L408.6 940.9M363.2 943 L360.1 946.5M407.3 943.9 L403.9 946.8M421 943.9 L424.9 946.1M429.9 944.8 L433.3 943.9M433.3 943.9 L437.9 944.3M433.3 943.9 L438.4 944.2M433.3 943.9 L432 948.1M437.9 944.3 L435.5 946.6M438.4 944.2 L435.5 946.6M438.4 944.2 L439.5 948M379.4 946.2 L382.9 947.7M382.9 947.7 L385 948M382.9 947.7 L386.6 950.1M385 948 L388.7 946.3M388.7 946.3 L392.4 947.8M403.9 946.8 L408.5 947.2M408.5 947.2 L407.7 951M414.8 946.2 L416.8 950.1M420.8 947.5 L424.9 946.1M420.8 947.5 L416.8 950.1M435.5 946.6 L439.5 948M386.6 950.1 L389.2 950.8M389.2 950.8 L393 951.5M393 951.5 L391.5 953.2M393 951.5 L394.5 953.1M407.7 951 L404.3 954.3M416.8 950.1 L420.4 950M419.5 957.6 L420.5 960.5M424.6 956.2 L425 960.9M432.3 958.2 L430 961.1M432.3 958.2 L436.5 959M420.5 960.5 L425 960.9M303.2 878.8 L320.4 885.7 L337.6 887.4 L341 892.6 L327.2 896 L313.5 899.4 L306.6 892.6 L303.2 878.8M310 902.9 L330.7 901.2 L337.6 906.3 L323.8 909.8 L313.5 908M346.1 889.1 L342.7 899.4 L344.4 913.2 L351.3 920.1 L354.7 906.3 L356.5 896 L351.3 890.9 L346.1 889.1M356.5 896 L361.6 892.6 L371.9 894.3 L368.5 899.4 L358.2 902.9 L359.9 909.8 L371.9 906.3 L380.5 904.6 L378.8 909.8 L365.1 914.9 L361.6 920.1 L371.9 927 L385.7 927 L389.1 933.8M235.6 736.9 L234.5 739M241.8 738 L244.8 740.8M241.8 738 L243.3 742.4M247.5 737.1 L244.8 740.8M247.5 737.1 L248.9 739.1M244.8 740.8 L248.9 739.1M244.8 740.8 L243.3 742.4M244.8 740.8 L244.3 745.3M243.3 742.4 L244.3 745.3M252 743.4 L253.9 745.4M253.9 745.4 L257.6 746.6M257.6 746.6 L261.3 747.6M257.6 746.6 L257.3 750.1M261.3 747.6 L264 751.9M271.8 759.7 L274.1 763.2M269 762.1 L271.2 766.2M274.1 763.2 L275 766.6M271.2 766.2 L275 766.6M281 770.4 L282.5 771.7M281 770.4 L283.4 771.5M287.3 770.5 L283.4 771.5M275.9 771.8 L276.8 772.8M282.5 771.7 L283.1 775.9M283.4 771.5 L288.5 772.1M283.1 775.9 L288.3 776.1M288.3 776.1 L289.7 774.7M275.3 780.5 L279 778.2M279 778.2 L281.5 777.8M279 778.2 L279 781.6M588.7 859.5 L594.4 858.3 L601.3 857.2 L609.3 856 L617.3 855.5M594.4 864.6 L600.1 861.8 L605.8 860.1 L610.4 858.3M574.9 864.6 L580.6 866.9 L587.5 868.1M577.2 867.5 L582.9 870.4 L588.7 870.9M640.2 856 L647.1 857.2 L654 858.3M639.1 859.5 L647.1 860.1 L655.1 860.6M624.2 856 L619.6 862.9 L615 867.5 L610.4 870.9 L608.1 876.7 L611.6 877.8 L613.9 873.2 L619.6 874.4 L624.2 870.9 L628.8 869.8 L633.4 868.1 L640.2 869.8 L641.4 871.5 L637.9 870.9M621.9 854.3 L613.9 863.5 L608.1 868.1 L603.6 868.7" stroke="#000" stroke-width="2.1" fill="none" stroke-linejoin="round" stroke-linecap="round"/>
<path d="M270.1 627.6 L277.7 626.3 L283.3 628.9 L284.6 633.9 L283.3 638.3 L278.9 642.1 L277.7 646.5 L282.1 650.9 L284.6 655.3 L282.1 659.1 L278.9 662.2 L272.6 663.5 L265.7 663.5 L262.6 661.6 L263.8 656.6 L267 651.5 L267.6 646.5 L267 640.2 L268.2 633.9ZM232.7 744.7 L241.3 739.5 L251.6 736.1 L253.3 741.3 L243 746.4 L234.4 748.1ZM571.5 862.9 L574.9 861.2 L579.5 864.1 L586.4 864.6 L592.1 861.8 L588.7 859.5 L587.5 853.8 L590.9 851.5 L595.5 852.6 L602.4 852 L609.3 850.9 L616.2 851.5 L619.6 853.8 L620.7 857.2 L617.3 859.5 L613.9 861.2 L609.3 864.6 L605.8 867.5 L599 868.1 L593.2 869.8 L589.8 873.2 L585.2 873.2 L580.6 870.4 L577.2 867.5 L572.6 865.8ZM624.2 856 L627.6 852.6 L633.4 851.5 L640.2 852 L647.1 853.8 L654 854.3 L656.8 857.2 L656.3 861.2 L651.7 862.3 L646 862.9 L642.5 864.6 L640.2 866.9 L635.6 867.5 L631.1 865.8 L627.6 862.9 L625.3 859.5Z" stroke="#000" stroke-width="2.1" fill="none" stroke-linejoin="round"/>
<path d="M127.8 259.4 L127.6 259.9 L127.1 260.2 L126.6 260 L126.1 259.7 L126.4 259.2 L126.6 258.8 L127.1 258.5 L127.6 258.9ZM132.9 261.3 L132.5 261.9 L132 262.1 L131.4 262.2 L131.1 261.6 L131.1 261 L131.4 260.5 L132 260.3 L132.7 260.6ZM112.5 435 L112.1 435.9 L111.3 436.5 L110.1 436.5 L109.6 435.5 L109.5 434.5 L110.1 433.5 L111.3 433.5 L112.2 434ZM159.1 433 L158.7 433.9 L157.4 434.4 L156 434.1 L154.8 433.5 L154.8 432.5 L156 431.9 L157.4 431.6 L158.7 432.1ZM275.1 545.8 L274.7 546.6 L274 547.2 L273.1 546.8 L272.5 546.2 L272.3 545.3 L273.1 544.8 L273.9 544.8 L274.8 544.9ZM275.2 545.8 L274.8 546.8 L273.9 547.2 L272.8 547.2 L272 546.4 L272.2 545.3 L272.9 544.4 L273.9 544.6 L274.9 544.8ZM246.8 699.3 L246.5 700.6 L245.3 701.1 L243.7 701.4 L242.9 700.1 L243.2 698.7 L243.9 697.4 L245.3 697.5 L246.3 698.2ZM256.7 669.8 L256.4 671.3 L255 671.8 L253.6 671.6 L253.1 670.4 L252.6 669.1 L253.6 668 L255.1 667.6 L255.9 668.8ZM254.4 694.1 L253.8 695 L253 695.8 L251.7 695.7 L251 694.7 L251.2 693.5 L251.7 692.3 L253 692.3 L253.9 693.1ZM293.3 638.3 L293.1 639.6 L291.8 640.1 L290.5 640.1 L290.2 638.8 L290.2 637.8 L290.6 636.6 L291.8 636.6 L293.1 637ZM289.5 647.1 L288.7 648 L288 648.6 L287 648.4 L286.2 647.7 L286 646.5 L287 645.8 L288 645.6 L288.9 646.2ZM284 643.3 L283.4 644.4 L282.4 645.1 L281.1 645.1 L280.6 643.9 L280.6 642.8 L281.4 642.1 L282.4 641.5 L283.7 642ZM298 648.4 L297.4 649.1 L296.8 649.6 L296 649.3 L295.2 648.9 L295.2 647.9 L296 647.5 L296.8 647 L297.5 647.6ZM257.2 669.8 L256.9 670.8 L255.9 671.3 L254.6 671.5 L254 670.4 L253.6 669.1 L254.6 668 L255.9 668 L256.8 668.8ZM306.4 633.9 L306 634.9 L305.1 635.7 L303.9 635.3 L303.1 634.5 L303.4 633.4 L304.1 632.7 L305.1 632.2 L305.8 633ZM309.3 638.9 L308.7 639.6 L308.2 640.4 L307.2 640.2 L306.5 639.4 L306.7 638.5 L307.2 637.7 L308.1 637.5 L308.8 638.1ZM490.7 934.8 L498.7 932.8 L513.6 932.3 L514.1 934.8 L503.6 937.3 L492.5 938.3ZM274.7 680.1 L274.1 678.5 L277 676 L279.5 674.5 L281.2 675.1 L279.3 678.1 L276.4 680.8ZM270.3 683.4 L269.3 681.9 L269.3 679.6 L270.6 678 L272.2 678.1 L272.4 680.3 L271.6 682.1ZM273.3 681.8 L272.8 680.6 L272.9 679.2 L274 678.5 L275.1 678.9 L275.4 680.2 L274.6 681.4ZM276.7 682.5 L275.9 681.2 L276.2 678.2 L277.7 675.5 L278.8 676.5 L279.3 678.8 L278.1 681.8ZM273.9 682.6 L272.8 683.8 L271.3 683.7 L271 682.1 L271.7 680.6 L273.2 680 L274.2 681.1ZM276.9 686.4 L275 685.8 L273.5 684.7 L273.4 682.8 L274.9 682.4 L276.3 682.9 L277.7 684.6ZM263.8 687.9 L263 687 L263.6 684.7 L264.7 684.1 L265.5 684.1 L265.7 685.5 L264.8 686.9ZM268.9 685.9 L269.6 684.7 L271.1 684.4 L272.1 684.6 L272.5 685.3 L271.8 686.4 L270 686.6ZM274.2 689 L272.9 688.1 L273.7 686.5 L274.8 685.1 L276.2 685.9 L276.4 687.6 L275.4 688.8ZM277.8 687.5 L276.7 687.4 L275.6 685.5 L276.1 684.2 L276.8 683.8 L277.7 684.9 L278.3 686.6ZM279.9 687.6 L278.9 687.9 L277.7 687.3 L277.2 686.1 L277.9 685.3 L279.1 685.8 L279.6 686.6ZM266.2 690.9 L265 692.4 L263.7 691.6 L262.6 690.6 L263.5 688.9 L264.8 688.7 L266.2 689.1ZM268.1 692.2 L266.9 691.5 L265.8 690.6 L265.3 689.1 L266.1 688.7 L267.3 689.6 L268.2 691.1ZM275.4 689.7 L274.3 690.8 L271.6 690.9 L269.3 689.9 L270.2 688.8 L271.7 687.8 L274.8 688.3ZM281.7 690.4 L280.3 691.3 L277.7 690.5 L277.1 689.1 L276.8 687.7 L278.9 687.4 L281.3 688.8ZM259 695.5 L259.1 693.6 L259.8 692.3 L261.2 691.9 L262.1 692.6 L262.1 694.1 L260.8 695.4ZM264.9 691.9 L265.4 690.7 L266.9 689.7 L268.6 690.2 L268.7 691.6 L267.6 692.7 L265.9 693ZM269.6 692.9 L269.7 691.8 L271.1 690.8 L272.6 691.2 L273.2 692.5 L272.2 693.8 L270.5 693.6ZM277.5 693.2 L276.5 692.4 L275.5 690.9 L276.2 689.4 L277.3 689.5 L278.2 690.6 L278.4 692.2ZM254.8 699.4 L255.5 696.9 L256.6 695 L258.5 693.8 L259.5 694.8 L258.9 696.8 L257.2 699.3ZM260 698.2 L259.6 696.8 L260.6 694.9 L262.1 694.7 L262.8 695.4 L263.3 697 L261.5 698.6ZM266.1 696.2 L265.4 697.7 L262.8 697.6 L261.9 695.9 L261.9 694.3 L263.9 693.6 L266.2 694.6ZM267.6 696.3 L266.9 695.2 L267.2 693.5 L268.6 692 L269.7 693.1 L270.3 694.8 L268.9 696ZM274 695.8 L272.7 696 L272 694.5 L272.4 693.2 L273.6 692.3 L274.8 693.5 L275.3 695.1ZM260.2 700.4 L258 699.5 L257.6 696.3 L259.2 694.9 L260.7 694.5 L262.3 696.1 L261.6 698.7ZM264.4 699.8 L265.9 698.5 L267.8 698.3 L269.9 698.9 L269.6 700.5 L267.8 701.3 L265.6 701.2ZM272.3 699.1 L271.4 698.6 L271.5 696.8 L272.4 695.3 L273.6 695.5 L274 697.2 L273.2 698.6ZM274.8 701.6 L274.7 699.5 L275.5 697.4 L277 695.9 L277.9 696.6 L278.1 698.6 L276.5 700.2ZM278.5 699.3 L279.2 698.3 L280.5 697.9 L281.8 698.2 L281.6 699.2 L281 700.3 L279.6 699.9ZM259.9 703.1 L259 703.2 L258 702.2 L257.1 700.6 L258.1 700 L259.5 700.9 L260.2 702.2ZM260.3 704.1 L259.5 703.4 L259.1 702.1 L259.6 701.1 L260.3 701 L261.3 701.7 L261.3 703.6ZM266.1 704 L264.5 703.8 L262.7 703.6 L262.3 701.8 L263.5 701.2 L264.7 701.4 L266 702.4ZM268 702.5 L266.7 701.9 L265.9 700.4 L265.3 698.6 L266.5 698.3 L267.5 699.7 L268 701ZM271.1 702.8 L269.5 702.7 L267.6 701.5 L267.6 699.6 L268.4 698.3 L270.3 699.5 L271.1 701.2ZM271.7 702.9 L271.5 700.6 L274.7 699.7 L277.8 698.9 L278.4 701.1 L276.2 703 L273.7 703.6ZM278.8 705.3 L277.2 704.8 L275.4 703.1 L275.5 701.4 L276.2 700.5 L277.6 701.8 L278.8 703.6ZM276.4 703.1 L277 702 L279.4 701.5 L281.3 701.9 L281.9 703 L279.8 704.1 L277.1 704.1ZM261.5 707.6 L260 706.5 L259.5 704 L260.6 702 L262 702.8 L263.3 704 L263.1 706.8ZM264 705.6 L263.7 704.3 L264.4 703.1 L265.6 702.5 L266.4 703.3 L266.5 704.7 L265.2 705.2ZM265.8 705.1 L266.4 703.7 L267.4 702.7 L268.9 702.9 L270 703.9 L268.8 705.3 L267.2 705.6ZM269.2 705.4 L268.7 704 L269.4 702.7 L270.8 702.1 L272 703.1 L271.7 704.6 L270.7 705.6ZM275.9 707.1 L275.4 705.9 L275.4 704.4 L276.9 703.5 L278 704.7 L278 706 L277.4 707.6ZM283.5 706.4 L282.1 706.8 L280.5 706.2 L279 705.3 L279.1 704.2 L281.1 704.4 L282.8 705.2ZM280.1 707.2 L280.2 705.5 L281.3 704.4 L283.2 703.7 L284.1 705.3 L283.6 707.2 L281.6 708ZM260.7 710 L259 710.8 L256.5 709.6 L254.6 708 L255.8 707.1 L257.7 707.2 L259.6 708.3ZM260 709.9 L259.2 708.9 L258.8 707 L259.7 705.6 L260.9 705.8 L261.7 707.3 L261.1 709.1ZM264.5 708.2 L263.9 707.8 L263.7 706.8 L263.8 705.5 L264.6 705.8 L265.4 706.4 L265.4 708.1ZM264.1 709.4 L263.4 707.5 L264.9 704.9 L267.3 704 L268.2 705.6 L267.8 707.5 L266.1 709.4ZM273.4 709.5 L271.5 710.5 L269.8 709.8 L269.2 708 L270 706.1 L271.9 706.4 L273 707.5ZM272.6 709.9 L271.8 708.5 L271.5 706.6 L272.8 705.1 L274.3 705.3 L275 707.2 L273.9 709.2ZM275.8 709.4 L275 708.9 L275.1 707.2 L275.9 706.4 L276.7 706.3 L277.4 707.5 L276.7 708.9ZM277.5 710.1 L277 708.6 L277.7 707.1 L278.6 706.1 L279.5 706.7 L279.7 707.9 L278.9 709.1ZM284.7 709.5 L283.6 710.4 L280.8 709.5 L279.1 707.6 L279.3 706 L282.2 706.3 L284.1 708.2ZM258.6 711 L259.1 709.7 L261.3 708.2 L263.4 708.8 L264.2 710 L262.3 711.6 L259.6 712.1ZM262.6 713 L261.6 712.4 L262 711 L263.1 710.3 L263.9 711.2 L264.1 712.1 L263.7 713.4ZM266.6 713.9 L265.8 713 L265.7 711.4 L266.3 709.7 L267.5 710.1 L268.3 711.5 L267.6 713.2ZM269.1 710.8 L269.8 709.4 L272 709.1 L273.9 709.7 L274.1 711.1 L272.1 711.7 L270.3 711.8ZM273 712.2 L272.4 710.8 L272.4 709.5 L273.2 708.2 L274.4 708.9 L275.2 710.1 L274.6 711.8ZM274.8 713.3 L274.1 711.5 L273.8 709.2 L275.4 708.1 L276.9 708 L277.3 710.2 L276.2 712.1ZM278.6 711 L278.6 709.9 L280.2 708.5 L281.8 709.1 L283 709.9 L281.5 711.5 L279.2 712.2ZM286.7 710.1 L285.9 711.9 L282.9 711.8 L281.2 709.9 L281.4 707.8 L284.1 707.9 L287 708.1ZM254.5 715 L255.1 712.6 L257.3 710.9 L259.5 710.5 L261.2 711.5 L259.2 713.6 L256.9 715.6ZM266 715.2 L264.5 714.8 L263.6 713.2 L263.4 710.9 L265.3 711.1 L266.7 712.2 L267.9 714.4ZM267.3 714.9 L265.6 715 L264.7 713.3 L265.5 711.8 L266.8 711.4 L268.5 711.9 L268.4 713.8ZM271.9 714.2 L270.7 715.3 L268.6 715.4 L266.9 714.1 L267.2 712.6 L269.1 711.7 L271 712.8ZM277.1 715.4 L276.1 714.2 L276.2 712.2 L276.7 710.4 L277.7 710.8 L278.1 712.3 L278.2 714.2ZM283.1 714.1 L282.3 714.9 L280.4 715.1 L278.7 714.2 L278.9 713.1 L280.5 712.3 L283 712.8ZM279.4 713.4 L279.9 711.8 L282.2 711 L283.9 711.8 L284.8 713.3 L282.7 714.4 L280.3 714.8ZM286.3 716.2 L285.5 715.4 L285.7 713.6 L286 711.7 L286.8 712.4 L287.2 713.7 L287.2 715.5ZM292.2 716.2 L290 716.5 L287.9 716.4 L286.5 714.9 L286.5 713.4 L288.9 713.6 L290.5 714.7ZM261.2 716.6 L260.6 717.4 L258.8 717.3 L257.8 716.5 L257.6 715.7 L259 715.1 L260.8 715.7ZM265.7 716.5 L263.8 717.9 L261 717.5 L258.6 715.9 L259.5 713.9 L262 713.3 L264.7 714.3ZM265.9 717.8 L265.3 719 L263.8 719.3 L262.9 718.3 L263.1 717.1 L264.1 716.7 L265.1 716.9ZM270.8 719.9 L269.4 720 L267.8 718.2 L267 716.8 L267.6 716.3 L269.1 716.6 L270.3 718.4ZM273.4 717.8 L272 718.5 L270.2 717 L269.3 715 L270.7 714.5 L272.5 714.4 L273.5 716.4ZM274.5 715.9 L273.6 716.9 L272.1 717.1 L270.8 716 L271 714.5 L272.6 714 L274.4 714.3ZM277 719.4 L276.5 718.3 L277.4 717 L279.1 716 L280 717.1 L279.6 718.9 L278.1 720ZM279.5 718.4 L279 716.8 L280.5 715.5 L282.4 715.1 L283 716.7 L282.7 718.4 L280.9 718.8ZM286.5 717.1 L285.7 716.5 L286 715.2 L287 714.6 L287.9 715.1 L288.3 716.2 L287.6 717.4ZM291.1 716.3 L290.7 718.1 L288.2 718.3 L286.7 716.7 L286.7 715 L288.7 714.5 L291 714.5ZM259.2 721.4 L259.7 720.1 L261.2 718.9 L262.7 719 L263.1 719.9 L262.3 721.1 L260.6 721.7ZM270.8 721 L269.5 721.3 L268.5 718.9 L269.1 717.5 L269.9 716.6 L271 718.2 L272 720.4ZM272.4 724.4 L271.3 722.5 L272.6 719.1 L274.5 716.1 L275.9 717.4 L276.4 720.2 L274.3 722.8ZM278.8 720.7 L277.9 719.4 L279 717.9 L280.5 717.1 L281.7 718.1 L282.2 720.1 L280.3 721.5ZM284.1 723.5 L284.1 720.8 L284.9 718.2 L287 716.9 L288 718.1 L288.6 720.2 L286.4 722.1ZM290.4 720.9 L289.4 721 L288.5 719.4 L288.2 718.2 L288.7 717.5 L289.9 718.4 L290.4 719.7ZM260.9 723 L259.2 723.9 L256.6 723.2 L255.3 721.9 L255.1 720.5 L257.4 720.3 L259.4 721.5ZM260.1 724 L259.4 723 L259.5 721.6 L260.8 721.2 L262.2 721.5 L262.8 723.1 L261.5 724.4ZM266.9 725 L266 726 L264.2 725.7 L263.3 723.9 L264.4 722.7 L266.1 722.6 L267.5 723.7ZM270.3 724.6 L268.9 724.5 L267.1 723.4 L265.9 721.8 L266.7 721.1 L268.5 721.6 L269.7 723.1ZM277.2 724.6 L276 724.2 L276.2 721.9 L276.8 720.1 L277.9 720.7 L278.7 721.9 L278.1 723.7ZM284.9 722.3 L285.4 721.5 L286.6 721.3 L288.2 721.6 L288.2 722.9 L286.7 723.6 L285.2 723.3ZM261.6 728 L262.5 726.7 L263.6 725.2 L265.4 724.8 L265.9 725.6 L264.6 726.9 L263 727.9ZM265.9 728.1 L266 726.7 L268.4 725.7 L269.6 726.6 L270.8 727.4 L269 728.5 L267.2 728.6ZM271.1 729.1 L270.3 728.3 L269.5 726.9 L269.6 725.2 L270.5 725.4 L271.4 726.4 L271.7 728.3ZM278.9 729.2 L277.4 728.8 L276.5 727 L276.1 725.1 L277.4 725.3 L278.4 726 L279.3 727.6ZM281.9 728.8 L281.1 728.1 L280.7 727.2 L281.4 726.3 L282.4 726.5 L283.1 727.2 L283 728.3ZM263.9 730 L262.2 729.6 L262.2 728.1 L262.9 726.8 L264.7 726.9 L265.5 728.1 L265.4 729.4ZM269.8 730.1 L268.6 730.8 L266.9 730.6 L266.2 729.3 L266.3 728 L268 728 L269.4 728.7ZM275.2 732.6 L275.2 730.5 L276.1 728.8 L278.1 728.1 L279.1 729.8 L279.1 731.7 L277.4 732.6ZM277.3 729.5 L277.7 727.8 L278.9 726.5 L280.7 726.7 L281.5 727.9 L280.7 729.5 L278.7 730.3ZM280 730.6 L280.4 729 L282.7 727.3 L285 727.5 L285.7 728.8 L284.2 730.7 L281.6 731.1ZM271.6 734.3 L270.5 733.8 L269.9 732.6 L270 731.2 L271.2 730.9 L272.6 731.6 L272.4 733.3ZM273.6 732.2 L272.5 732.5 L271.7 731.6 L271.9 730.4 L273.1 729.8 L273.9 730.5 L274.3 731.5ZM280.3 734.2 L277.2 734 L274.5 733.1 L272.2 730.7 L273.8 729.1 L276.8 728.9 L279.4 731.4ZM283.6 732 L282.9 732.7 L281.9 732.2 L281.5 731.2 L282.2 730.5 L283.3 730.2 L283.8 731.1ZM276.5 735.5 L275.6 736.3 L273.4 736.5 L272 735.1 L272.6 734 L274.3 733.8 L276.1 734.3ZM275.5 739.1 L274.1 737.3 L274.1 734.3 L275.6 732.6 L277.2 732.7 L278.1 734.9 L277.4 737.8ZM279.9 718.4 L279.4 717.1 L281.3 714.8 L283.8 713.7 L283.8 715.4 L283.5 717.1 L281.4 718.3ZM264.5 719.4 L263.9 720.9 L261.9 721.2 L260.7 719.8 L261 718.3 L262.4 717.4 L264.3 717.9ZM265.8 721.5 L264.6 721.3 L263.7 720 L263.8 718.3 L265.2 717.9 L266.7 718.8 L266.8 720.7ZM270.9 720.4 L269.5 719.9 L268.2 718.5 L266.8 716.4 L268.3 716.7 L269.6 717.2 L270.8 719ZM276.2 721.4 L274.4 720.8 L274.6 718.7 L276.1 717.3 L277.6 718.4 L279.1 719.7 L277.7 721.2ZM281.9 719.8 L280.3 719.8 L279.5 718.2 L280 716.4 L281.8 716.3 L283.3 717.2 L282.9 718.8ZM281.5 719 L281.7 717.3 L283.8 716.7 L284.9 718.1 L285.4 719.7 L283.9 720.7 L282 720.6ZM261.7 724.1 L259 723.1 L256.4 721.2 L255.8 718.8 L256.2 716.8 L259 719 L260.6 721.3ZM262.2 727.3 L260.4 725.4 L260.1 722.2 L260.3 719.3 L262.1 718.7 L263.3 721.7 L263.3 724.8ZM274.4 721.6 L275.1 720.1 L276.8 720.3 L277.8 720.9 L278.3 722.2 L277 723.2 L275.7 722.5ZM278.8 723.7 L278.1 722.1 L279.4 720.6 L281.2 719.8 L282.8 720.8 L281.7 722.8 L280.4 724.3ZM284.2 725 L283.7 723.8 L284 722.3 L285 721.1 L286.2 720.9 L286.1 722.9 L285.5 725.1ZM258.9 727.6 L258.2 726.5 L258.7 724.4 L259.5 723 L260.5 722.7 L260.7 724.7 L259.9 726.9ZM270.9 728 L270.8 726.2 L272.9 723.6 L275 722.9 L276.7 723 L275.1 725.7 L272.7 727.8ZM275.1 725.6 L275.2 724.7 L276.2 723.7 L277.2 723.7 L277.7 724.2 L277.4 725.3 L275.8 726.2ZM277.9 728.1 L277 726.5 L276.6 724.7 L278.2 723.3 L279.9 724.3 L280.2 725.9 L279.9 727.7ZM281.4 727.4 L280.4 726.8 L279.8 725.6 L279.7 723.8 L281 723.5 L282.1 724.8 L282.4 726.6ZM283.8 726.8 L282.3 725.8 L282.6 722.9 L284.1 721.6 L285.9 720.9 L286.3 723.6 L285.5 726.2ZM259.9 729.5 L261.7 727.9 L264.1 727.2 L267.3 727.7 L267.5 730 L264.5 731.2 L261.1 731.6ZM272.5 729.6 L271.6 728.6 L271.9 726.7 L273.6 726.4 L275.2 726.5 L274.9 728.5 L273.7 729.8ZM283.1 729.3 L282 730.3 L281 729.8 L280.1 728.9 L280.9 728 L281.8 727.5 L282.8 728ZM264.1 731.9 L263 731.1 L262.7 729.4 L263.2 728 L264.4 727.6 L264.9 729.3 L265.3 731.2ZM267.9 731.9 L267.2 730.6 L266.5 729.3 L267.4 728.3 L268.2 728.3 L268.9 729.3 L268.7 730.9ZM274.7 731.6 L274.2 730.7 L274.7 729.5 L276 728.9 L276.8 730 L276.9 731.2 L275.7 731.7ZM278.3 733.1 L277.8 731.9 L278.1 730 L279.6 728.4 L280.9 729.3 L280.9 731.3 L279.6 732.8ZM280.3 733 L280.3 731.3 L280.9 729.4 L282.6 728.7 L283.9 729.1 L283.7 731.2 L281.9 732.5ZM277.5 735 L276.9 734 L277.5 732.3 L279.3 731.4 L280.4 732.6 L279.8 734.3 L278.6 735.5ZM254.7 767.4 L253.1 766.8 L251 765 L250.6 762.6 L251.6 761.3 L253.6 763.5 L254.7 765.6ZM242.5 768 L241.7 767 L241.3 765.9 L241.6 764.7 L242.5 764.5 L243 765.7 L243.5 767.3ZM244 768.8 L243.4 768.3 L243.4 767 L244 766.1 L244.7 766 L245.3 767.1 L244.8 768.5ZM248.7 768 L247.7 766.9 L246.8 765.3 L247.4 763.9 L248.4 763.4 L249.1 765.1 L249.5 766.9ZM253.5 767.9 L252.2 768.8 L249.2 768.6 L247.6 767.3 L248 766.3 L249.9 765.9 L252.5 766.6ZM255.4 767 L254.6 767.9 L252.6 767.6 L250.8 767.1 L250.8 766.1 L252.7 765.8 L254.3 766.2ZM236.1 770.4 L234.6 770.6 L233.8 769.2 L234 767.9 L235 767.3 L236.4 767.5 L236.8 769.1ZM239.2 773.9 L237.2 772.3 L236.5 769.1 L236.6 765.7 L238.5 766.7 L239.8 768.5 L240.5 771.7ZM242.5 769.3 L241.7 769.7 L240.8 769.6 L240.1 768.7 L240.6 767.7 L241.8 767.6 L242.4 768.4ZM242.6 769.8 L243.8 769.2 L245.3 768.8 L246.6 769.4 L246.7 770.2 L245.3 770.9 L243.9 770.4ZM249.9 770.4 L248.9 771.2 L247.9 770.2 L247.4 768.9 L248.5 768.2 L249.9 768.1 L250.1 769.5ZM249.7 769.6 L249.6 768.8 L250 767.7 L251.2 767.5 L251.7 768.4 L251.4 769.4 L250.4 769.8ZM255.5 771.1 L253.2 771.6 L252.7 768.7 L253.1 766.6 L254.9 765 L256.8 767.3 L256.6 769.6ZM255.7 770.9 L256.1 770.1 L257.2 769.3 L258.4 769.8 L258.6 770.8 L257.8 771.7 L256.5 771.5ZM243.5 774.9 L242.6 774.5 L242.8 773.4 L243.4 772.6 L244.4 772.9 L245.1 773.8 L244.3 774.7ZM248.2 773.1 L247.3 773.9 L246.4 772.9 L245.9 771.7 L247 771 L248.2 771.1 L248.8 772.2ZM249.9 776 L249.7 774.4 L250.8 772.2 L252.5 770.4 L253.7 771 L253.1 773.5 L251.5 775.4ZM253.1 774.8 L252.5 773.5 L253.5 771.1 L255.5 770.1 L256.4 771.2 L256.3 773.2 L254.5 774.6ZM256.5 775.5 L255.8 774.3 L255.3 773.1 L256.2 772.2 L257.5 771.9 L258 773.3 L257.7 774.8ZM238.8 776.8 L238.8 775.1 L241.8 774 L244.1 774.8 L244.2 776.3 L242.7 778 L239.7 778.1ZM244.5 779.2 L243.2 777.9 L242.8 775.9 L243.9 774.7 L245 774.7 L245.8 776 L246 778ZM249 777.6 L248 778.1 L246.2 777.7 L244.8 776.6 L245.8 776.1 L247 776 L248.2 776.6ZM249.6 777.1 L250 775.8 L251 774.6 L252.8 773.3 L252.8 774.7 L252.6 776.1 L250.9 776.9ZM251 776.9 L251.8 775.4 L254.2 774.8 L256.5 774.7 L255.9 776 L255.1 777.3 L252.5 777.9ZM236.2 779.9 L236.1 778.2 L237.7 777.6 L239.5 777.9 L240 779.7 L239 781.3 L237.2 781ZM241.1 778.7 L241 777.6 L241.7 777.1 L242.7 777 L243.5 778.1 L243.1 779.2 L242 779.5ZM241.8 779.5 L242.9 778.5 L244.9 777.9 L246.3 778.9 L246.2 779.9 L245 780.9 L242.5 780.8ZM247.5 782.1 L246.4 781 L246.7 778.5 L248.5 777.6 L249.9 778.1 L250.4 780 L249 781.7ZM253.3 781.3 L251.3 781.9 L249.4 780.7 L248.4 778.6 L250.3 778 L251.8 778 L253 779.4ZM254.4 782.6 L252.3 780.8 L250.9 777.9 L250.7 774.3 L252.7 774.8 L254.4 776.8 L255.7 780.4ZM233.7 784.6 L233.2 783 L235 781.6 L236.8 780.6 L237.6 781.9 L237 783.6 L235.4 785.1ZM240 782.6 L240.3 781 L242.3 779.6 L244.2 778.6 L244.4 779.7 L243.7 781.2 L241.6 782.5ZM246.3 783.1 L245.1 783.2 L244.1 782.9 L243.6 781.8 L244.4 781.1 L245.4 781.3 L246.1 782ZM245.4 783 L244.9 780.8 L245.7 778.8 L247.7 778.5 L250 779 L250.1 781.8 L247.7 782.8ZM251.5 781.4 L251 782.7 L249.4 782.7 L248.3 782 L248.4 780.8 L249.4 780.1 L250.8 780.2ZM256.1 782.9 L254.8 783.5 L252.7 782.4 L251.4 780.9 L252 779.8 L254 780 L256.4 781.5ZM233.4 783.9 L233.8 783.3 L234.7 782.6 L235.7 782.9 L235.9 783.6 L235 784.1 L233.8 784.6ZM242.5 786.1 L242.9 784.5 L244.3 783.8 L245.4 784.6 L246 785.8 L245.1 786.8 L243.7 787ZM247.9 789.5 L246.8 787.6 L247.8 784.6 L249 782 L250 783.3 L250.5 785.2 L249.7 788.3ZM252.1 787.8 L251.8 785.1 L252.5 782.4 L254.7 781 L256.2 782.1 L256 784.5 L254.6 787.5ZM233.9 788.7 L233.3 787.4 L234.7 785.9 L236.6 786.1 L236.9 787.6 L236.4 788.9 L234.9 789.5ZM239.2 788.7 L238.1 789.7 L236.9 790 L235.7 789.2 L235.8 787.5 L237.2 786.9 L238.8 786.9ZM240.2 787.8 L240.2 785.9 L241.7 784.2 L243.7 785.1 L244.4 786.8 L243.4 788.2 L241.6 789.3ZM246.9 789 L244.7 789.8 L242.8 787 L241.8 784.1 L243.9 783 L246.4 784.3 L248 787.1ZM247.5 788.7 L246.3 788.1 L245.5 786.7 L246.1 785.2 L247.4 785.4 L248.6 786.1 L248.4 787.7ZM255.3 788.7 L254.3 788.7 L253.8 787.3 L254.1 786.3 L254.8 785.5 L255.6 786.8 L255.7 787.9ZM238 791.7 L236.2 791.2 L234.5 789.9 L233.2 788 L234.4 787.7 L236 788.3 L238 790.2ZM235.4 793.6 L235.8 791.8 L237 789.8 L239.3 788.5 L239.5 790.2 L239.1 792 L237.2 793.4ZM244.3 791 L243.2 791.2 L241.8 790.1 L241.3 789.1 L241.8 788.7 L242.8 789 L243.8 789.9ZM247.2 792.2 L246.1 794 L243.1 792.6 L242.1 790.4 L242.7 788.6 L245.4 788.7 L248.1 790.3ZM248.8 793.2 L248.9 791.5 L250.9 789.7 L253.1 790 L253.6 791.4 L253.1 793.6 L250.2 794.1ZM255.1 793.5 L253.6 793.5 L252.8 791.1 L253.5 789.4 L254.8 789.4 L256.2 790.4 L255.8 792.4ZM239.2 794.3 L237.6 795 L235.9 793.5 L234.4 792 L235.7 791.2 L237.2 791.6 L239.3 792.6ZM235.7 795.6 L235.8 793.1 L238.7 791.3 L241.2 790.6 L242.3 792 L241.2 794.4 L238.4 795.6ZM243.2 793.5 L242.1 794.5 L240.2 794.3 L238.8 793.6 L239.4 792.8 L240.3 792 L242 792.6ZM247.8 794.7 L246.8 795.1 L245.1 795.2 L244.2 794.2 L244.4 793.5 L245.7 793.3 L247.5 793.7ZM247.6 795.3 L247.1 794 L247.8 791.7 L249.9 791.4 L251.4 792.1 L250.7 794.4 L248.9 796ZM252.1 794.4 L250.3 795.1 L248.7 794 L248.6 792.3 L249.5 790.9 L251 791.7 L252.4 792.6ZM251.1 794.2 L251.4 792.9 L253.6 792.2 L255.4 793 L255.1 794.3 L254 795.5 L251.9 795.2ZM234.3 797.6 L233.9 795.8 L234.7 794.2 L236.4 793.6 L237.8 794.5 L237.3 796.3 L236.2 797.6ZM238.1 797.5 L238.3 796.3 L239.2 795.3 L240.4 795.8 L240.6 796.9 L240.1 797.7 L239.1 798ZM240.4 797.7 L240.9 796.6 L242.1 795.7 L243.9 796 L243.8 797.5 L242.9 798.6 L241.2 798.8ZM245.5 797.2 L244.3 798.6 L242.3 798.5 L241.8 796.9 L242 795.7 L243.4 794.4 L245 795.6ZM247.4 796.7 L247.1 795.6 L247.7 794.2 L249.2 793.3 L250.4 794.1 L249.9 795.9 L248.5 796.9ZM252.1 799.2 L251.1 799.2 L250.9 797.9 L251.3 797.1 L252 796.9 L252.9 797.4 L252.9 798.6ZM256.3 796.7 L254.9 797.2 L253.1 797.1 L251.6 796.2 L252 795.4 L253.4 794.9 L255.2 795.7ZM257.9 797.2 L256.5 798 L255.2 796.1 L254.9 794.6 L255.6 793.4 L257.2 794.5 L259 796ZM233.3 798.9 L234.6 797.4 L237.6 797 L240.3 797.7 L239.8 799.2 L237.7 800 L235.6 799.6ZM238.3 801.1 L236.5 799.7 L237.1 797.3 L238.6 796.4 L240.6 795.9 L240.8 798.2 L239.9 799.9ZM243.7 800.7 L242.7 800.9 L241.5 799.9 L241.5 798.3 L242.6 798.1 L243.8 798.4 L244.7 800ZM246.4 801.3 L245 801.4 L243.3 800.8 L242.8 799.1 L243.6 797.8 L245.4 798.4 L247 800ZM249.1 800.5 L248.9 801.3 L246.6 801.5 L245 800.9 L245 800 L246.8 799.8 L248.9 799.7ZM251.1 802.3 L250.5 801.5 L251.2 799.7 L252.4 798.3 L253.5 798.7 L253 800.6 L252 802.2ZM254.1 799.8 L253.6 801 L252.3 800.7 L251.2 799.7 L251.7 798.2 L253.1 798 L254.1 798.7ZM257.3 801.4 L255.7 801.1 L255 799.5 L255.4 798.3 L256.4 797.8 L257.9 798.2 L257.8 799.8ZM237.5 802.8 L236.7 801.8 L237.5 800.5 L238.9 800.6 L239.9 801.1 L239.4 802.4 L238.5 803.2ZM241.5 803.8 L241.1 802.6 L242.1 801.2 L243.9 799.8 L244.6 801.3 L244.2 802.9 L242.8 803.8ZM247.5 805.9 L246.9 804.3 L247.4 802 L249 799.5 L250.3 800.8 L250.9 803.1 L249.2 806ZM249.2 803.6 L248 802.4 L249.6 800.4 L251.4 798.5 L253 799.5 L252.8 802.1 L250.7 803.4ZM251.3 803.4 L251.4 802.2 L252.6 800.8 L254.4 800.9 L254.8 802.2 L253.8 803.4 L252.3 803.9ZM255.4 805.1 L254.6 803.7 L255.9 802.5 L257.4 802 L258.1 803.2 L258.2 804.7 L256.8 805.3ZM234.3 807.1 L234.8 805.4 L236.9 804.2 L238.9 804.8 L239.7 806.2 L237.7 807.4 L235.6 808.3ZM237.1 806.7 L237.2 805.2 L239.4 804 L242.2 802.9 L242 804.9 L240.6 806.3 L238 808.2ZM244.6 807.5 L243.5 808 L242.1 807.3 L241.2 806.3 L241.5 805.2 L243.1 805.3 L244.1 806.4ZM247.6 806.7 L245.7 807.3 L243.3 806.3 L241.6 805.1 L241.4 803.7 L244 803.7 L246.3 805.1ZM249.4 804.9 L249.4 805.7 L247.6 805.8 L246.5 805.2 L246.6 804.5 L247.7 803.9 L249.3 804.1ZM251.8 805.6 L252.6 804.3 L253.6 803.1 L254.9 804.1 L255.7 805.5 L254.5 806.6 L253 806.7ZM255.9 806 L255.8 805 L256.6 803.6 L258 802.5 L258.5 803.4 L258.1 804.8 L256.9 806.2ZM240.5 809.4 L240.2 810.5 L237.9 810.3 L236.7 809.5 L236 808.3 L238.1 807.9 L240.4 808.4ZM243.8 811.7 L241.7 812 L239.4 810.8 L238.9 808.4 L240.5 807.2 L242.5 807.8 L244.4 809.6ZM241.9 810.5 L242.4 808.6 L243.4 807.2 L245.3 806.6 L246.6 808 L245.7 810 L243.8 810.9ZM250 811.8 L247.8 810.4 L246.4 807.6 L246.1 804.1 L248.3 804.7 L250.1 806.3 L251.3 809.7ZM247.9 809 L247.8 807.1 L248.9 805.7 L250.5 806.3 L251.7 807.5 L251 809 L249.6 809.6ZM251.3 809.6 L250.3 808.2 L251.7 806.9 L253.5 806.5 L254.7 807.8 L254.2 809.6 L252.6 810.3ZM256.7 810.2 L255.2 809.7 L254.1 808.1 L254.2 806.3 L255.3 805.6 L256.5 807.1 L256.8 808.5ZM239.3 812.8 L238.4 812.4 L238.5 811.2 L238.9 810.2 L239.8 810.5 L240.2 811.3 L240.2 812.4ZM245.1 813.4 L244.1 812.7 L245.2 811.1 L246.6 810.8 L247.6 811.2 L247.1 812.7 L246.1 813.8ZM252.5 814.3 L251.3 813.1 L251.6 810.8 L252.1 808.9 L253.2 809 L254.2 810.6 L253.9 813.4ZM258.5 812.5 L257.5 813.3 L256.3 812.3 L255.6 811.2 L256.2 810.1 L257.7 810.1 L258.8 811.2ZM238.9 814.3 L237.5 815 L235.7 814.3 L234.3 813.1 L234.6 811.7 L236.7 811.8 L238.8 812.7ZM240.7 814.5 L240.5 815.5 L238.7 815.6 L237.1 814.8 L237.5 813.6 L238.9 813 L240.7 813.4ZM246.7 816.4 L246.3 815.2 L246.8 813.4 L247.9 812.3 L248.4 813 L248.6 814.2 L247.7 815.5ZM249.2 816.1 L249.2 813.9 L249.8 811.7 L251.8 811.7 L253.6 812.2 L253.2 814.5 L251.3 815.5ZM252.1 816.4 L252.8 814.9 L254.4 813.8 L256.4 814.5 L256.5 816.2 L255.4 817.8 L253.5 817.4ZM235.2 820.1 L234.5 819.4 L234.3 817.9 L235.3 817 L236.4 817.3 L237 818.5 L236.3 820ZM239.7 818.4 L238.1 818.8 L236.8 817.9 L236.9 816.3 L238 814.9 L239.7 815.4 L240.5 816.8ZM239.7 819.4 L240.3 817.8 L242.5 817.5 L244.1 818 L244.7 819.1 L243.3 820.5 L240.7 820.7ZM246 819.5 L244.5 819.3 L244 817.5 L244.7 816.1 L246 815.8 L247.3 816.8 L246.8 818.4ZM247.7 820.9 L246.6 819.8 L246.4 817.4 L247.6 816.1 L248.6 816.4 L249.2 817.9 L248.7 819.6ZM251.1 819.4 L249.8 819.1 L249.3 817.8 L249.1 816.4 L250.3 815.7 L251.5 816.8 L252 818.3ZM252.8 817.2 L253.2 815.9 L254.6 815.6 L255.8 815.7 L256.3 816.7 L255.4 817.8 L253.9 818.2ZM254 818.9 L254.4 816.9 L256.4 815.8 L257.8 816.9 L259.3 818.1 L257.9 819.9 L255.7 819.9ZM258.3 818.4 L257.6 817.2 L257.9 815.5 L259.3 815.2 L260.8 815.2 L260.8 816.9 L259.6 817.9ZM235.4 822.2 L234.4 821.6 L234.5 819.9 L235.5 819.1 L236.7 818.7 L236.8 820.4 L236.6 822ZM241.1 823 L239.2 823.1 L237.7 821.8 L238 819.9 L239.5 818.9 L241.5 819.3 L242.3 821.4ZM241.8 821.3 L241 820.3 L241.5 818.5 L243 817.3 L244 818.3 L244.3 819.9 L243.2 821.6ZM243.4 822.3 L241.7 821.3 L242.4 819.1 L243.2 817.3 L245.1 817.4 L245.8 819.5 L245 821.3ZM245.2 821.2 L245.2 819.8 L246.7 819 L248.4 819.3 L248.9 821 L247.8 822.3 L246.1 822.4ZM251.6 821.9 L250.7 822.6 L249.4 822.3 L249.1 821.1 L249.6 819.9 L250.9 819.9 L252.1 820.7ZM253.2 821.9 L253.3 820.8 L253.9 820.1 L254.8 820.4 L255.8 821.1 L255.5 822.4 L254.2 822.4ZM253.5 822.5 L253.5 821 L255.3 820.2 L257.2 820.3 L257.8 821.7 L256.6 823.3 L254.5 823.7ZM260.2 821.9 L259.1 821 L258.4 819.8 L259.2 818.3 L261.1 818.3 L262.3 819.7 L261.4 821.1ZM234.9 823.6 L235.5 822.3 L236.6 821.3 L238.3 821.9 L238.5 823.6 L237.3 824.7 L235.8 824.8ZM237 825.6 L236.9 824.1 L237.5 822.2 L239.5 822 L240.8 823 L239.9 824.8 L238.5 826.5ZM239.9 824.6 L240.2 823.2 L241.8 822.2 L243.6 822.1 L244.1 823.4 L242.7 824.5 L240.9 825.6ZM246.5 823 L245.8 824.5 L243.6 823.8 L242.7 822.4 L242.9 820.9 L244.7 820.7 L246.3 821.6ZM251.3 824.1 L249.4 824.7 L247.4 824 L245.5 822.7 L246 821.3 L248.3 821.6 L250.1 822.5ZM254.4 825.1 L252.9 826 L250 825.5 L248.8 823.9 L248.5 822.4 L251.1 822.6 L254.3 823.3ZM253.1 825.9 L252.9 825.1 L253.3 824.2 L254.2 823.8 L255.2 824.1 L254.8 825.3 L254 825.9ZM259.8 825.4 L258.2 827.3 L254.6 826.6 L253.4 824.5 L253.7 822.8 L256 821.8 L258.2 823.5ZM262.6 828.8 L260.5 827.8 L259.2 824.3 L259 821.3 L260.5 821.3 L262.5 822.9 L263.4 826.6ZM240.2 828.6 L238.1 829.6 L235.5 828 L235 825.4 L236.4 823.8 L239 824.2 L240 826.5ZM240.6 829.1 L240 828.2 L241.1 825.9 L242.1 824.4 L242.7 825.2 L242.9 826.6 L241.7 828.9ZM243 827.6 L242.7 825.6 L244.6 824.7 L246.7 824.2 L247.4 826 L247 828.1 L244.6 828.9ZM248.2 828 L248.5 827.3 L249.7 826.4 L251.4 826.1 L251.5 827 L250.3 827.9 L248.8 828.5ZM251 828.2 L251.6 827.1 L252.8 826.2 L254.6 825.6 L254.6 826.7 L253.8 827.9 L252 828.8ZM260.7 827.1 L258.8 829 L256.5 827.9 L255.4 826.2 L255.6 824.2 L257.9 823.5 L259.6 825ZM260.4 827.7 L259.2 827.5 L258.2 826.7 L257.6 825.5 L258.3 824.9 L259.5 825.3 L260.3 826.5ZM239.1 833.1 L237.8 833.1 L236.7 830.7 L236.8 828.4 L238.3 829 L239.6 829.9 L239.7 831.9ZM239.3 831.9 L240.3 830 L242.5 828.6 L244.3 828.3 L244.9 829.2 L243.7 830.7 L241.7 831.4ZM242.6 831.3 L242.5 829.9 L244.1 829.2 L245.3 829.6 L245.8 830.4 L245.3 831.7 L243.6 832.3ZM249.7 829.7 L247.7 830 L245.9 829.6 L244.5 828.2 L245.4 827 L247.1 827.1 L249.1 827.8ZM249 830.1 L248.8 828.6 L250.2 827.4 L252.1 828 L252.1 829.6 L251.3 830.7 L249.8 831.5ZM253.1 831.4 L251.9 831.5 L250.9 830.5 L251.1 829 L252.7 829 L253.9 829.3 L254.3 830.6ZM256.3 831.8 L255.3 831.5 L255 830.1 L255.1 829.1 L255.8 829 L256.7 829.5 L256.6 830.8ZM260.5 832.4 L259.3 832.6 L257.6 831.5 L257 830 L257.3 828.8 L259.2 829.8 L260.3 831.1ZM243.1 833.4 L241.5 833.4 L240 832.3 L240.2 830.6 L241.3 829.8 L243.3 829.7 L243.7 831.9ZM244.7 836 L243.3 834.9 L242.3 832.9 L242.5 831.2 L243.5 831.1 L244.5 832.3 L244.9 834ZM247.6 833.6 L246.8 832.4 L246.9 830.8 L248.4 830.4 L249.6 830.9 L250.5 832.3 L249.2 833.8ZM247 832.4 L248 831.2 L249.9 830.6 L252.1 831.1 L252.2 832.7 L250.4 834.2 L247.8 833.7ZM252.8 835 L251.5 834.4 L251.1 832.8 L252.1 831.7 L253.5 831.7 L254.5 832.9 L254 834.4ZM258.3 833.9 L258.1 832.6 L259.8 831.1 L262.1 830.2 L263 831.5 L261.5 833.4 L259.5 834.5ZM264.2 832.2 L263 833.3 L260.9 833.7 L258.7 832.4 L259.4 830.5 L261.4 829.4 L263.5 830.7ZM236.9 838.1 L237.3 836.4 L239.6 834.9 L241.6 835.3 L243.1 836.4 L240.7 838 L238.3 839.2ZM240.8 838.2 L239.6 838 L239.5 836 L240.2 834.7 L241.4 834.1 L242.1 835.9 L241.8 837.9ZM248.5 837 L246.1 838.6 L242.9 837.9 L242.3 835.5 L242.4 833.5 L245 832.8 L247.5 834.3ZM250.4 835.3 L249.6 836.5 L247.9 836.1 L247 835.1 L246.8 833.8 L248.5 833.7 L249.6 834.2ZM249.6 837.6 L248.9 836.1 L248.8 833.9 L250 832.9 L251.1 832.8 L251.5 834.5 L251.1 837ZM251.9 836 L251.2 835 L251.1 833.5 L252.4 832.8 L253.5 833.1 L253.8 834.4 L253.2 835.8ZM255.5 837.2 L255 835.8 L255.8 833.7 L257.9 832.5 L259.5 833.4 L258.6 835.8 L257.1 838ZM260.6 836.3 L259.6 837 L258.4 837.3 L257.7 836.3 L257.7 834.8 L259.1 834.6 L260 835.3ZM237.8 839.2 L238.5 837.9 L239.9 837.1 L241.2 837.9 L242.2 839.3 L240.7 840.6 L238.8 840.4ZM243.9 839.7 L243.5 840.5 L241.4 839.6 L239.6 838.4 L240.4 837.8 L242 837.6 L244.2 838.8ZM246.9 840.8 L245.2 841.4 L243.3 838.7 L242.7 836 L244.2 835.1 L246.3 836.8 L247.9 839.4ZM248.7 841.3 L247.9 840.3 L248.7 838.8 L249.7 837.6 L250.5 838.4 L251.1 839.7 L249.8 840.8ZM253.7 838.4 L253.6 836.8 L255.8 835.3 L258.1 835.8 L258.4 837.4 L257.5 839.5 L254.6 839.9ZM258.9 838.4 L258.8 837 L259.9 836.6 L261.2 836.3 L261.4 837.6 L261.2 838.8 L259.9 839.2ZM241.4 842.8 L240.3 842.4 L240 840.9 L240.2 839.6 L241.2 839.5 L241.8 840.6 L242.1 841.9ZM248.1 841.7 L247 842.6 L244.8 841.6 L243.2 840.2 L243.8 839.1 L245.8 839.3 L247.8 840.2ZM254.3 843.7 L253.7 843.2 L253.6 842.2 L254.2 841.5 L255.1 841 L255.5 842.3 L255 843.4ZM257.5 843.3 L256.4 843.8 L254.9 844 L253.9 843 L254.2 842 L255.5 841.7 L257.1 842.2ZM259.5 842 L258.7 841.2 L259.1 839.6 L260.1 838.1 L261.5 838.4 L261.3 840.4 L260.7 842.2ZM242.8 844.9 L242 844.1 L243.2 842.6 L244.5 841.9 L245.2 842.7 L245.2 844.1 L243.8 845.1ZM246.1 844.4 L246.8 843.5 L247.9 842.7 L249 843.3 L249.8 844.3 L248.4 845.3 L246.7 845.5ZM252.9 845.9 L252.2 846.5 L250.9 846.2 L250.4 845.1 L251 844.3 L252.1 844.5 L253.1 845ZM257.6 845 L258.7 844.2 L260.2 843.7 L261.6 844.3 L261.2 845.2 L260.3 845.8 L258.6 845.7ZM241 848.2 L241.2 846.4 L243 846.3 L244.6 846.8 L244.7 848.5 L243.5 849.6 L242 849.4ZM246.8 847.3 L245.3 848.3 L242.8 848 L241.1 846.8 L241 845.3 L243.4 845.3 L245.4 846ZM247.3 849.5 L246.2 849.5 L244.9 849 L245 847.6 L246.1 847.2 L247.1 847.4 L248 848.4ZM252.4 848 L251.4 847.8 L250.6 846.6 L250.4 845.3 L251 844.4 L252.2 845.6 L252.9 847.1ZM252.3 848.1 L252.2 846.5 L253.6 846 L255.2 846 L255.3 847.5 L255 849 L253.4 848.9ZM257.6 850.3 L256.1 849.9 L255.6 848.3 L256.3 846.7 L258 846.4 L259 847.9 L259 849.6ZM258.3 849.7 L257.8 848.7 L258.2 847.8 L259.1 846.8 L260.3 847.5 L260.1 848.8 L259.4 849.4ZM263.2 849.6 L261.9 849.1 L260.8 847.4 L261.2 845.9 L262.1 845.8 L263.2 846.6 L264.1 848.6ZM242.4 851.5 L241.4 851.9 L240.7 850.2 L240.1 848.5 L241.3 848.4 L242.6 849.1 L243.1 850.7ZM242.7 852.6 L242.8 851 L244.5 849.7 L246 850 L246.8 850.8 L246.3 852.4 L244.1 853.4ZM250.5 850 L249.8 850.9 L248.6 851 L247.5 850.5 L247.4 849.5 L248.5 848.8 L249.6 849.4ZM248.4 850.9 L248.7 849.1 L250.4 847.6 L252.1 848.1 L253.1 849.2 L251.9 850.7 L250.2 851.3ZM254.7 851.3 L255.4 850.5 L256.3 850.3 L257.4 850.5 L257.6 851.7 L256.6 852.4 L255.6 852ZM258.3 854.7 L257.1 853.1 L257.9 851.1 L258.8 849.3 L260.4 849.8 L261.1 851.8 L260.2 854ZM262 852.2 L261.5 851.1 L261.6 849.8 L262.3 848.7 L263.2 848.7 L263.6 850.1 L263 851.5ZM266.8 852.9 L266 852.2 L265.8 850.9 L266.4 850 L267.2 849.9 L267.8 850.9 L267.7 852.4ZM248 854.9 L246.7 854.6 L245.6 853.5 L245.6 851.8 L247 851.8 L248.3 852.1 L249 853.9ZM253.5 854.7 L253.3 853.4 L253.7 851.7 L254.9 851.1 L256 851.2 L255.5 852.8 L254.8 854.2ZM255.8 854.5 L255.5 853.6 L256.4 852.2 L257.7 852 L258.9 852.2 L258.1 853.8 L256.7 855.2ZM261.9 854.9 L260.3 855.9 L257.6 855.3 L256.5 853.9 L256.4 852.7 L258.4 852.5 L260.1 853.5ZM261.4 855.7 L260.9 854.4 L262.4 852.1 L264.8 850.1 L265.8 851.5 L264.7 853.9 L262.7 856.1ZM257.8 767.1 L259.3 764.7 L261.7 763.8 L264.1 763.8 L265.1 765.7 L263.5 768.1 L260.5 767.9ZM262 770.4 L260.3 769.7 L260.5 767.1 L262.3 765.6 L264.2 766.2 L264.2 768.4 L263.7 770.5ZM265.1 771.5 L264.2 770.2 L264.3 768.5 L265.7 767.4 L267.2 768 L267.9 769.7 L266.6 771.2ZM271.7 771.2 L270 771.7 L267.9 769.7 L268 767.3 L269.5 766.5 L271.3 767.7 L273 769.8ZM278.9 771.2 L277.5 770.2 L276.9 768 L276.6 765.2 L278.2 765.8 L279.5 767.3 L279.7 769.6ZM260.5 773 L258.9 773.3 L256.5 771.5 L256.5 769.3 L257 767.5 L259.5 769.1 L261 771.5ZM261.3 774.8 L259.9 772.9 L258.9 769.8 L260.3 766.8 L262.2 767.5 L263.8 769.7 L262.6 772.7ZM262.1 773.2 L262.3 771.9 L263.6 770.2 L265.1 770.3 L265.9 771 L265.2 772.5 L263.2 773.7ZM272.6 774.4 L271.1 774.9 L269 773 L269.5 771.2 L270 769.4 L272 771 L273.4 773ZM277 774.3 L276.6 773 L277.1 771.6 L278.4 770.9 L279.6 771.3 L279.6 773 L278.3 773.7ZM259.7 778.7 L258.1 777.6 L257.2 775.7 L257.2 773.1 L259.1 773.4 L260.3 774.9 L260.6 776.9ZM260.6 779 L259.8 776.9 L259.9 774.8 L261.7 773.6 L263.3 774.7 L264 776.5 L262.9 778.6ZM267.9 775.7 L267 775.8 L265.9 775.8 L265.5 774.8 L266.2 774.1 L267.2 774 L267.7 774.8ZM270.4 776.4 L269.9 775 L270.8 773.7 L272.1 773.3 L273 774.1 L273.1 775.5 L271.8 776.3ZM274.1 776.6 L272.3 776.5 L271.4 775.2 L271.8 773.5 L273.4 773.2 L274.6 773.9 L275.1 775.3ZM279.8 777.7 L278.1 776.9 L276.4 774.5 L276.9 772.8 L277.6 772 L279.3 773.1 L279.8 775.5ZM260.1 779.6 L258.9 779.1 L257.6 778.3 L258.1 776.8 L259.6 776.2 L260.6 777.2 L261.3 778.6ZM264.2 780.8 L262.6 781.1 L260.6 779.2 L260.7 776.9 L262.2 776.3 L264.1 777.1 L264.6 779.3ZM266 779.3 L264.9 779.5 L263.9 778 L263.5 776.7 L264.2 776.1 L265.4 777 L266.6 778.3ZM269.3 778.3 L268.5 779.8 L266.5 779.5 L265.7 778.4 L265.2 777.1 L266.9 776.7 L268.4 777.1ZM277.1 779.9 L275.1 780.4 L273 780.2 L271.6 778.6 L272.4 777.2 L274.3 776.7 L276.7 777.8ZM284.2 780.2 L282.6 781 L280.4 780.5 L279.4 778.9 L279.8 777.3 L281.9 777.4 L283.9 778.4ZM258 782.6 L257.3 780.8 L257.5 778.9 L259.6 778.8 L261.5 779.7 L261 781.5 L260 782.8ZM260.5 782.6 L260.3 781.3 L261.7 780.9 L263.2 780.8 L263.8 782.3 L262.8 783.6 L261.3 783.7ZM267 782 L265.9 782.4 L264.5 782.1 L263.1 781.4 L263.3 780.5 L264.9 780.5 L266.2 781.1ZM277 784.3 L274.7 784.8 L272.1 784 L271.1 782.3 L271.6 781.2 L273.5 780.6 L276.1 782.2ZM280.2 782.7 L279.3 782.8 L277.6 782 L276.7 780.5 L277.3 779.8 L278.9 780.4 L280.7 781.8ZM278.8 781.9 L278.7 780.8 L280.1 779.8 L281.2 780.5 L281.6 781.3 L281.1 782.3 L279.8 782.3ZM265.7 786.2 L265 785.4 L265 784.4 L265.8 783.7 L266.8 783.7 L267.2 784.8 L266.8 786ZM268.8 788.4 L269.2 786.7 L270.2 784.8 L271.7 784.4 L272.5 784.7 L271.8 786.4 L270.4 787.5ZM260.9 791.1 L259.5 791.1 L257.8 790.2 L256.9 789 L257.3 788.4 L258.8 788.7 L260.5 789.8ZM259.1 788.2 L258.7 787.2 L260 785.7 L261.4 785.4 L262.3 785.9 L261.2 787.3 L260 788.7ZM267.2 788.8 L268 787.6 L269.5 786.6 L270.8 786.8 L271.1 787.5 L270.3 788.5 L268.6 789ZM274 788.5 L272.7 788.5 L271.5 787.9 L271 786.6 L272 786.1 L273.2 786 L274.2 787.2ZM259.1 793.9 L257.4 793.4 L257.6 792 L258.1 791 L259.4 791 L260.6 791.6 L260.7 793.1ZM274.5 791.2 L272.4 791.9 L269.9 791.9 L268.7 790.2 L268.4 788.4 L271.1 788.5 L274.1 789.2ZM274 795.4 L272.4 794.5 L272.4 791.9 L273.2 789.9 L274.8 790 L275.5 791.9 L275.2 794ZM256.3 796.2 L255.5 794.6 L256.3 792.4 L257.7 791.7 L258.8 791.8 L258.8 793.5 L258 795.6ZM268.5 796.3 L269.3 794.4 L270.1 792.5 L272.3 792.5 L272.9 794 L272.3 795.7 L270.4 797ZM267 797.9 L266.2 798.7 L264.7 798.5 L263.8 797.9 L263.5 797 L264.8 796.5 L266.1 797ZM267.8 798.9 L268.1 798 L268.8 797.2 L269.6 797.7 L269.9 798.3 L269.6 799.1 L268.7 799.3ZM273.8 797.3 L273.2 798.1 L272 797.5 L271.3 796.5 L272 795.7 L273.1 795.5 L274.2 796.4ZM265 803.5 L263.6 803.7 L262.1 802.2 L261.3 800.3 L262.7 799.9 L264.5 800 L265.7 802.2ZM266 806.9 L266 804.9 L268 803.2 L269.7 803.2 L270.7 803.9 L269.9 805.7 L267.9 806.9ZM268.8 810.4 L267.6 811 L266.7 810.3 L266.1 809.3 L266.6 808.2 L267.8 808.3 L268.9 809ZM266.6 812.4 L264.7 812.7 L262.8 812.5 L262 810.9 L262.1 809 L264.5 809.1 L266.7 810.4ZM267.1 813.6 L266.9 812.1 L267.5 810.5 L268.8 810.3 L269.9 810.5 L269.8 812.1 L268.6 813.4ZM270.4 814.1 L269.1 814.1 L269 812.5 L269.6 811.4 L270.7 811.2 L271.2 812.3 L271.3 813.6ZM259.3 814.6 L258.2 813.5 L259.6 811.9 L261 812 L261.8 812.7 L261.7 814.1 L260.4 815.6ZM266.1 816.9 L265.1 817.7 L263 817.2 L262.5 815.8 L262.8 814.8 L264.2 814.9 L265.5 815.7ZM264.8 819.1 L263.9 817.6 L265.7 816.3 L267.5 816.4 L268.8 817.6 L267.7 819.3 L266 820.5ZM265.8 824 L264.4 824.3 L263.1 823 L262.8 821.2 L264.1 820.1 L265.6 821.3 L266.9 822.9ZM272.5 821.8 L271.4 822.9 L269.5 822.6 L269 821.1 L269.4 819.8 L270.8 819.8 L272.5 820.2ZM278.4 823.6 L276.6 823.3 L275.1 821.4 L274.5 819.1 L276.1 819 L277.9 819.4 L278.4 821.7ZM267.6 827.7 L266.3 827 L266.4 824.4 L266.9 822.9 L267.8 822.5 L268.7 824.1 L268.7 826.7ZM271.6 825.1 L270.2 824.6 L268.8 823.4 L268.7 821.9 L269.5 821.3 L270.9 821.9 L271.9 823.9ZM275.1 824.8 L273.9 824.3 L273.4 823.1 L273.9 821.8 L275.1 821.8 L275.9 822.8 L275.7 823.8ZM265.7 829.5 L264.1 829.8 L262.6 828.6 L263.7 826.9 L265.3 825.6 L267.2 826.6 L267.2 828.6ZM270.8 830.8 L268.4 831.6 L265.9 831.6 L264.2 830.1 L264.3 828.5 L266.6 827.5 L269.5 828.8ZM270.3 831.2 L270.6 830.1 L272 829.3 L273.1 829.7 L273.5 830.4 L272.9 831.4 L271.2 832ZM273.4 832.6 L274 831.8 L275 831.4 L276.1 831.7 L276.5 832.7 L275.4 833.6 L274 833.4ZM264.4 837 L263.2 836.7 L263.1 834.4 L263.7 832.7 L264.9 832.5 L266 834.1 L265.8 836.8ZM267.6 838.1 L266.8 836.9 L267.6 834.8 L268.9 833.9 L269.8 834.5 L270.2 835.9 L269 837.5ZM272.9 834.3 L272.8 832.2 L274.6 831.2 L276 832.3 L277.4 833.8 L276 835.2 L274.4 835.3ZM278.5 836.2 L277.2 837.3 L275.8 836 L274.7 834.8 L275.9 833.9 L277.4 833.2 L278.3 834.8ZM261.4 837.9 L262.7 836.4 L264.7 835.6 L266.4 835.5 L266.9 836.3 L265.3 837.3 L263.5 837.9ZM268.9 838.7 L268.1 839.4 L266.3 839.5 L264.8 838.4 L265.5 837.4 L266.9 836.5 L269.2 837.4ZM270.2 842.1 L268.9 841 L269 838.6 L269.5 836.6 L270.8 836.7 L271.3 838.6 L271.4 840.9ZM272.9 841 L272.7 839.2 L272.8 837.2 L274 835.4 L275 836.1 L275.2 838 L274.3 840.3ZM280.6 839.1 L279.8 840.4 L277.8 839.9 L277 838.6 L277.3 837.5 L278.7 837.1 L280.7 837.5ZM266.2 842.5 L265.1 843.2 L263 842 L262.1 840.3 L263 839.7 L264.5 840.1 L266.4 841.3ZM280.2 843.2 L278.4 844 L276.4 842.9 L275.1 841.4 L275.4 839.4 L277.9 840.2 L280.3 841.2ZM284.2 841.2 L283.1 842.2 L281.4 842.6 L279.6 841.9 L279.6 840.5 L281.4 840 L283.4 840ZM274.1 845.5 L273.3 846.3 L271.4 845.3 L270.6 843.8 L271.2 842.8 L272.9 843.4 L274.5 844.4ZM275.5 845.9 L275.1 844.1 L277.7 842.5 L279.9 842.5 L281.6 843.6 L279.6 845.8 L277.2 846.5ZM269.2 850.4 L267.4 851 L265.5 850.1 L264.9 848.3 L265.6 846.5 L267.8 846.9 L269.3 848.6ZM270.6 853.3 L270 852.8 L270 851.6 L270.9 851.3 L271.7 851.4 L271.8 852.3 L271.5 853.3ZM274.3 857.2 L272.8 856.5 L271.5 855 L270.3 852.7 L271.6 852.4 L273.4 853.3 L274.1 855.5ZM275.7 854.6 L275.1 855.8 L273.2 855.5 L272.3 854.2 L272.3 852.8 L274.1 852.4 L275.5 853.5ZM275.2 854 L275.3 852.9 L277.3 852.6 L278.9 853.3 L278.7 854.4 L277.3 855.1 L275.8 854.7ZM279.1 857.1 L278.9 855.6 L280 854 L281.4 852.6 L281.6 853.8 L281.6 855 L280.5 856.8ZM279 861.2 L277.1 860.4 L276.4 858 L276.8 855.6 L278.6 855.6 L280 857.2 L280.1 859.5ZM277.5 858.7 L277.8 857.1 L279.9 856.3 L281.3 856.3 L282.4 857 L281.1 858.4 L279.2 859.1ZM286.8 858.1 L285.8 859 L283.6 858.8 L282.5 857.5 L282.4 856.1 L284.5 856.1 L286.7 856.7ZM289.5 862.1 L289.8 859.9 L292.2 857.6 L295 855.2 L294.9 857.3 L293.9 859.3 L292 860.9ZM282.5 860.6 L281.4 862 L279.5 862.1 L278.8 860.8 L278.9 859.7 L280 859 L281.5 859.3ZM285.2 862.3 L283.7 862.1 L282.9 859 L283.8 857 L285.1 855.4 L286.4 858.5 L286.5 861.6ZM287.6 863.9 L287 862 L287.1 860.6 L288.5 859.4 L290.2 860.4 L290.8 862.1 L289.8 863.9ZM296.7 862.4 L296.1 863 L295 862.2 L294.2 861.4 L294.9 860.9 L295.8 860.9 L296.5 861.6ZM288.4 866.1 L287.1 865.7 L286.5 863.4 L287 861.3 L288.3 862.1 L289.3 863 L289.2 864.9ZM290.7 865.1 L290.1 865.7 L289.1 864.9 L288.7 864.1 L289 863.3 L290.1 863.7 L291 864.4ZM296.1 867.2 L294.9 866.1 L295.2 863.8 L296.7 862.5 L298.7 862.5 L299 865 L297.9 867.3ZM242.2 853.3 L240.9 853.3 L241 852.1 L241.5 851.3 L242.6 851.2 L243.2 851.9 L243.4 853ZM244 855.5 L244.6 854.8 L245.6 854.3 L246.4 854.8 L246.7 855.7 L245.7 856.1 L244.6 856.4ZM247.1 856.8 L246.8 855.3 L247 853.8 L248.3 853.1 L249.1 853.7 L249.4 855 L248.5 856.3ZM247.1 859.6 L246.9 857.9 L247.8 855.8 L249.7 854.6 L250.8 855.5 L250 857.5 L248.8 859ZM288.4 858.2 L287.7 856.3 L289.7 854.5 L291.8 854.9 L293.1 856.2 L292.1 858.2 L289.9 859.3ZM304.4 858.2 L302.8 859.8 L300.7 859.8 L298.8 859 L298.3 856.8 L300.6 855.4 L303.4 856.1ZM245.6 864.4 L244.6 863.2 L244.9 861.4 L245.7 860.3 L246.6 860.4 L247.3 861.6 L246.6 863.2ZM247.7 863.4 L249.2 860.9 L251.4 859 L253.8 858.7 L255 859.8 L253.8 862.3 L250.3 863.8ZM255.5 860.6 L254.5 860.9 L253.4 860.8 L252.7 859.7 L253.5 859.2 L254.4 858.9 L255.5 859.6ZM259.6 863.5 L259.1 862.3 L258.9 860.7 L260.1 860.1 L261.2 859.8 L261.5 861.4 L260.8 862.8ZM261.5 864.5 L261 863 L261.8 860.9 L263.2 860.1 L264.2 860.7 L264.5 862.3 L263 863.6ZM278.1 862.6 L278.6 861 L279.8 859.6 L281.8 858.6 L282.7 859.8 L281.5 861.7 L279.6 862.8ZM281.7 864 L280.8 862.9 L281.4 861.3 L282.8 860.1 L284 860.9 L284.4 862.7 L283.2 864.4ZM289.1 862.9 L287.6 863.6 L286.3 863.6 L285.2 862.5 L285.4 860.9 L287.1 860.9 L288.6 861.3ZM286.9 860.3 L286.8 858.9 L288.4 858.3 L289.6 858.4 L290.1 859.3 L289.8 860.7 L288.1 860.8ZM295 864.4 L294 861.8 L294 859.3 L295 856.4 L296.9 857.2 L297.5 859.7 L296.6 862.2ZM303.8 864 L302.4 863.7 L301.9 862.1 L302.1 860.7 L303.2 860.3 L304.3 861.2 L304.4 862.8ZM245.5 865.5 L244.2 864.7 L243 862.9 L243 860.9 L244.1 861.2 L245.4 861.8 L245.5 863.8ZM247.8 865.5 L245.8 865.5 L244.3 863 L245.1 861.1 L246.3 860.5 L247.7 861.8 L249 864ZM256.9 866.9 L255.3 866.4 L254.5 862.8 L254.8 860.6 L255.8 859.2 L257 862.3 L258.1 865.7ZM276.8 865.1 L275.6 866 L273.1 863.8 L270.8 861.4 L272.6 861 L274.8 861.2 L276.8 863.6ZM277.2 865.4 L276.2 865.4 L275.1 864.9 L274.2 863.7 L274.9 863.1 L276.2 863.2 L277.1 864.4ZM284.7 865.1 L284.9 863.9 L286.1 862.6 L287.9 862.7 L288.3 863.9 L287.4 865.2 L285.7 865.8ZM289.2 865.9 L287.9 865.3 L287.4 863.7 L287.9 862.5 L288.9 862.2 L289.7 863.3 L290.1 864.8ZM289.8 866.1 L289.6 865 L290.8 863.5 L292.5 863.9 L293.3 864.9 L292.5 866.5 L290.6 867.1ZM299.2 866 L298.1 865.4 L297.9 863.8 L299 863.1 L300.1 862.9 L300.9 864.1 L300.2 865.5ZM302.5 867.5 L301.7 866.5 L301.5 865.1 L302 864 L302.9 863.3 L303.4 865 L303.4 866.7ZM302.5 865 L301.4 863.6 L304.4 860.9 L306.8 860.5 L307.7 861.6 L307 864 L303.9 865.7ZM261.8 870.3 L260.6 870.6 L259.1 868.4 L258.9 866.1 L260.3 866.4 L261.6 867.3 L262.7 869.4ZM262.4 869.1 L262.5 867.9 L263.7 867.2 L265 867.2 L265.7 868.2 L265.2 869.7 L263.3 870.3ZM271.7 867.8 L271.7 866.8 L272.7 866.4 L273.7 866.1 L273.9 866.9 L273.5 867.7 L272.6 867.9ZM273.2 868.3 L273.3 866.4 L275.3 864.7 L277 864.4 L277.9 865.1 L277.5 867.1 L275 868.5ZM283.7 870.6 L282 870.2 L280.4 869 L280.2 867.4 L280.9 866.3 L282.7 867.1 L283.3 868.8ZM298.7 870.9 L297 871.1 L295.4 869.1 L295.1 867.1 L296.3 866.8 L297.9 867.3 L298.6 869.1ZM298.8 870.5 L298.6 867.9 L301 866.3 L302.9 865.8 L303.7 867 L303.5 868.9 L301.4 870.1ZM305.6 869.3 L304.3 870.4 L302.8 869.2 L302.7 867.6 L303.5 866.1 L305.3 866.7 L306.5 868ZM310.5 868.1 L310.2 868.8 L309.2 868.5 L308.7 868 L308.6 867.3 L309.5 867 L310.5 867.4ZM255.2 871 L253.9 871.4 L252.2 870.8 L250.4 869.6 L251 868.6 L253 868.4 L254.8 869.8ZM270.2 873.8 L268 873.6 L265.2 871.6 L263.8 868.9 L265.3 868.1 L267.6 869.5 L269.6 871.5ZM280.3 870.9 L278.6 871.7 L275.6 871.1 L273.2 868.4 L275.3 867 L278 867.1 L281.3 868.8ZM277.7 870.9 L276.2 869.1 L277.1 867.1 L279.2 867.2 L280.9 868.2 L281.4 870.2 L279.9 871.7ZM284.6 870.4 L283.9 870.8 L283.2 870.5 L282.6 869.8 L283.3 868.9 L284.3 868.8 L284.9 869.5ZM287.7 871 L286.9 871.5 L285 870.7 L283.8 869.5 L284.5 869 L285.8 868.8 L287.4 870.1ZM292 873.1 L289.9 873.1 L288.1 870.9 L286.7 868.3 L288.5 867.7 L290.6 868.7 L292.4 871.1ZM294.7 874.5 L293.2 873.6 L292.2 871.9 L292.9 870.5 L293.9 869.6 L295.3 870.9 L295.5 873ZM297.6 873.7 L296.2 872.5 L297.1 870.5 L298.3 869.1 L300.1 869.1 L300.1 871.3 L299.4 873.7ZM303.8 870.1 L302.3 870.8 L300.6 871 L299.4 869.9 L298.9 868.6 L300.9 867.9 L302.6 869ZM305.3 872.7 L304.5 872 L304 870.5 L304.3 868.9 L305.4 868.7 L306.1 870.3 L306.2 872.1ZM253.6 875.6 L252.3 875.3 L250.9 874.3 L251.9 872.9 L253.2 872 L254.4 873 L254.9 874.6ZM254.5 876.1 L254.3 874.8 L256.4 873.4 L258.7 873 L259.5 874.2 L257.6 875.8 L255.6 876.9ZM258 876.6 L257.5 875.5 L258.4 873.9 L259.8 873.3 L261.5 873.6 L261.1 875.8 L259.2 876.8ZM260 873.6 L260.3 871.5 L262.2 870.3 L264 870.9 L264.6 872.4 L264.2 874.5 L262.1 874.1ZM265.7 875.3 L265.2 873.9 L265.8 872.5 L267.3 871.8 L268.5 873 L269.1 874.9 L267.4 876.4ZM276.7 874.2 L275.3 874.3 L273.7 872.9 L274 871.4 L274.8 870.6 L276 871.5 L276.9 872.8ZM281.3 877.3 L280 877.3 L279 874.9 L278.1 872.4 L279.5 872.4 L281.1 873.6 L282.1 876.1ZM287 875 L284.8 874.5 L282.1 873.2 L280.5 870.7 L281.2 869.3 L284.2 870.5 L287.1 873.1ZM285.6 875.1 L285.9 874.3 L287 873.5 L288.7 873.1 L288.8 874 L287.7 874.9 L286.1 875.7ZM291.2 873.7 L290.3 873.3 L290.2 872.1 L290.8 871 L291.8 871.1 L292.4 872.2 L292 873.2ZM296.4 876.6 L295 876.2 L293.8 875.1 L294 873.5 L295.1 873 L296.5 873.7 L297.6 875.4ZM298.2 874.2 L298.1 872.9 L298.7 871.9 L300 871.1 L300.6 872.3 L300.6 873.4 L299.6 874.2ZM251.1 879.7 L251.1 878.1 L251.9 876.4 L253.6 875.9 L255.1 876.5 L254.7 878.7 L252.7 880.2ZM261.8 878.8 L261.7 877.3 L262.4 875.8 L264 876.3 L265.3 877.5 L264.7 879.1 L263.2 879.4ZM266.6 878.7 L265.4 878.5 L264.4 877.6 L264.8 876.5 L265.4 875.4 L266.6 876.4 L267.3 877.5ZM276.3 877 L277.3 875.5 L278.7 874.1 L280.8 873.6 L281.4 874.6 L280.1 876.3 L278.2 876.7ZM284.4 876.5 L284.3 875.1 L285.3 874.5 L286.4 874.8 L287.1 875.9 L286.9 877.3 L285.5 877.6ZM256.2 881.7 L255.4 882.6 L253.8 882.4 L252.6 881.3 L252.9 879.8 L254.7 879.6 L256.5 880.2ZM260.5 879.6 L259.5 880.4 L257.5 880.3 L255.7 879.1 L256.5 878 L258.2 877.4 L260.5 878.3ZM257.4 880.9 L258.3 878.8 L259.4 876.8 L261.3 878 L262.5 879.4 L261.5 881.2 L259.6 881.6ZM260.7 881.5 L261.3 880.1 L262.7 879.3 L264.9 879.1 L264.8 880.9 L264 882.6 L261.8 882.7ZM273.2 881.1 L272.1 882.2 L270.1 882 L268.3 881.4 L268 880 L270.2 879.8 L272.1 879.9ZM273.4 880.1 L272.5 880.3 L271.3 879.5 L270.9 878.3 L271.2 877.2 L272.9 877.7 L273.7 879.2ZM281.6 881.2 L281.3 879.9 L281.1 878.5 L282.6 878.7 L284 878.9 L284.1 880.4 L282.9 881ZM288.2 882 L286.6 881.2 L285.2 879.7 L284.6 877.5 L285.8 876.9 L287.7 878 L288.4 880.3ZM290.4 880.8 L289.8 882.3 L287.6 882.2 L286.1 881 L286.7 879.6 L288.1 878.8 L290.1 879.3ZM290.1 880.4 L291 879.4 L292.8 879 L294.5 879.5 L294.3 880.6 L292.9 881.2 L291.3 881.2ZM302.7 880.6 L301.3 880.7 L299.4 880.3 L299.5 878.7 L299.7 877.3 L301.5 877.9 L303.1 879.2ZM259.2 887.1 L258.2 884.9 L257.6 882.9 L259 881 L260.7 882 L261.6 883.6 L261.2 885.7ZM265.3 883.5 L264.4 883.1 L264.4 881.4 L265.2 880.4 L266.1 880.6 L266.5 881.8 L266.2 883.3ZM274.3 886.3 L273.9 884.7 L274.2 882.5 L275.7 881.6 L276.7 882 L277.1 883.8 L275.7 885.3ZM280.1 886.8 L280.3 884.8 L281.4 883.2 L283.1 882.3 L284.2 883.2 L283.6 885.1 L282 886.5ZM288.2 885.6 L286.6 885.9 L285 885.3 L283.5 884.3 L284 883.1 L285.9 883.4 L287.8 884.1ZM296.5 883.9 L295.4 884.5 L293.5 883.3 L292.6 881.8 L292.9 880.5 L294.9 881.5 L296.3 882.6ZM305.1 884.8 L303.6 884.6 L302.2 884.1 L301.4 883 L302 882.5 L303.2 882.4 L304.3 883.6ZM268.7 886.9 L267.2 887.8 L264.6 886.7 L263.4 885 L263.9 883.8 L266 884.1 L267.7 885.3ZM272.6 887.2 L271.5 885.8 L272.2 884.3 L273.2 882.8 L274.8 883.6 L275.4 885.3 L274.2 886.5ZM279.3 888.6 L278 887.8 L277.8 885.3 L279.6 884.3 L281.6 883.8 L281.7 886.4 L280.8 888.3ZM282.4 888.8 L282.1 888 L281.9 887 L282.5 886.2 L283.1 886.5 L283.3 887.3 L283.2 888.4ZM292.4 888.6 L292.2 887.3 L294.1 885.7 L296.3 885.3 L296.4 886.7 L295.4 888.1 L293.4 889.6ZM297.9 887.3 L297.9 885.6 L299 884 L300.3 883.6 L301.2 884.1 L301.3 885.7 L299.6 887.4ZM302.4 888.8 L301.2 888.8 L300.5 887.4 L301.2 886.2 L302.4 886.2 L303.2 887 L303.7 888.5ZM308.4 887.7 L306.6 888.5 L304.5 886.7 L303.5 884.9 L304.4 883.7 L306.4 884.3 L307.7 885.8ZM260.1 890.5 L259.4 889.2 L260.1 887.8 L261.6 887.3 L262.7 888.3 L262.5 889.7 L261.5 890.4ZM264.9 892.2 L264 890.4 L264.8 888.4 L266.4 887.7 L267.6 888.4 L267.8 890 L266.9 891.7ZM271.5 889.8 L270.7 890.7 L269.7 890.5 L269 889.8 L269.3 888.8 L270.2 888.6 L271 888.9ZM276.1 890.6 L276.2 888.8 L277.9 887.7 L279.4 887.8 L280.9 888.7 L279.7 890.5 L277.9 890.8ZM280.7 890.4 L280.9 889 L283.3 888.7 L285.4 888.8 L285.1 890 L283.7 890.9 L281.8 891.2ZM294.1 891.1 L292.5 891.4 L292.2 889.6 L292.2 888 L293.8 887.3 L295.4 888.4 L295.6 890.4ZM294.8 890.8 L293.8 889.2 L295.2 886.9 L297.2 886 L299.1 886.4 L298.5 889.1 L296.7 890.7ZM303.1 892.4 L303.5 891 L304.7 889.8 L306.2 889.7 L306.9 890.5 L306.3 892.1 L304.3 893.4ZM305.3 889.8 L304.7 888.4 L307.9 887.4 L310.8 886.9 L310.7 888.5 L309 890.1 L306.2 890.9ZM312 892.1 L310.4 891.5 L310.4 889.4 L311.8 888.4 L313.1 888.8 L314.2 890 L313.4 891.7ZM266.4 891.8 L265.9 892.7 L264.6 893 L264.1 892 L263.7 891.1 L264.9 890.7 L266 890.9ZM262.5 891.9 L263.4 890.3 L266.1 889.8 L268.2 890.6 L269.5 892.4 L266.4 893.3 L263.4 893.5ZM272.2 893.9 L271.9 892.5 L272.6 891.4 L274.1 891.3 L275 892.6 L274.6 893.9 L273.5 894.8ZM278 894.6 L278.3 893.2 L280.1 892.5 L282.1 892.1 L281.9 893.5 L281 894.6 L279.2 895.5ZM286.7 894.6 L285.5 894.6 L285.4 893.2 L286.3 892.6 L287.3 892 L287.9 893.2 L287.6 894.3ZM289.4 893.2 L288.4 893 L287.8 892.1 L288.6 891.3 L289.6 890.9 L290.4 891.6 L290.5 892.7ZM289.9 893.5 L290.3 892.6 L292.2 891.7 L293.3 892.3 L294.4 892.9 L292.7 893.9 L290.7 894ZM305.7 893.9 L304.1 893.8 L303 892.4 L302.8 890.8 L303.9 890.3 L305.2 890.9 L306 892.3ZM314.3 894.6 L312.5 895.8 L309.3 895.4 L307.5 894.1 L308.2 893 L309.9 892.4 L312.8 892.9ZM265 898 L263.1 897.5 L262.6 895.5 L264.1 894.3 L266 893.5 L266.8 895.4 L266.6 897.2ZM268.5 897.2 L268.8 896.1 L270 895.1 L271.4 895.2 L272.4 896.1 L271.2 897.5 L269.3 898.2ZM274.1 898.8 L272.3 898.3 L271.7 897.1 L271.7 895.6 L273.4 894.9 L274.6 895.9 L274.9 897.2ZM274.9 895 L275.6 894.1 L277.5 893.5 L279.5 893.8 L280.2 894.9 L277.7 895.6 L275.4 896.1ZM293.3 896.4 L293.7 895.6 L295.3 894.8 L296.7 895.1 L296.5 895.8 L295.7 896.6 L294 896.9ZM296.6 896.4 L296.3 894.1 L298.7 893.1 L300.8 893.6 L301.9 895.5 L300.4 897.4 L298.1 897.7ZM318.4 898.7 L317.4 898.2 L316.7 896.6 L317 894.7 L318.1 895.2 L318.9 896.3 L319.4 898.2ZM272.4 899.4 L271.7 900.1 L270.5 900.5 L269.5 899.7 L269.7 898.7 L270.7 898.3 L272.3 898.2ZM275.9 900.8 L274.6 902.1 L272.2 900.7 L271.2 898.4 L272.8 897.2 L274.8 897.8 L276.3 899.3ZM279.3 899.4 L278 900 L276.6 899.1 L276 897.6 L277.1 897 L278.3 897 L279.1 898.1ZM278.9 902.9 L278.7 901 L279.9 898.9 L281.6 897.6 L282.5 898.6 L282.3 900.5 L280.7 902.1ZM281.3 902.5 L280.7 900.8 L281.8 899.5 L283.2 898.6 L284.6 899.6 L284.3 901.3 L283.1 902.4ZM298.6 899.6 L299.1 898 L301.1 897.6 L302.1 898.8 L302.1 899.9 L301.1 900.7 L299.8 900.5ZM312.2 901.2 L310.8 899.8 L311 897.6 L312 895.6 L313.5 896.6 L314.6 898 L314 900.3ZM314.3 898.3 L314.9 897.2 L315.9 896.3 L316.8 897.4 L317.3 898.6 L316.3 899.6 L314.9 899.6ZM322.6 903.8 L321.1 903.2 L321.3 900.1 L321.7 897.4 L322.9 898.2 L323.8 899.9 L323.8 902.7ZM270.6 902.7 L271 901.4 L272.5 900.4 L274.1 901 L274.4 902.3 L273.7 903.9 L271.4 904.1ZM277.5 904 L276.8 903.4 L276.6 901.8 L277.2 900.3 L278.1 900.7 L278.7 901.9 L278.3 903.5ZM281.6 902.4 L281.5 901.4 L283.7 900.9 L285.8 900.9 L285.8 902.1 L284 902.8 L282.2 903.1ZM288.9 901.8 L288.2 902.5 L286.6 902.5 L285.3 901.5 L285.5 900.5 L287.1 900.5 L288.5 900.9ZM304.7 904.4 L303.5 904 L302.8 902 L302.9 899.7 L304.2 900 L305.2 901.5 L305.5 903.6ZM309.2 902 L308.9 903.3 L307.1 903.1 L306.1 902.1 L306.4 900.9 L307.7 900.3 L309 901ZM311.9 902.7 L310.9 902.3 L310.6 901.3 L310.9 900.1 L312.2 900.3 L312.7 901.1 L312.8 902.1ZM321.1 904.3 L321.2 902.7 L322.9 901.8 L324.6 901.7 L325.4 903 L324.1 904.2 L322.5 905.2ZM329.5 906.1 L328 904.5 L328.9 901.8 L330 899.3 L331.5 900.5 L332.4 902.4 L331.3 904.5ZM276.6 907.3 L274.8 906.9 L272.8 905.1 L273.6 903 L274.8 901.7 L277.3 902.7 L277.5 905.7ZM280.5 907.3 L278.9 907.6 L277.6 904.8 L276.9 901.9 L278.7 901.8 L280.4 903.4 L282 906.3ZM281.6 908.3 L280.8 907.5 L281.6 906 L282.9 905.3 L283.6 906.1 L283.9 907.5 L282.6 908.6ZM292.6 907.8 L290.9 908.6 L288.2 908.1 L287 906.6 L287.4 905.6 L289.2 905.3 L291.7 906.2ZM298.8 907.7 L297.8 906.9 L297.6 904.9 L298 902.5 L299.2 903.6 L300.1 904.8 L300.1 907.4ZM305.2 906.3 L304.6 905.4 L304.3 904 L304.9 902.7 L305.6 903.2 L305.9 904.2 L305.9 905.7ZM310 906.2 L310.8 904.7 L312.4 904.4 L313.6 904.9 L314.4 906.1 L313.1 907.3 L311.4 907.2ZM315.4 906.4 L315.9 905 L317.2 904.3 L318.4 905 L318.8 906.1 L318.2 907.4 L316.8 906.9ZM326.5 905.9 L325.7 906.4 L325 905.2 L324.9 904.2 L325.6 903.6 L326.6 904.2 L327.2 905.4ZM329.5 908.1 L327.9 907.1 L326.6 905.9 L326.1 904 L327.2 904 L328.6 904.6 L329.3 906.4ZM336.7 906.2 L336 907.4 L334.7 907.1 L333.8 906.3 L334.3 905.2 L335.2 904.7 L336.2 905.1ZM280.5 911.8 L280.3 909.8 L282.1 908 L284.4 907.7 L284.9 909.5 L284.7 911.5 L282.2 912.8ZM285.4 910.9 L284.4 910.1 L284.6 908.9 L285.1 908 L286 908.1 L286.4 909 L286.1 909.9ZM287.8 909.8 L288.2 908.7 L290.1 907.7 L291.8 908.6 L291.7 909.9 L290.3 910.9 L288.5 910.8ZM297.7 908.7 L295.8 909.8 L292.2 909.8 L289.3 908.4 L290.7 907.2 L292.8 906.6 L295.8 907.2ZM292.6 912.3 L292.3 909.8 L294.5 907.4 L297.6 906.3 L299.1 908.4 L297.8 911.3 L295.1 912.3ZM296.7 909.9 L296.2 908.8 L297.6 907.4 L299.5 907 L300.2 908.2 L299.2 909.6 L297.8 910.2ZM301.3 910.9 L300.1 909.9 L299.8 908.3 L300.3 907 L301.4 906.9 L302.7 907.8 L302.6 910ZM304.8 913.4 L303.8 911.3 L303.3 908.4 L305.3 906.6 L307.3 906.4 L308.1 909.4 L306.7 912.1ZM310.2 910.5 L308.9 909.5 L309.4 907.1 L311.1 905.7 L312.8 906.2 L313.2 908.5 L311.7 910.3ZM314.5 911.8 L313 912.3 L312 910.6 L312 908.6 L313.6 908 L314.9 909.3 L315.6 910.9ZM315.8 910.7 L316.5 909.2 L317.9 908 L319.8 907.1 L319.8 908.3 L318.9 909.5 L317.4 910.6ZM327.7 912 L327.1 911 L326.8 909.4 L328 908.6 L329 908.9 L329.5 910.1 L328.6 911.3ZM282.7 915.3 L281.3 914.1 L282 912 L282.9 910.7 L284.4 910.6 L284.9 912.5 L284.4 914.4ZM280.6 913.1 L282.9 911.6 L285.3 910.4 L288.2 910.8 L288.9 912.3 L285.7 913.4 L282.4 914.3ZM292.1 914.7 L290.7 914.2 L289.6 911.9 L289.9 909.8 L291 908.8 L292.8 910.7 L293.5 914.1ZM299.8 912.1 L298.7 912.5 L297.4 911.7 L297.5 910.4 L298.2 909.2 L299.4 910.1 L300.5 911.1ZM318.1 915 L316.4 914.9 L314.5 913.7 L313.8 911.9 L314.5 910.9 L316.4 911.6 L317.7 913.4ZM318.5 915.3 L317.2 913.8 L316.1 911.3 L317.2 908.7 L318.9 909.7 L320 911.3 L320.1 914.1ZM326.8 915 L325.2 914.6 L324 913.4 L323.4 911.4 L325 911.2 L326.4 911.8 L327.8 913.6ZM332.2 913.2 L330.9 913.7 L328.9 912.6 L328.5 910.8 L329.4 909.7 L331.1 910.4 L332.8 911.9ZM336 915.3 L334.8 914.3 L334.4 912.8 L335.6 911.8 L337 912.4 L338.1 913.3 L337.8 914.9ZM339.7 914.6 L338.9 913.3 L339 911.6 L339.7 909.8 L340.8 910.5 L341.7 911.8 L340.8 913.4ZM285.1 914.3 L285 912.7 L286.5 912.7 L287.4 913.4 L287.5 914.6 L286.8 915.4 L285.4 915.9ZM301.2 916.5 L300 916.7 L298.6 916.8 L298.2 915.7 L298.3 914.9 L299.5 914.8 L300.5 915.5ZM302.3 916.3 L301 915.3 L302.1 913.3 L303.4 912.5 L304.7 912.6 L304.6 914.4 L303.9 916.6ZM305.8 914.9 L305.2 915.5 L304.3 915.5 L303.7 915 L303.6 914.1 L304.5 913.8 L305.5 914.1ZM309.6 917 L310.1 914.8 L310.7 912.5 L312.9 911.7 L313.7 913.1 L313 914.9 L311.7 916.6ZM315.7 915.5 L314.4 916.4 L313.2 916.7 L312.2 916 L312.4 915 L313.2 914.3 L314.4 914.6ZM322.4 915.6 L321.1 915.8 L319.4 914.7 L319.3 912.8 L320.5 911.8 L322.3 912.5 L322.8 914.4ZM327.8 918.7 L327.2 917.1 L327.1 915.2 L328.5 914.2 L329.3 914.8 L329.9 916 L329.3 918.1ZM334.3 915.7 L334.4 914.7 L335.5 914.4 L336.3 915.2 L336.4 916.2 L335.6 917.1 L334.6 916.6ZM342.7 914.6 L342.4 915.5 L341.3 915.3 L340.1 915 L340.7 914.1 L341.3 913.6 L342.2 913.9ZM348.4 914.7 L347.1 915.7 L345 915.5 L343.8 914.8 L343.4 913.7 L345.2 913.2 L346.8 913.7ZM297.5 921.9 L296.5 920.6 L296.6 918.3 L297.7 917.4 L298.8 917.2 L299.1 918.8 L298.8 921ZM311.1 918.1 L309.8 918.9 L307.8 918.4 L306.3 917.3 L306.4 915.9 L308.5 915.6 L311.1 916.5ZM308.3 920.5 L308.8 918.6 L309.4 916.7 L311.3 916 L312.6 916.7 L311.3 918.6 L310.2 919.7ZM322.3 920.7 L321.8 919.7 L322.4 917.6 L323.6 916.2 L324.6 916.3 L324.5 918.4 L323.4 920.4ZM329.7 920.3 L328.6 921 L326.8 920.2 L325.6 918.5 L326.6 917.4 L328.4 917.8 L329.8 919ZM338.8 921.5 L337.2 921.8 L335.9 919.9 L335.3 917.9 L336.5 917 L338.1 918.4 L339.1 920ZM344.4 919.5 L343.8 920.7 L342.1 921.2 L340.4 920.2 L340.6 918.4 L342.5 918.1 L343.8 918.4ZM346.4 919.8 L345.5 919.6 L345.4 918.2 L345.8 917.3 L346.7 916.9 L347.5 918 L347.4 919.6ZM351.9 922.9 L349.7 921.8 L350.1 918.2 L352.2 916.1 L354.2 917 L354.9 919.5 L353.9 921.9ZM297.2 922.7 L297.2 921.5 L298.1 920.1 L299.3 920.8 L299.8 921.6 L299.5 922.7 L298.3 923.4ZM300.8 922.3 L300.8 921.5 L301.5 920.6 L302.4 921 L303 921.6 L302.4 922.4 L301.4 923.1ZM304.3 921.7 L304.7 920.1 L306.5 919.7 L307.8 920.8 L307.3 922.1 L306.5 923.1 L305 922.9ZM312 921.6 L310.9 921.9 L309.7 921.6 L309.6 920.3 L310 919.2 L311.3 919.5 L312 920.5ZM314.7 923.6 L313.9 924.3 L312.8 923.6 L312.1 922.6 L312.7 921.8 L313.8 922 L314.6 922.7ZM326.3 924.1 L325.2 923.2 L326 920.8 L327.7 919.9 L328.6 920.7 L328.5 922.3 L327.7 924.6ZM329.9 924.1 L330 922.8 L330.9 921 L332.9 920.3 L333.6 921.6 L332.9 923.4 L331.1 924.5ZM332.6 922.7 L332.4 921.4 L332.7 919.8 L333.9 919 L334.4 919.7 L334.3 920.8 L333.7 921.9ZM340.8 921.5 L340.5 920.6 L341 919.5 L342.2 918.5 L342.7 919.5 L342.7 920.7 L341.7 921.9ZM349.9 923.4 L349.1 923.7 L348 923.3 L347.2 922.3 L347.9 921.6 L349 921.8 L350.2 922.3ZM348.8 921.3 L350.2 920.1 L352.4 919.5 L354.3 920 L354.6 921.2 L352.6 921.9 L350 922.6ZM363.5 922.7 L362.3 924.2 L360 923.2 L357.7 922.1 L358.3 920.1 L360.8 919.8 L362.8 920.9ZM362.5 923.8 L361.6 923.5 L361.2 922.3 L362.2 921.5 L363.3 921.4 L363.7 922.5 L363.6 923.8ZM294.2 925.5 L295.7 924.4 L297.1 923.8 L298.9 924.1 L298.9 925.3 L297.5 926.1 L295.5 926.6ZM298.2 924.5 L298.8 923.2 L300.2 922.7 L301.6 923.5 L301.8 925.2 L300.2 925.7 L298.9 925.7ZM306.1 924.1 L304.7 925.1 L302.7 924.5 L301.5 923.6 L301.8 922.6 L303.2 922.1 L305 922.8ZM307.4 926.2 L306.4 926.5 L304.7 926.4 L304 925.2 L304.4 924.3 L305.8 924.3 L306.9 925.2ZM311 924 L310.3 925.2 L308.6 925.3 L307 924.5 L307.2 922.9 L308.8 922.2 L310.9 922.3ZM310 927.1 L310.1 925.6 L311.2 923.8 L313.2 923.1 L313.7 924.3 L313.4 926 L311.4 927.4ZM323.5 926.9 L322.8 926.2 L322.9 925 L323.5 924.1 L324.6 924.1 L324.9 925.4 L324.6 926.9ZM332.9 927.9 L330.5 928.5 L327.3 927 L325.6 924.6 L326.6 923.1 L329.5 923.1 L331.6 925.5ZM338.5 926.1 L337.1 927.1 L334.5 927 L333 926.2 L333.1 925.3 L334.8 925 L337 925ZM336.3 927.5 L335.3 926.8 L336.5 925 L337.6 923.9 L338.4 924.5 L338.6 925.9 L337.3 927.5ZM346.7 927.5 L345 926.7 L343.4 924.2 L343.8 921.3 L345.7 920.8 L347.8 922.9 L347.7 925.9ZM349.4 927.3 L348.4 927.1 L347.5 926 L347.6 924.6 L348.6 924.4 L350 924.7 L350.7 926.7ZM353.3 928.4 L352.1 927 L351.2 924.4 L352.1 921.7 L353.8 921.7 L354.5 924.5 L354.8 927.4ZM359.9 924.5 L358.8 925.2 L357.1 924.3 L355.8 923.2 L356.1 922.1 L358 922.1 L360 923.1ZM362.3 927.1 L361.3 925.1 L362.8 922 L364.7 920.8 L366.9 920.3 L366.7 923.7 L364.5 926.7ZM366.6 926.9 L367.2 925.6 L368.1 924.7 L369.1 924.3 L369.5 924.8 L369.3 925.9 L368 926.7ZM313.8 927.4 L312.6 928.5 L310.5 928.6 L309.1 927.8 L309 926.6 L310.6 925.7 L312.5 926.3ZM315.6 928.3 L314.4 928 L314 926.8 L314.2 925.6 L315.1 924.8 L316.3 925.9 L316.7 927.6ZM320.4 929.6 L319.7 931.2 L317.4 931.2 L316.3 929.8 L316.1 928.3 L317.7 927 L319.7 928.2ZM318.7 931.9 L317.4 930.2 L318.2 927.4 L320.3 927 L322.1 927.1 L321.8 929.5 L320.7 931.3ZM328 928.7 L327.2 929.8 L325.1 929.2 L323.1 928.3 L323.2 926.7 L325.6 926.6 L327.3 927.5ZM327.6 929.5 L326.6 930.2 L325.7 929.4 L325 928.1 L326.2 927.4 L327.6 927.2 L328.4 928.4ZM336.8 929.8 L335.4 929.2 L333.9 927.5 L334 925.6 L334.7 924.2 L336.5 926.2 L337.7 928.7ZM343.1 929 L341.5 928.6 L340.3 927.7 L339.3 926.3 L340.3 926.1 L341.6 926 L342.3 927.5ZM343.5 927.7 L343.6 926.6 L344.8 926.2 L345.6 926.7 L346.4 927.6 L345.4 928.4 L344.1 928.6ZM346.8 930.4 L345.5 929.1 L345.5 926.6 L346.3 923.6 L348.1 924.3 L348.9 926.8 L348.6 929.9ZM353 929.4 L352.5 927.7 L352.7 925.6 L354.7 924.5 L356 925.6 L356.6 927.6 L354.9 929.6ZM357.7 929.5 L356.8 929.5 L355.7 928.7 L355.7 927.6 L356.3 926.8 L357.5 927.4 L358.2 928.7ZM357.6 930.9 L356.8 929.6 L358.4 928.1 L360.4 927.1 L361 928.6 L360.7 930.3 L358.9 931.5ZM376.7 930.6 L375.1 931 L373.7 929.7 L372.7 928.2 L373.8 927.4 L375.4 927.5 L376.6 929ZM379.1 929.5 L378.8 927.8 L381 926.8 L382.8 927.4 L383.9 928.9 L382 930.1 L380.1 930.9ZM322.2 934.6 L320.8 934.2 L318.8 932.2 L318.3 929.2 L319.7 928.1 L322.1 930.2 L323.4 933.5ZM339.4 934 L337.8 933.7 L336.1 932.3 L335 930.6 L335.8 930.1 L337.5 930.5 L339.1 932.4ZM340.6 932.4 L340 930.8 L340.8 929.4 L342.3 929.9 L343.8 930.8 L343 932.1 L342.1 932.6ZM348.4 931.2 L346.8 932 L345.5 931.7 L344.9 930.5 L345.3 928.8 L346.9 928.2 L348.1 929.4ZM351.7 931.1 L351.7 930 L352.1 929.2 L353.2 929.2 L353.9 930.1 L353.7 931.2 L352.8 931.8ZM357 931.5 L355.9 931.7 L354.4 930.3 L354.7 928.6 L355.7 928.2 L356.8 929.2 L357.6 930.6ZM364.9 933.4 L362.6 934.2 L360.2 932.5 L358.3 930.4 L360.1 929.3 L362.4 928.6 L365.4 930.9ZM367.4 932.4 L366.1 931.6 L365.4 929.7 L366.7 928.4 L368.1 928.1 L368.9 929.7 L368.8 931.7ZM367.7 932.8 L368.3 931.4 L370.2 930.4 L373.1 930.3 L373 932.4 L371.3 934 L368.8 934ZM377 932.8 L376.2 933.4 L374.8 933.8 L373.8 933 L373.9 932.2 L374.9 931.6 L376.2 932.2ZM386.7 931.3 L387.1 930 L388.5 928.9 L389.7 930.3 L389.3 931.8 L388.6 932.8 L387.4 932.4ZM390.9 934.7 L389.3 934.1 L388.8 931 L390.1 929.1 L391.8 928.6 L392.4 931.2 L392.6 934.2ZM324.6 935 L325.2 934 L326.9 933.6 L328.2 933.9 L328.4 934.7 L327.1 935.2 L325.7 935.6ZM329.3 934.7 L329.7 932.7 L331.3 931.4 L333.4 931 L333.8 932.7 L332.9 934.1 L331.3 935ZM337.9 934.8 L336.5 935.8 L335.4 934.4 L335 933 L336 931.7 L337.9 931.7 L338.6 933.3ZM346.6 937.5 L346 936.7 L346.4 934.9 L347.3 934.3 L348.2 934.1 L348 935.6 L347.4 936.7ZM350.9 936.9 L349.3 937 L347.7 936.2 L347.3 934.7 L347.8 933.5 L349.7 933.5 L350.7 935.3ZM364.2 937.4 L364.3 935.3 L364.9 933.5 L366.7 931.7 L368.3 932.7 L367.5 935.1 L366.1 936.5ZM370.3 933.3 L369.4 934.7 L367.8 934.7 L366.2 934 L366.6 932.4 L367.9 931.4 L369.4 931.9ZM376.1 937.3 L375.2 936.5 L374.9 935 L375.3 933.7 L376.3 932.9 L376.9 934.8 L377.1 936.8ZM381 934.3 L380.2 935.1 L378.5 934.3 L377 933.2 L377.7 932.4 L379.2 932.5 L380.9 933.2ZM383.8 936 L382.7 935.8 L381.6 935.3 L381.1 933.9 L382.1 933.5 L383.2 933.7 L384.1 934.9ZM386.9 935 L385.3 935.3 L383.3 934.2 L382.1 932.6 L382.9 931.7 L384.7 932.3 L386.1 933.4ZM387.2 936.6 L386.8 935.5 L387.4 934.4 L388.5 933.6 L389.6 934.2 L389.5 935.7 L388.3 936.6ZM390.1 935.1 L389.3 933.7 L391 932.4 L392.9 931.9 L394.1 933.1 L393.5 935.3 L391.2 936.2ZM332.7 938.9 L332.3 937.6 L333.7 935.7 L335.3 935.1 L336.7 935.2 L335.7 937.4 L334.1 938.7ZM343.7 940.1 L342.2 939.8 L340.5 938.7 L339.6 937 L340.2 936.2 L341.9 937.4 L343.2 938.6ZM345.4 939.1 L344 939.2 L342.5 938 L341.1 936.4 L341.7 935.2 L343.8 936.2 L345.3 937.7ZM349.8 940.2 L348.8 939.5 L348.6 937.9 L349.1 936.9 L350 936.1 L350.7 937.7 L350.4 939.1ZM357.1 941.2 L355.9 939.5 L356.1 937.1 L357.4 934.9 L359.3 935.3 L359.8 937.8 L358.7 940ZM362.4 938.3 L363 936.4 L365.3 936.2 L367.5 936.2 L367.2 937.9 L366 939.2 L364.1 939.2ZM371.7 941.1 L369.8 940.6 L369.6 937.6 L370.9 935.7 L372.4 936.2 L373.8 937.6 L373.4 940.5ZM381.8 939.2 L380.8 939.6 L379.3 939.4 L379.3 937.9 L379.9 936.6 L381.6 936.8 L382.4 938.2ZM386.6 939.8 L386 938.4 L386.3 936.3 L387.6 934.7 L388.8 935.2 L388.9 937.2 L388 939.2ZM392.7 938.6 L392.5 937.1 L394 935.3 L395.7 934.9 L396.4 935.8 L395.7 937.3 L394.2 938.7ZM350.2 943.7 L348.9 942.9 L348.5 939.9 L349.1 937.9 L350.1 937.8 L351.2 939.6 L351 942.3ZM356.3 942 L355.3 941.7 L354.3 940.3 L354.2 938.6 L355.3 939 L356.2 939.5 L356.7 941ZM362.7 942.3 L361.7 941.8 L361.7 939.5 L362.8 938.2 L363.7 938.7 L364.1 940 L363.8 942ZM368.8 940.2 L367.5 940.6 L366.2 940.7 L365.4 939.5 L366 938.5 L367.2 937.9 L368.6 938.8ZM371 940.2 L369.8 940.9 L368.1 940.5 L366.8 939.5 L367.6 938.6 L368.8 938.1 L370.2 939ZM371.4 942.3 L371.4 941 L373.5 940.1 L375.1 940 L375.2 941 L374.7 942.3 L372.6 942.7ZM377.9 941.5 L376.9 940.9 L376.7 939.8 L377 938.7 L378 938.8 L378.8 939.4 L379 940.9ZM388.2 942.1 L386.9 941.5 L386.3 939.6 L387.1 938.2 L388.3 937.8 L389.3 939.3 L389.7 941.6ZM396.4 941.4 L395 942.8 L392.1 942.7 L389.5 942 L389.7 940.4 L392.3 939.9 L395.1 939.8ZM395.1 944.7 L393.5 944 L393.1 941.9 L393.8 940.4 L395.2 939.7 L396 941.5 L396.3 943.4ZM402.3 943.1 L402.5 941.9 L403.1 940.2 L404.7 939.6 L405.2 940.3 L404.8 941.8 L403.5 942.8ZM407 942.7 L406.8 941 L407.8 939.7 L409.4 938.6 L410.4 940.1 L410.3 941.8 L408.8 943ZM347.7 943.6 L347.6 942 L349.6 940.2 L351.5 941.1 L353 942.4 L351.4 944.4 L348.8 944.8ZM354.9 945 L354.3 944 L355.1 942.7 L356.1 942.4 L356.8 942.8 L356.9 943.9 L356 945.3ZM362 944.2 L360.9 942.9 L362.4 941.8 L363.9 941.2 L364.5 942.5 L364.8 944 L363.3 944.7ZM370.8 945.6 L369.4 946 L368.2 945.3 L368.5 943.7 L370 943 L371.4 943.2 L372.1 944.4ZM379.7 946.1 L377.5 947.3 L374.8 946.5 L373 944.8 L372.9 942.6 L376 942.5 L378.7 943.8ZM382.7 945.8 L380.9 946 L379 944.6 L378.7 942.2 L380.5 941.1 L382.3 942.5 L382.9 944.1ZM395.2 943.8 L396.1 941.8 L398.8 941 L401.5 941.6 L400.9 943.6 L399.5 945.2 L396.4 945.7ZM405.6 944 L406.4 943 L407.6 942.5 L408.5 943.3 L408.6 944.4 L407.7 945.3 L406.5 944.9ZM415.8 944.3 L414.9 945.2 L413.2 945.1 L412.3 943.8 L412.4 942.2 L414.2 942.4 L416 942.8ZM413.9 947.4 L414 945.6 L415.4 944.1 L417.1 943.1 L417.8 944.2 L417.7 946 L415.6 947.8ZM421.3 946 L420 945.7 L419.7 943.7 L420 941.9 L421.2 941.8 L422.3 943.1 L422.1 944.9ZM429.9 948 L428.3 947.2 L427.9 944 L428.8 940.8 L430.8 940.9 L431.6 944.1 L431.3 947ZM432.4 944.9 L431.5 943.7 L432 942.2 L433.8 941.9 L434.8 943.3 L435.1 944.9 L433.8 946ZM440.1 944.6 L439.4 946.4 L437 946.4 L435.7 944.9 L435.5 943 L437.6 942.2 L439.4 943.1ZM439.8 946.7 L438.2 945.9 L437 944.3 L436.6 942.2 L437.9 942.3 L439.2 943.1 L439.8 944.9ZM359.1 947.3 L358.8 946.2 L359.5 945.2 L360.8 945.2 L361.5 946.2 L361 947.4 L360 947.8ZM364.6 947.6 L365.4 946.3 L367 945.2 L368.9 945.5 L368.8 946.8 L367.7 947.7 L366 948.4ZM378.2 948.7 L376.8 948.5 L375 946.6 L373.6 943.8 L375.1 943.6 L377 945 L378.2 947.2ZM380.7 947.2 L379.4 947.9 L378.4 947.1 L377.7 945.9 L378.8 945.1 L380 944.8 L380.8 945.8ZM379.8 948.2 L381 946.7 L383.5 945 L385.6 946.4 L386.1 948 L383.9 949.3 L381.2 949.6ZM381.6 949.4 L382.4 947.5 L385.1 946.1 L386.8 946.8 L387.9 947.6 L386 949 L384 949.4ZM391.2 947.7 L389.5 947.9 L387.6 947.2 L386.9 945.8 L387.4 944.9 L388.9 944.7 L391 946ZM391.5 948.7 L390.8 947.9 L392 947 L393.1 946.6 L393.6 947.3 L393.4 948.4 L392.3 949.2ZM403.9 949.1 L402.7 948.9 L402.6 946.2 L403.5 944.9 L404.5 944.3 L405.2 946.2 L405.1 948.7ZM409.7 949.3 L407.8 949.6 L406.7 947.7 L406.9 946.1 L408.1 944.9 L409.7 945.8 L410.8 947.7ZM415.9 948 L414 948.1 L412.4 947.1 L413 945.2 L414.7 944 L416.1 945 L416.6 946.3ZM421.6 948.1 L420.9 948.4 L420 948.3 L419.8 947.4 L420 946.4 L421 946.7 L422 947.2ZM425.5 947.6 L424.3 947.9 L423.4 946.2 L423.7 944.8 L424.7 944.3 L426.1 945 L426.3 946.8ZM429.6 947.7 L428.7 947.2 L429.2 945.8 L430.2 944.7 L431.1 945.3 L431.1 946.5 L430.5 947.6ZM430.2 950.7 L429.7 949 L431.2 946.7 L433 945.6 L434 946.3 L433.8 948.4 L431.9 950.6ZM434.1 949 L433.5 947.4 L434.6 945.6 L436 944.4 L437.1 945.2 L437.5 947 L435.8 948.5ZM441.6 949.6 L440 949.6 L438 948.9 L437.5 947.2 L438.1 946.3 L439.8 946.7 L441.1 948.1ZM444.7 948.2 L444.2 947 L444.5 945.5 L445.9 944.8 L446.9 945.4 L447.5 947 L446 948.3ZM387.7 951.1 L386.7 950.9 L385.6 950.6 L385.2 949.4 L386.1 949.2 L387 949.1 L387.4 950.1ZM390.7 952.2 L389.3 953.1 L387.6 951.7 L387.3 950 L388.4 949.2 L389.9 949.3 L391 950.8ZM396.6 952.8 L394.6 953.4 L392.1 952.5 L389.5 951.1 L390.8 950.2 L392.9 950.2 L395.3 951ZM408.9 952.5 L407.6 952.2 L406.5 951.5 L406.3 950.1 L407.1 948.9 L408.5 949.9 L409.2 951.1ZM415.7 953.6 L413.9 953.3 L412.2 951.9 L411.3 950.6 L411.6 949.7 L413.3 950.5 L414.7 951.8ZM416.7 952.1 L415.1 951.4 L415.3 949.6 L416.3 948.6 L417.6 948.6 L418.7 949.7 L418.5 951.7ZM417.4 950.3 L418.5 948.6 L420.8 948 L422.9 948.7 L422.5 950.4 L421.2 951.6 L418.8 951.9ZM393.9 954.7 L392.1 955 L390.1 954.2 L389.1 952.4 L389.8 950.9 L391.9 951.7 L393.7 952.9ZM396.3 955.1 L394.5 955.7 L393.2 953.7 L392.5 952 L393.6 950.8 L395.6 951.4 L397.1 953.4ZM406.2 955.5 L405 956 L403.2 955.2 L401.4 953.6 L402.3 952.2 L404.7 952.4 L406.5 954.1ZM413.1 956 L411.8 955.6 L411.6 954.4 L412.2 953.3 L413.7 953.1 L414.9 954.1 L414.6 955.7ZM422.3 955.1 L422.5 953.1 L424.6 952.2 L426.1 953.9 L425.8 956 L424.7 957.7 L422.5 957.5ZM420.9 960.2 L419 960.6 L417.4 957.8 L417.4 955.4 L418.9 954.7 L421.2 955.6 L421.8 958.6ZM423.2 956.7 L423.3 955.4 L424.4 954.4 L426 954.8 L426.6 956.3 L425.6 957.6 L424 957.8ZM432.2 961.8 L430.8 960 L430.3 957.4 L431.5 955.4 L433.3 955 L433.7 957.6 L433.4 959.6ZM414.8 959.5 L414.8 958.5 L416.6 957.9 L417.8 958.1 L418.6 958.8 L417.3 959.8 L415.6 960ZM421.9 961.9 L420.7 962.1 L419.8 960.8 L418.9 959.6 L419.8 959.2 L421 959.5 L421.6 960.6ZM425 961.9 L423.9 961.7 L424.1 960.6 L424.6 959.6 L425.6 959.9 L426 960.7 L425.8 961.7ZM431.5 963.8 L430 964.1 L427.7 961.2 L428 958.9 L428.8 957.2 L431.2 959.3 L432.2 962.4ZM436.5 961.1 L435.5 960.3 L434.7 958.5 L436 957.4 L437.3 956.6 L437.6 958.6 L437.9 960.6ZM234.8 739.2 L233.9 738.5 L234.6 735.9 L235.9 733.9 L236.8 734.7 L237.1 736.6 L235.8 738.3ZM241.5 740.7 L240.2 739.5 L240 737.2 L241.2 735.2 L242.8 735.9 L244.1 737.6 L242.9 739.6ZM247 739.9 L246.3 738.8 L246.4 736.2 L247.5 734 L248.7 734.1 L248.7 736.7 L248.1 739ZM235.8 740.7 L234.7 740.6 L233 739.3 L232.8 737.7 L233.6 737.2 L235.1 737.6 L236.1 739.5ZM245.9 743.4 L244.5 742.4 L243.3 740.7 L243.7 739.3 L244.4 738.4 L245.8 739.7 L246.1 741.8ZM245 739.8 L246.7 738.4 L249.4 737.6 L251.1 738.2 L251.5 739.1 L249.7 740 L247 740.6ZM237.7 745 L236.9 745.7 L235.9 745.2 L235.8 744.3 L236 743.4 L237 743.5 L237.5 744.1ZM243 744.7 L241.8 744.2 L242.3 741.8 L243.1 740 L244.3 740.1 L244.8 742 L244 743.9ZM251.8 745.1 L250.6 744.2 L250.2 742.7 L251.4 741.4 L253.3 741.5 L253.6 743.2 L253.7 745.1ZM245.2 747.7 L243.8 747.1 L243.2 745.3 L243 743.6 L244.1 743.7 L245.5 744.2 L246 746.5ZM251.5 746.9 L250.3 747.1 L248.6 745.8 L248.2 744.6 L248.1 743.4 L250 744.1 L251.4 745.6ZM256.2 746 L254.5 746.8 L252.8 747.5 L251.5 745.8 L252.3 744 L254 743.2 L255.4 744.2ZM260.6 747.6 L259.2 748.1 L256.5 747.5 L255.2 746.2 L255.6 745.4 L257.3 745.3 L259.3 746.3ZM260.2 749.4 L259.7 748.3 L260.5 746.5 L261.8 745.8 L262.8 746.3 L262.6 747.9 L261.3 749.2ZM254.6 751.1 L255.5 749.4 L257.2 748.6 L259.1 748.5 L259 750 L258.6 751.8 L256.4 751.7ZM262.1 751.2 L261.5 750.1 L263 748.6 L264.8 748.3 L265.7 749.4 L264.6 751 L263 752.1ZM262.4 753.5 L262.1 752 L263.3 750.4 L264.8 750.3 L266 751 L265.2 752.5 L264 753.4ZM260.3 758.6 L260.5 757.3 L261.1 755.8 L262.8 755.3 L263.5 756.4 L263.1 758 L261.6 759ZM266.5 756.8 L266.6 755 L269 753.3 L271.1 753.4 L272.2 754.3 L270.7 756.2 L268.1 757.5ZM273.9 761.2 L271.8 761.7 L269.7 761.6 L269.6 759.4 L271 758.2 L273 757 L274.2 759ZM270.1 763.6 L268.3 763.8 L266.6 763.1 L267 761 L268.9 759.9 L270.9 760.3 L271.5 762.1ZM274.8 766 L273.4 765 L272.4 763.1 L272.8 761.2 L274.1 760.8 L275.1 762.5 L275.8 764.5ZM271.5 769.9 L270.2 768.3 L269.4 765.5 L270.1 762.6 L271.7 762.3 L272.4 765.4 L272.3 767.8ZM271.2 768.3 L272.7 766.3 L274.9 764 L278.4 763.8 L279 765.8 L276.6 768 L273.2 769.4ZM276.6 767.5 L276.4 766.2 L277 765 L278.2 764.9 L278.9 765.5 L278.9 766.6 L277.9 767.7ZM276.9 771.1 L276.5 769.5 L276.8 767.6 L278.4 767 L280 767.3 L279.7 769.3 L278.6 770.9ZM282.3 771.6 L281.1 771.8 L279.9 771 L278.9 769.5 L279.9 768.2 L281.5 769.2 L283.1 770.3ZM286.7 772.8 L285.9 771.7 L286.4 769.8 L287.3 768.5 L288.3 768.7 L288.9 770.3 L287.9 772.2ZM273.4 772.4 L274.7 771.5 L276.1 771 L277.6 771 L278.1 771.8 L276.8 772.9 L274.7 773.1ZM278.4 773.3 L277.5 774.8 L275.6 774.7 L275.3 773 L275.3 771.4 L276.9 771.3 L278.5 771.6ZM285.2 773 L283.4 774 L280.9 773.4 L280 771.4 L280.4 769.5 L282.8 769.7 L284.6 771ZM281.7 772.9 L281.5 771.4 L282.9 770.1 L284.4 769.8 L285.5 770.7 L284.8 772.3 L283.2 773ZM289.6 773.2 L288.2 774.2 L286.7 773.4 L287.1 771.7 L288 770.3 L289.4 770.7 L290.6 771.7ZM282.8 778.3 L281.7 777.1 L281.6 775.2 L282.8 774.3 L283.8 774.4 L285 775.5 L283.9 776.9ZM288.9 778.9 L286.6 779.3 L286.1 775.7 L286.2 772.2 L288.6 772.9 L290.1 775 L290.8 778.1ZM290 777.5 L288.9 776.4 L288.2 774.2 L288.7 772.1 L290 771.6 L291.1 773.8 L290.8 776ZM276.5 782.5 L275.2 782.1 L274.1 780.6 L273.4 778.6 L274.6 778.1 L276.3 779.1 L277.1 781.3ZM278.2 781.2 L277.2 779.5 L277.2 776.9 L279 775 L280.8 775.4 L281.2 778 L279.9 780.3ZM283.4 780.2 L281.7 779.3 L279.9 778.1 L280.1 776.6 L280.6 775.8 L282.1 776.5 L283.2 778.4ZM280.3 782 L279.6 782.6 L278.5 782.4 L278.1 781.6 L278 780.8 L279 780.6 L280.2 781.1ZM286.2 785.3 L284.7 784.2 L283.7 782.6 L283.3 780.5 L284.5 779.6 L286.2 781.3 L286.6 783.5ZM282.3 787.3 L281 786.5 L280.8 785.2 L281 783.6 L282.7 783.5 L283.9 784.7 L283.1 786.1ZM279.5 792.7 L279.1 790.6 L280.3 787.5 L282.9 787.3 L284.8 788 L284 790.8 L281.7 793.5ZM277.6 793.9 L276.5 793.5 L277 790.6 L278.2 788.8 L279.1 789.4 L279.7 791.2 L278.8 794.1ZM578.9 846.6 L578.4 847.6 L577.5 848.5 L576.4 848 L575.8 847.2 L575.8 846.1 L576.4 845.2 L577.5 845.1 L578.3 845.7ZM575 861.8 L574.7 862.8 L573.8 863.1 L572.7 863.1 L572.2 862.2 L572.2 861.3 L572.8 860.5 L573.8 860.1 L574.8 860.7ZM640.6 870 L640.4 871.2 L639.3 871.4 L638.1 871.7 L637.4 870.6 L637.8 869.5 L638.2 868.5 L639.4 868.2 L640.5 868.9ZM876.6 235.6 L877.2 236.3 L875.9 237.6 L874.1 238.4 L873.2 238 L872.3 237.5 L872.8 236.3 L874.5 235.3 L875.9 235.2ZM883.4 233.5 L882.7 234.1 L881.7 234.6 L880.2 234.4 L879.1 233.9 L879 233.1 L880.1 232.5 L881.6 232.6 L882.9 232.8ZM872.5 243.2 L871.8 244 L871.1 244.6 L869.9 244.7 L869.3 243.7 L869.6 242.7 L870.2 242.1 L871.1 241.3 L871.8 242.4ZM874.6 260.2 L874.1 262.5 L873.2 263.3 L872 263.8 L871.2 261.6 L871.2 258.7 L872.2 257.3 L873.2 256.9 L874.2 257.7ZM875.3 268 L874.8 268.7 L874.2 269.4 L873.3 269.1 L872.8 268.5 L872.6 267.5 L873.4 267 L874.2 266.9 L875 267.2ZM877.8 287.7 L877.7 290.1 L876.3 290.4 L875 290.7 L874.5 288.6 L874.4 286.6 L875.2 285 L876.4 284.3 L877.5 285.5ZM869.7 310.4 L869.6 312.1 L868.6 313.2 L867.4 312.5 L866.2 311.5 L866.8 309.7 L867.4 308.4 L868.6 307.4 L869.8 308.5ZM872.5 278.5 L872.4 279.8 L871.8 280.7 L871.1 280.4 L870.6 279.2 L870.7 277.8 L871.1 276.9 L871.8 276.8 L872.3 277.3ZM812.5 350.4 L811.8 351.9 L811 353.1 L809.7 352.9 L809.2 351.3 L809 349.6 L809.8 348.2 L810.9 347.9 L812.1 348.7ZM826.7 354.9 L826.4 355.6 L825.8 356.2 L825 355.8 L824.1 355.4 L824.2 354.4 L824.8 353.6 L825.8 353.6 L826.7 353.9ZM571.5 862.9 L574.9 861.2 L579.5 864.1 L586.4 864.6 L590.9 862.9 L594.4 864.6 L593.2 869.8 L589.8 873.2 L585.2 873.2 L580.6 870.4 L577.2 867.5 L572.6 865.8ZM587.5 853.5 L590.9 851.5 L595.5 852.6 L602.4 852 L609.3 850.9 L616.2 851.5 L619.6 853.8 L617.3 855.8 L609.3 854.9 L601.3 855.6 L594.4 856.7 L589.8 856.7ZM589.2 859.7 L594.4 858.6 L598.4 860.1 L594.4 861.5 L590.9 862ZM609.9 869.2 L615 867.5 L619 868.9 L615 873.8 L611 876.1 L608.7 875.3ZM617.9 871.2 L624.2 870.6 L628.2 869.6 L624.2 872.8 L619.8 873.9ZM624.8 856.6 L627.6 853.2 L630.1 852.6 L628.5 856 L627.6 861.2 L630.1 865 L627.9 864.1 L625.3 860.4Z" fill="#000" stroke="#000" stroke-width="1.2" stroke-linejoin="round"/>
</g>
<rect x="70.0" y="64.0" width="830.1" height="923.8" fill="none" stroke="#000" stroke-width="1.67"/>
<text x="70" y="29.7">NSF NCAR 3.75-km MPAS-A</text>
<text x="70" y="51.8">6-hr Accumulated Precipitation (mm)</text>
<text x="900" y="29.7" text-anchor="end">Init: 2025-09-13 00:00 UTC</text>
<text x="900" y="51.8" text-anchor="end">Valid: 2025-09-15 19:00 UTC</text>
<text x="59.6" y="948.4" text-anchor="end">55°S</text>
<text x="59.6" y="829.8" text-anchor="end">50°S</text>
<text x="59.6" y="711.2" text-anchor="end">45°S</text>
<text x="59.6" y="592.6" text-anchor="end">40°S</text>
<text x="59.6" y="474.0" text-anchor="end">35°S</text>
<text x="59.6" y="355.4" text-anchor="end">30°S</text>
<text x="59.6" y="236.8" text-anchor="end">25°S</text>
<text x="59.6" y="118.2" text-anchor="end">20°S</text>
<text x="128.9" y="1015" text-anchor="middle">80°W</text>
<text x="247.5" y="1015" text-anchor="middle">75°W</text>
<text x="366.1" y="1015" text-anchor="middle">70°W</text>
<text x="484.7" y="1015" text-anchor="middle">65°W</text>
<text x="603.3" y="1015" text-anchor="middle">60°W</text>
<text x="721.9" y="1015" text-anchor="middle">55°W</text>
<text x="840.5" y="1015" text-anchor="middle">50°W</text>
<rect x="927.5" y="315.80" width="10.30" height="32.59" fill="#ff44ff"/>
<rect x="927.5" y="348.09" width="10.30" height="32.59" fill="#880088"/>
<rect x="927.5" y="380.38" width="10.30" height="32.59" fill="#990000"/>
<rect x="927.5" y="412.67" width="10.30" height="32.59" fill="#cc1414"/>
<rect x="927.5" y="444.96" width="10.30" height="32.59" fill="#ee8c26"/>
<rect x="927.5" y="477.25" width="10.30" height="32.59" fill="#fbb83c"/>
<rect x="927.5" y="509.54" width="10.30" height="32.59" fill="#fff200"/>
<rect x="927.5" y="541.83" width="10.30" height="32.59" fill="#55dd66"/>
<rect x="927.5" y="574.12" width="10.30" height="32.59" fill="#22772a"/>
<rect x="927.5" y="606.41" width="10.30" height="32.59" fill="#1c8a9c"/>
<rect x="927.5" y="638.70" width="10.30" height="32.59" fill="#2e9ff8"/>
<rect x="927.5" y="670.99" width="10.30" height="32.59" fill="#a6d5fa"/>
<rect x="927.5" y="703.28" width="10.30" height="32.59" fill="#e6e6e6"/>
<path d="M927.5 315.8L932.65 294.7L937.8 315.8Z" fill="#ffccff"/>
<path d="M927.5 735.6L932.65 756.4L937.8 735.6Z" fill="#fff"/>
<path d="M927.5 315.8L932.65 294.7L937.8 315.8V735.6L932.65 756.4L927.5 735.6Z" fill="none" stroke="#000" stroke-width="1.67" stroke-linejoin="miter"/>
<text x="952.2" y="323.6">100.0</text>
<text x="952.2" y="355.9">75.0</text>
<text x="952.2" y="388.2">60.0</text>
<text x="952.2" y="420.5">50.0</text>
<text x="952.2" y="452.8">40.0</text>
<text x="952.2" y="485.1">30.0</text>
<text x="952.2" y="517.3">25.0</text>
<text x="952.2" y="549.6">20.0</text>
<text x="952.2" y="581.9">15.0</text>
<text x="952.2" y="614.2">10.0</text>
<text x="952.2" y="646.5">5.0</text>
<text x="952.2" y="678.8">2.0</text>
<text x="952.2" y="711.1">1.0</text>
<text x="952.2" y="743.4">0.1</text>
<path d="M937.8 315.8h7.3M937.8 348.1h7.3M937.8 380.4h7.3M937.8 412.7h7.3M937.8 445.0h7.3M937.8 477.2h7.3M937.8 509.5h7.3M937.8 541.8h7.3M937.8 574.1h7.3M937.8 606.4h7.3M937.8 638.7h7.3M937.8 671.0h7.3M937.8 703.3h7.3M937.8 735.6h7.3" stroke="#000" stroke-width="1.67" fill="none"/>
<text transform="translate(1030.4,528.6) rotate(-90)" text-anchor="middle">[mm]</text>
</svg></body></html>
